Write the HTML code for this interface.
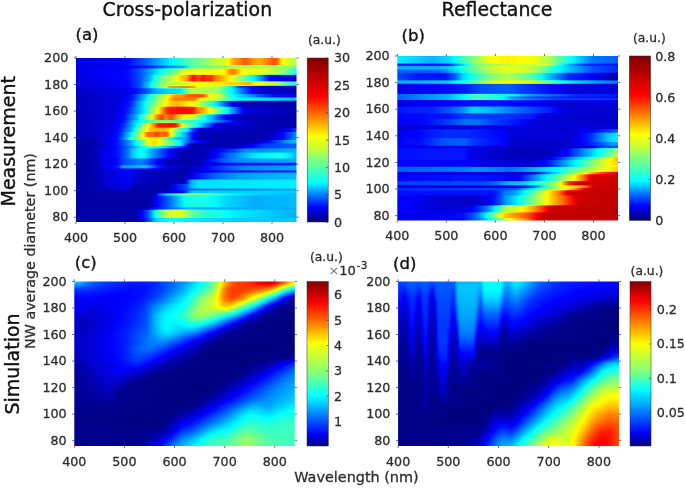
<!DOCTYPE html>
<html><head><meta charset="utf-8"><title>Figure</title>
<style>html,body{margin:0;padding:0;background:#fff}svg{display:block}text{font-family:"DejaVu Sans", "Liberation Sans", sans-serif;stroke-linejoin:round}.t{stroke:#262626;stroke-width:.28}.b{stroke:#111;stroke-width:.36}</style></head>
<body>
<svg width="685" height="488" viewBox="0 0 685 488">
<defs>
<linearGradient id="jet" x1="0" y1="1" x2="0" y2="0">
<stop offset="0.0" stop-color="#000080"/>
<stop offset="0.125" stop-color="#0000ff"/>
<stop offset="0.25" stop-color="#0080ff"/>
<stop offset="0.375" stop-color="#00ffff"/>
<stop offset="0.5" stop-color="#80ff80"/>
<stop offset="0.625" stop-color="#ffff00"/>
<stop offset="0.75" stop-color="#ff8000"/>
<stop offset="0.875" stop-color="#ff0000"/>
<stop offset="1.0" stop-color="#800000"/>
</linearGradient>
<linearGradient id="jetm" x1="0" y1="1" x2="0" y2="0">
<stop offset="0" stop-color="#000080"/>
<stop offset="0.034" stop-color="#0000aa"/>
<stop offset="0.088" stop-color="#0000ff"/>
<stop offset="0.168" stop-color="#0080ff"/>
<stop offset="0.24" stop-color="#00ffff"/>
<stop offset="0.333" stop-color="#59ffa6"/>
<stop offset="0.382" stop-color="#80ff80"/>
<stop offset="0.447" stop-color="#c7ff38"/>
<stop offset="0.524" stop-color="#ffff00"/>
<stop offset="0.64" stop-color="#ff8000"/>
<stop offset="0.763" stop-color="#ff0000"/>
<stop offset="0.88" stop-color="#c00000"/>
<stop offset="1" stop-color="#800000"/>
</linearGradient>
<linearGradient id="jetc" x1="0" y1="1" x2="0" y2="0">
<stop offset="0" stop-color="#000080"/>
<stop offset="0.07" stop-color="#0000ff"/>
<stop offset="0.19" stop-color="#0080ff"/>
<stop offset="0.305" stop-color="#00ffff"/>
<stop offset="0.44" stop-color="#80ff80"/>
<stop offset="0.628" stop-color="#ffff00"/>
<stop offset="0.742" stop-color="#ff8000"/>
<stop offset="0.872" stop-color="#ff0000"/>
<stop offset="1" stop-color="#800000"/>
</linearGradient>
<linearGradient id="jetd" x1="0" y1="1" x2="0" y2="0">
<stop offset="0" stop-color="#000080"/>
<stop offset="0.082" stop-color="#0000ff"/>
<stop offset="0.21" stop-color="#0080ff"/>
<stop offset="0.343" stop-color="#00ffff"/>
<stop offset="0.45" stop-color="#80ff80"/>
<stop offset="0.622" stop-color="#ffff00"/>
<stop offset="0.752" stop-color="#ff8000"/>
<stop offset="0.882" stop-color="#ff0000"/>
<stop offset="1" stop-color="#800000"/>
</linearGradient>
<filter id="fa" x="0" y="0" width="100%" height="100%" color-interpolation-filters="sRGB">
<feGaussianBlur stdDeviation="1 0.7"/>
<feComponentTransfer><feFuncR type="table" tableValues="0 0 0 0 .5 1 1 1 .5"/><feFuncG type="table" tableValues="0 0 .5 1 1 1 .5 0 0"/><feFuncB type="table" tableValues=".5 1 1 1 .5 0 0 0 0"/><feFuncA type="linear" slope="0" intercept="1"/></feComponentTransfer></filter>
<clipPath id="ca"><rect x="76" y="58" width="220.5" height="164"/></clipPath>
<filter id="fb" x="0" y="0" width="100%" height="100%" color-interpolation-filters="sRGB">
<feGaussianBlur stdDeviation="1 0.7"/>
<feComponentTransfer><feFuncR type="table" tableValues="0 0 0 0 .5 1 1 1 .5"/><feFuncG type="table" tableValues="0 0 .5 1 1 1 .5 0 0"/><feFuncB type="table" tableValues=".5 1 1 1 .5 0 0 0 0"/><feFuncA type="linear" slope="0" intercept="1"/></feComponentTransfer></filter>
<clipPath id="cb"><rect x="397.3" y="56" width="220.7" height="164.4"/></clipPath>
<filter id="fc" x="0" y="0" width="100%" height="100%" color-interpolation-filters="sRGB">
<feGaussianBlur stdDeviation="1.5 1.5"/>
<feComponentTransfer><feFuncR type="table" tableValues="0 0 0 0 .5 1 1 1 .5"/><feFuncG type="table" tableValues="0 0 .5 1 1 1 .5 0 0"/><feFuncB type="table" tableValues=".5 1 1 1 .5 0 0 0 0"/><feFuncA type="linear" slope="0" intercept="1"/></feComponentTransfer></filter>
<clipPath id="cc"><rect x="74.3" y="281.5" width="220.5" height="164.5"/></clipPath>
<filter id="fd" x="0" y="0" width="100%" height="100%" color-interpolation-filters="sRGB">
<feGaussianBlur stdDeviation="1.1 1.5"/>
<feComponentTransfer><feFuncR type="table" tableValues="0 0 0 0 .5 1 1 1 .5"/><feFuncG type="table" tableValues="0 0 .5 1 1 1 .5 0 0"/><feFuncB type="table" tableValues=".5 1 1 1 .5 0 0 0 0"/><feFuncA type="linear" slope="0" intercept="1"/></feComponentTransfer></filter>
<clipPath id="cd"><rect x="398.1" y="281.5" width="220.9" height="164.5"/></clipPath>
<linearGradient id="ga0"><stop offset="0" stop-color="#1a1a1a"/><stop offset=".133" stop-color="#1c1c1c"/><stop offset=".233" stop-color="#222222"/><stop offset=".322" stop-color="#393939"/><stop offset=".433" stop-color="#5d5d5d"/><stop offset=".533" stop-color="#797979"/><stop offset=".578" stop-color="#808080"/><stop offset=".622" stop-color="#8e8e8e"/><stop offset=".689" stop-color="#999999"/><stop offset=".7" stop-color="#ababab"/><stop offset=".711" stop-color="#b5b5b5"/><stop offset=".744" stop-color="#bfbfbf"/><stop offset=".767" stop-color="#cccccc"/><stop offset=".8" stop-color="#bbbbbb"/><stop offset=".833" stop-color="#b2b2b2"/><stop offset=".9" stop-color="#cccccc"/><stop offset=".911" stop-color="#c6c6c6"/><stop offset=".922" stop-color="#b6b6b6"/><stop offset=".933" stop-color="#a1a1a1"/><stop offset=".989" stop-color="#8d8d8d"/><stop offset="1" stop-color="#8a8a8a"/></linearGradient>
<linearGradient id="ga1"><stop offset="0" stop-color="#1a1a1a"/><stop offset=".233" stop-color="#1d1d1d"/><stop offset=".344" stop-color="#292929"/><stop offset=".433" stop-color="#424242"/><stop offset=".478" stop-color="#494949"/><stop offset=".5" stop-color="#555555"/><stop offset=".522" stop-color="#6c6c6c"/><stop offset=".533" stop-color="#737373"/><stop offset=".811" stop-color="#8c8c8c"/><stop offset="1" stop-color="#808080"/></linearGradient>
<linearGradient id="ga2"><stop offset="0" stop-color="#1a1a1a"/><stop offset=".111" stop-color="#1f1f1f"/><stop offset=".233" stop-color="#222222"/><stop offset=".3" stop-color="#383838"/><stop offset=".444" stop-color="#7d7d7d"/><stop offset=".489" stop-color="#989898"/><stop offset=".5" stop-color="#9b9b9b"/><stop offset=".611" stop-color="#9c9c9c"/><stop offset=".667" stop-color="#9e9e9e"/><stop offset=".678" stop-color="#a5a5a5"/><stop offset=".7" stop-color="#bfbfbf"/><stop offset=".722" stop-color="#bfbfbf"/><stop offset=".744" stop-color="#a5a5a5"/><stop offset=".756" stop-color="#9e9e9e"/><stop offset=".867" stop-color="#999999"/><stop offset=".944" stop-color="#858585"/><stop offset="1" stop-color="#666666"/></linearGradient>
<linearGradient id="ga3"><stop offset="0" stop-color="#171717"/><stop offset=".233" stop-color="#222222"/><stop offset=".289" stop-color="#333333"/><stop offset=".333" stop-color="#4b4b4b"/><stop offset=".356" stop-color="#636363"/><stop offset=".389" stop-color="#7b7b7b"/><stop offset=".444" stop-color="#959595"/><stop offset=".478" stop-color="#acacac"/><stop offset=".489" stop-color="#b1b1b1"/><stop offset=".5" stop-color="#b2b2b2"/><stop offset=".522" stop-color="#d5d5d5"/><stop offset=".533" stop-color="#e0e0e0"/><stop offset=".556" stop-color="#cccccc"/><stop offset=".567" stop-color="#d7d7d7"/><stop offset=".578" stop-color="#dedede"/><stop offset=".589" stop-color="#d3d3d3"/><stop offset=".6" stop-color="#d0d0d0"/><stop offset=".611" stop-color="#d9d9d9"/><stop offset=".633" stop-color="#c0c0c0"/><stop offset=".678" stop-color="#acacac"/><stop offset=".767" stop-color="#787878"/><stop offset=".844" stop-color="#404040"/><stop offset=".878" stop-color="#212121"/><stop offset=".922" stop-color="#1a1a1a"/><stop offset="1" stop-color="#121212"/></linearGradient>
<linearGradient id="ga4"><stop offset="0" stop-color="#141414"/><stop offset=".233" stop-color="#202020"/><stop offset=".289" stop-color="#333333"/><stop offset=".367" stop-color="#747474"/><stop offset=".411" stop-color="#8c8c8c"/><stop offset=".489" stop-color="#949494"/><stop offset=".522" stop-color="#9b9b9b"/><stop offset=".733" stop-color="#ababab"/><stop offset=".789" stop-color="#b2b2b2"/><stop offset=".811" stop-color="#9e9e9e"/><stop offset=".911" stop-color="#8c8c8c"/><stop offset=".956" stop-color="#737373"/><stop offset="1" stop-color="#666666"/></linearGradient>
<linearGradient id="ga5"><stop offset="0" stop-color="#141414"/><stop offset=".233" stop-color="#202020"/><stop offset=".289" stop-color="#333333"/><stop offset=".378" stop-color="#7f7f7f"/><stop offset=".4" stop-color="#949494"/><stop offset=".422" stop-color="#b8b8b8"/><stop offset=".5" stop-color="#bebebe"/><stop offset=".533" stop-color="#b8b8b8"/><stop offset=".556" stop-color="#999999"/><stop offset=".644" stop-color="#8d8d8d"/><stop offset=".656" stop-color="#888888"/><stop offset=".7" stop-color="#606060"/><stop offset=".744" stop-color="#323232"/><stop offset=".756" stop-color="#2c2c2c"/><stop offset=".856" stop-color="#191919"/><stop offset="1" stop-color="#141414"/></linearGradient>
<linearGradient id="ga6"><stop offset="0" stop-color="#121212"/><stop offset=".233" stop-color="#1a1a1a"/><stop offset=".278" stop-color="#252525"/><stop offset=".322" stop-color="#343434"/><stop offset=".367" stop-color="#4d4d4d"/><stop offset=".478" stop-color="#5a5a5a"/><stop offset=".489" stop-color="#666666"/><stop offset=".511" stop-color="#848484"/><stop offset=".522" stop-color="#8c8c8c"/><stop offset=".633" stop-color="#8a8a8a"/><stop offset=".7" stop-color="#636363"/><stop offset=".789" stop-color="#262626"/><stop offset=".833" stop-color="#121212"/><stop offset="1" stop-color="#0d0d0d"/></linearGradient>
<linearGradient id="ga7"><stop offset="0" stop-color="#0f0f0f"/><stop offset=".2" stop-color="#171717"/><stop offset=".256" stop-color="#262626"/><stop offset=".344" stop-color="#696969"/><stop offset=".411" stop-color="#999999"/><stop offset=".444" stop-color="#b8b8b8"/><stop offset=".478" stop-color="#bbbbbb"/><stop offset=".511" stop-color="#cacaca"/><stop offset=".556" stop-color="#cccccc"/><stop offset=".578" stop-color="#cccccc"/><stop offset=".589" stop-color="#bebebe"/><stop offset=".6" stop-color="#a7a7a7"/><stop offset=".611" stop-color="#9d9d9d"/><stop offset=".644" stop-color="#959595"/><stop offset=".656" stop-color="#8f8f8f"/><stop offset=".689" stop-color="#6d6d6d"/><stop offset=".7" stop-color="#646464"/><stop offset=".844" stop-color="#333333"/><stop offset=".889" stop-color="#262626"/><stop offset="1" stop-color="#1f1f1f"/></linearGradient>
<linearGradient id="ga8"><stop offset="0" stop-color="#0f0f0f"/><stop offset=".2" stop-color="#171717"/><stop offset=".256" stop-color="#262626"/><stop offset=".344" stop-color="#6e6e6e"/><stop offset=".367" stop-color="#818181"/><stop offset=".411" stop-color="#9e9e9e"/><stop offset=".433" stop-color="#b6b6b6"/><stop offset=".444" stop-color="#bfbfbf"/><stop offset=".511" stop-color="#c1c1c1"/><stop offset=".544" stop-color="#bdbdbd"/><stop offset=".567" stop-color="#999999"/><stop offset=".633" stop-color="#949494"/><stop offset=".7" stop-color="#747474"/><stop offset=".733" stop-color="#616161"/><stop offset="1" stop-color="#525252"/></linearGradient>
<linearGradient id="ga9"><stop offset="0" stop-color="#0f0f0f"/><stop offset=".189" stop-color="#171717"/><stop offset=".244" stop-color="#262626"/><stop offset=".333" stop-color="#717171"/><stop offset=".411" stop-color="#a2a2a2"/><stop offset=".433" stop-color="#ababab"/><stop offset=".456" stop-color="#b2b2b2"/><stop offset=".511" stop-color="#a2a2a2"/><stop offset=".544" stop-color="#999999"/><stop offset=".656" stop-color="#494949"/><stop offset=".7" stop-color="#242424"/><stop offset=".733" stop-color="#0f0f0f"/><stop offset="1" stop-color="#0a0a0a"/></linearGradient>
<linearGradient id="ga10"><stop offset="0" stop-color="#0f0f0f"/><stop offset=".178" stop-color="#171717"/><stop offset=".233" stop-color="#262626"/><stop offset=".311" stop-color="#5e5e5e"/><stop offset=".378" stop-color="#a7a7a7"/><stop offset=".4" stop-color="#c3c3c3"/><stop offset=".411" stop-color="#d5d5d5"/><stop offset=".433" stop-color="#dadada"/><stop offset=".5" stop-color="#dedede"/><stop offset=".533" stop-color="#d9d9d9"/><stop offset=".556" stop-color="#bbbbbb"/><stop offset=".578" stop-color="#b4b4b4"/><stop offset=".622" stop-color="#929292"/><stop offset=".7" stop-color="#515151"/><stop offset=".756" stop-color="#202020"/><stop offset=".767" stop-color="#171717"/><stop offset="1" stop-color="#0d0d0d"/></linearGradient>
<linearGradient id="ga11"><stop offset="0" stop-color="#0d0d0d"/><stop offset=".167" stop-color="#171717"/><stop offset=".222" stop-color="#262626"/><stop offset=".278" stop-color="#515151"/><stop offset=".322" stop-color="#838383"/><stop offset=".356" stop-color="#b0b0b0"/><stop offset=".378" stop-color="#c7c7c7"/><stop offset=".389" stop-color="#d1d1d1"/><stop offset=".411" stop-color="#b8b8b8"/><stop offset=".422" stop-color="#cacaca"/><stop offset=".433" stop-color="#cbcbcb"/><stop offset=".467" stop-color="#acacac"/><stop offset=".489" stop-color="#9e9e9e"/><stop offset=".522" stop-color="#969696"/><stop offset=".533" stop-color="#909090"/><stop offset=".6" stop-color="#575757"/><stop offset=".667" stop-color="#262626"/><stop offset=".711" stop-color="#0f0f0f"/><stop offset="1" stop-color="#0a0a0a"/></linearGradient>
<linearGradient id="ga12"><stop offset="0" stop-color="#0d0d0d"/><stop offset=".167" stop-color="#171717"/><stop offset=".222" stop-color="#262626"/><stop offset=".256" stop-color="#4a4a4a"/><stop offset=".3" stop-color="#646464"/><stop offset=".4" stop-color="#737373"/><stop offset=".489" stop-color="#686868"/><stop offset=".522" stop-color="#686868"/><stop offset=".578" stop-color="#606060"/><stop offset=".722" stop-color="#212121"/><stop offset=".8" stop-color="#0f0f0f"/><stop offset="1" stop-color="#0d0d0d"/></linearGradient>
<linearGradient id="ga13"><stop offset="0" stop-color="#0d0d0d"/><stop offset=".156" stop-color="#171717"/><stop offset=".211" stop-color="#262626"/><stop offset=".267" stop-color="#565656"/><stop offset=".311" stop-color="#888888"/><stop offset=".344" stop-color="#b3b3b3"/><stop offset=".356" stop-color="#bfbfbf"/><stop offset=".367" stop-color="#d3d3d3"/><stop offset=".378" stop-color="#dbdbdb"/><stop offset=".444" stop-color="#dbdbdb"/><stop offset=".456" stop-color="#d6d6d6"/><stop offset=".467" stop-color="#bdbdbd"/><stop offset=".489" stop-color="#959595"/><stop offset=".5" stop-color="#888888"/><stop offset=".533" stop-color="#717171"/><stop offset=".622" stop-color="#252525"/><stop offset=".644" stop-color="#141414"/><stop offset="1" stop-color="#0a0a0a"/></linearGradient>
<linearGradient id="ga14"><stop offset="0" stop-color="#0d0d0d"/><stop offset=".156" stop-color="#171717"/><stop offset=".2" stop-color="#252525"/><stop offset=".244" stop-color="#474747"/><stop offset=".256" stop-color="#525252"/><stop offset=".289" stop-color="#808080"/><stop offset=".333" stop-color="#aaaaaa"/><stop offset=".344" stop-color="#b2b2b2"/><stop offset=".411" stop-color="#b2b2b2"/><stop offset=".456" stop-color="#858585"/><stop offset=".467" stop-color="#787878"/><stop offset=".489" stop-color="#696969"/><stop offset=".5" stop-color="#646464"/><stop offset=".511" stop-color="#545454"/><stop offset=".522" stop-color="#3e3e3e"/><stop offset=".533" stop-color="#2f2f2f"/><stop offset=".567" stop-color="#141414"/><stop offset=".889" stop-color="#0d0d0d"/><stop offset=".956" stop-color="#1a1a1a"/><stop offset="1" stop-color="#2e2e2e"/></linearGradient>
<linearGradient id="ga15"><stop offset="0" stop-color="#0d0d0d"/><stop offset=".144" stop-color="#171717"/><stop offset=".189" stop-color="#242424"/><stop offset=".2" stop-color="#2a2a2a"/><stop offset=".244" stop-color="#565656"/><stop offset=".278" stop-color="#7b7b7b"/><stop offset=".3" stop-color="#9c9c9c"/><stop offset=".311" stop-color="#adadad"/><stop offset=".322" stop-color="#c3c3c3"/><stop offset=".333" stop-color="#c9c9c9"/><stop offset=".344" stop-color="#c3c3c3"/><stop offset=".367" stop-color="#d1d1d1"/><stop offset=".389" stop-color="#c2c2c2"/><stop offset=".411" stop-color="#cccccc"/><stop offset=".433" stop-color="#999999"/><stop offset=".467" stop-color="#646464"/><stop offset=".5" stop-color="#484848"/><stop offset=".522" stop-color="#2b2b2b"/><stop offset=".533" stop-color="#1f1f1f"/><stop offset=".567" stop-color="#0d0d0d"/><stop offset=".867" stop-color="#0d0d0d"/><stop offset=".933" stop-color="#1f1f1f"/><stop offset="1" stop-color="#454545"/></linearGradient>
<linearGradient id="ga16"><stop offset="0" stop-color="#0a0a0a"/><stop offset=".089" stop-color="#0d0d0d"/><stop offset=".189" stop-color="#262626"/><stop offset=".233" stop-color="#525252"/><stop offset=".267" stop-color="#808080"/><stop offset=".3" stop-color="#9a9a9a"/><stop offset=".311" stop-color="#9f9f9f"/><stop offset=".367" stop-color="#a3a3a3"/><stop offset=".411" stop-color="#767676"/><stop offset=".444" stop-color="#595959"/><stop offset=".5" stop-color="#464646"/><stop offset=".533" stop-color="#1f1f1f"/><stop offset=".567" stop-color="#0d0d0d"/><stop offset=".867" stop-color="#0d0d0d"/><stop offset=".933" stop-color="#1f1f1f"/><stop offset="1" stop-color="#454545"/></linearGradient>
<linearGradient id="ga17"><stop offset="0" stop-color="#0a0a0a"/><stop offset=".078" stop-color="#0b0b0b"/><stop offset=".189" stop-color="#262626"/><stop offset=".233" stop-color="#3f3f3f"/><stop offset=".278" stop-color="#626262"/><stop offset=".322" stop-color="#909090"/><stop offset=".333" stop-color="#a0a0a0"/><stop offset=".356" stop-color="#aaaaaa"/><stop offset=".378" stop-color="#9d9d9d"/><stop offset=".467" stop-color="#606060"/><stop offset=".478" stop-color="#595959"/><stop offset=".5" stop-color="#414141"/><stop offset=".522" stop-color="#2e2e2e"/><stop offset=".589" stop-color="#161616"/><stop offset=".622" stop-color="#0d0d0d"/><stop offset=".8" stop-color="#0d0d0d"/><stop offset=".867" stop-color="#1f1f1f"/><stop offset=".922" stop-color="#353535"/><stop offset=".956" stop-color="#474747"/><stop offset="1" stop-color="#525252"/></linearGradient>
<linearGradient id="ga18"><stop offset="0" stop-color="#0a0a0a"/><stop offset=".078" stop-color="#0b0b0b"/><stop offset=".189" stop-color="#262626"/><stop offset=".233" stop-color="#3f3f3f"/><stop offset=".278" stop-color="#626262"/><stop offset=".322" stop-color="#909090"/><stop offset=".333" stop-color="#a0a0a0"/><stop offset=".356" stop-color="#aaaaaa"/><stop offset=".378" stop-color="#9d9d9d"/><stop offset=".467" stop-color="#606060"/><stop offset=".478" stop-color="#595959"/><stop offset=".511" stop-color="#1d1d1d"/><stop offset=".522" stop-color="#0f0f0f"/><stop offset=".533" stop-color="#0a0a0a"/><stop offset=".733" stop-color="#0e0e0e"/><stop offset=".822" stop-color="#262626"/><stop offset=".844" stop-color="#2e2e2e"/><stop offset="1" stop-color="#383838"/></linearGradient>
<linearGradient id="ga19"><stop offset="0" stop-color="#0a0a0a"/><stop offset=".078" stop-color="#0b0b0b"/><stop offset=".189" stop-color="#242424"/><stop offset=".233" stop-color="#373737"/><stop offset=".322" stop-color="#727272"/><stop offset=".333" stop-color="#747474"/><stop offset=".367" stop-color="#6b6b6b"/><stop offset=".467" stop-color="#343434"/><stop offset=".489" stop-color="#272727"/><stop offset=".522" stop-color="#0f0f0f"/><stop offset=".533" stop-color="#0a0a0a"/><stop offset=".733" stop-color="#0e0e0e"/><stop offset=".822" stop-color="#262626"/><stop offset=".844" stop-color="#2e2e2e"/><stop offset="1" stop-color="#383838"/></linearGradient>
<linearGradient id="ga20"><stop offset="0" stop-color="#0a0a0a"/><stop offset=".078" stop-color="#0b0b0b"/><stop offset=".111" stop-color="#181818"/><stop offset=".178" stop-color="#212121"/><stop offset=".2" stop-color="#2a2a2a"/><stop offset=".233" stop-color="#3c3c3c"/><stop offset=".256" stop-color="#525252"/><stop offset=".289" stop-color="#616161"/><stop offset=".311" stop-color="#5e5e5e"/><stop offset=".344" stop-color="#484848"/><stop offset=".411" stop-color="#272727"/><stop offset=".456" stop-color="#131313"/><stop offset=".5" stop-color="#0d0d0d"/><stop offset=".578" stop-color="#101010"/><stop offset=".722" stop-color="#323232"/><stop offset=".767" stop-color="#424242"/><stop offset="1" stop-color="#4c4c4c"/></linearGradient>
<linearGradient id="ga21"><stop offset="0" stop-color="#0a0a0a"/><stop offset=".078" stop-color="#0b0b0b"/><stop offset=".111" stop-color="#181818"/><stop offset=".178" stop-color="#212121"/><stop offset=".2" stop-color="#2a2a2a"/><stop offset=".233" stop-color="#3c3c3c"/><stop offset=".256" stop-color="#525252"/><stop offset=".289" stop-color="#616161"/><stop offset=".311" stop-color="#5e5e5e"/><stop offset=".344" stop-color="#484848"/><stop offset=".411" stop-color="#272727"/><stop offset=".456" stop-color="#131313"/><stop offset=".5" stop-color="#0b0b0b"/><stop offset=".589" stop-color="#0d0d0d"/><stop offset=".689" stop-color="#383838"/><stop offset=".8" stop-color="#595959"/><stop offset=".922" stop-color="#666666"/><stop offset=".978" stop-color="#595959"/><stop offset="1" stop-color="#4c4c4c"/></linearGradient>
<linearGradient id="ga22"><stop offset="0" stop-color="#0a0a0a"/><stop offset=".078" stop-color="#0b0b0b"/><stop offset=".122" stop-color="#181818"/><stop offset=".178" stop-color="#1e1e1e"/><stop offset=".222" stop-color="#333333"/><stop offset=".289" stop-color="#404040"/><stop offset=".322" stop-color="#373737"/><stop offset=".378" stop-color="#1b1b1b"/><stop offset=".422" stop-color="#0d0d0d"/><stop offset=".511" stop-color="#0b0b0b"/><stop offset=".556" stop-color="#0d0d0d"/><stop offset=".656" stop-color="#343434"/><stop offset=".722" stop-color="#434343"/><stop offset="1" stop-color="#4c4c4c"/></linearGradient>
<linearGradient id="ga23"><stop offset="0" stop-color="#0a0a0a"/><stop offset=".078" stop-color="#0b0b0b"/><stop offset=".122" stop-color="#181818"/><stop offset=".178" stop-color="#1e1e1e"/><stop offset=".222" stop-color="#333333"/><stop offset=".289" stop-color="#404040"/><stop offset=".322" stop-color="#373737"/><stop offset=".378" stop-color="#1b1b1b"/><stop offset=".422" stop-color="#0d0d0d"/><stop offset=".511" stop-color="#0b0b0b"/><stop offset=".578" stop-color="#111111"/><stop offset=".667" stop-color="#1e1e1e"/><stop offset=".778" stop-color="#242424"/><stop offset="1" stop-color="#262626"/></linearGradient>
<linearGradient id="ga24"><stop offset="0" stop-color="#0a0a0a"/><stop offset=".078" stop-color="#0b0b0b"/><stop offset=".122" stop-color="#1b1b1b"/><stop offset=".189" stop-color="#262626"/><stop offset=".211" stop-color="#474747"/><stop offset=".311" stop-color="#525252"/><stop offset=".344" stop-color="#404040"/><stop offset=".378" stop-color="#262626"/><stop offset=".456" stop-color="#151515"/><stop offset=".511" stop-color="#0c0c0c"/><stop offset=".578" stop-color="#111111"/><stop offset=".667" stop-color="#1e1e1e"/><stop offset=".778" stop-color="#242424"/><stop offset="1" stop-color="#262626"/></linearGradient>
<linearGradient id="ga25"><stop offset="0" stop-color="#0a0a0a"/><stop offset=".078" stop-color="#0b0b0b"/><stop offset=".122" stop-color="#1b1b1b"/><stop offset=".189" stop-color="#262626"/><stop offset=".211" stop-color="#474747"/><stop offset=".311" stop-color="#525252"/><stop offset=".344" stop-color="#404040"/><stop offset=".378" stop-color="#262626"/><stop offset=".456" stop-color="#151515"/><stop offset=".5" stop-color="#0e0e0e"/><stop offset=".556" stop-color="#171717"/><stop offset=".656" stop-color="#303030"/><stop offset=".756" stop-color="#404040"/><stop offset="1" stop-color="#4a4a4a"/></linearGradient>
<linearGradient id="ga26"><stop offset="0" stop-color="#0a0a0a"/><stop offset=".078" stop-color="#0b0b0b"/><stop offset=".133" stop-color="#161616"/><stop offset=".244" stop-color="#1e1e1e"/><stop offset=".267" stop-color="#191919"/><stop offset=".289" stop-color="#121212"/><stop offset=".489" stop-color="#0b0b0b"/><stop offset=".556" stop-color="#171717"/><stop offset=".656" stop-color="#303030"/><stop offset=".756" stop-color="#404040"/><stop offset="1" stop-color="#4a4a4a"/></linearGradient>
<linearGradient id="ga27"><stop offset="0" stop-color="#0a0a0a"/><stop offset=".078" stop-color="#0b0b0b"/><stop offset=".133" stop-color="#161616"/><stop offset=".244" stop-color="#1e1e1e"/><stop offset=".267" stop-color="#191919"/><stop offset=".289" stop-color="#121212"/><stop offset=".489" stop-color="#0b0b0b"/><stop offset=".567" stop-color="#111111"/><stop offset=".644" stop-color="#1f1f1f"/><stop offset="1" stop-color="#262626"/></linearGradient>
<linearGradient id="ga28"><stop offset="0" stop-color="#0a0a0a"/><stop offset=".078" stop-color="#0b0b0b"/><stop offset=".133" stop-color="#161616"/><stop offset=".244" stop-color="#1e1e1e"/><stop offset=".267" stop-color="#191919"/><stop offset=".289" stop-color="#121212"/><stop offset=".478" stop-color="#0b0b0b"/><stop offset=".5" stop-color="#0f0f0f"/><stop offset=".533" stop-color="#1f1f1f"/><stop offset=".633" stop-color="#3a3a3a"/><stop offset=".744" stop-color="#484848"/><stop offset="1" stop-color="#4f4f4f"/></linearGradient>
<linearGradient id="ga29"><stop offset="0" stop-color="#0a0a0a"/><stop offset=".078" stop-color="#0b0b0b"/><stop offset=".133" stop-color="#161616"/><stop offset=".244" stop-color="#1e1e1e"/><stop offset=".267" stop-color="#191919"/><stop offset=".289" stop-color="#121212"/><stop offset=".478" stop-color="#0b0b0b"/><stop offset=".489" stop-color="#121212"/><stop offset=".5" stop-color="#1f1f1f"/><stop offset=".511" stop-color="#383838"/><stop offset=".522" stop-color="#4d4d4d"/><stop offset=".556" stop-color="#595959"/><stop offset="1" stop-color="#5c5c5c"/></linearGradient>
<linearGradient id="ga30"><stop offset="0" stop-color="#0a0a0a"/><stop offset=".078" stop-color="#0b0b0b"/><stop offset=".144" stop-color="#141414"/><stop offset=".233" stop-color="#181818"/><stop offset=".267" stop-color="#0d0d0d"/><stop offset=".422" stop-color="#0d0d0d"/><stop offset=".456" stop-color="#252525"/><stop offset=".5" stop-color="#323232"/><stop offset=".522" stop-color="#4d4d4d"/><stop offset=".556" stop-color="#595959"/><stop offset="1" stop-color="#5c5c5c"/></linearGradient>
<linearGradient id="ga31"><stop offset="0" stop-color="#0a0a0a"/><stop offset=".078" stop-color="#0b0b0b"/><stop offset=".144" stop-color="#141414"/><stop offset=".233" stop-color="#181818"/><stop offset=".267" stop-color="#0d0d0d"/><stop offset=".422" stop-color="#0d0d0d"/><stop offset=".456" stop-color="#252525"/><stop offset=".5" stop-color="#333333"/><stop offset="1" stop-color="#474747"/></linearGradient>
<linearGradient id="ga32"><stop offset="0" stop-color="#0a0a0a"/><stop offset=".356" stop-color="#090909"/><stop offset=".433" stop-color="#1a1a1a"/><stop offset=".478" stop-color="#1d1d1d"/><stop offset=".489" stop-color="#252525"/><stop offset=".5" stop-color="#313131"/><stop offset=".522" stop-color="#4e4e4e"/><stop offset=".533" stop-color="#545454"/><stop offset="1" stop-color="#545454"/></linearGradient>
<linearGradient id="ga33"><stop offset="0" stop-color="#0a0a0a"/><stop offset=".356" stop-color="#0d0d0d"/><stop offset=".378" stop-color="#3b3b3b"/><stop offset=".389" stop-color="#474747"/><stop offset=".422" stop-color="#616161"/><stop offset=".478" stop-color="#777777"/><stop offset=".5" stop-color="#828282"/><stop offset=".556" stop-color="#818181"/><stop offset=".589" stop-color="#7c7c7c"/><stop offset=".689" stop-color="#636363"/><stop offset=".733" stop-color="#5b5b5b"/><stop offset="1" stop-color="#4c4c4c"/></linearGradient>
<linearGradient id="ga34"><stop offset="0" stop-color="#0a0a0a"/><stop offset=".333" stop-color="#0a0a0a"/><stop offset=".367" stop-color="#202020"/><stop offset=".422" stop-color="#393939"/><stop offset=".5" stop-color="#646464"/><stop offset=".578" stop-color="#666666"/><stop offset=".678" stop-color="#565656"/><stop offset=".8" stop-color="#4c4c4c"/><stop offset="1" stop-color="#4f4f4f"/></linearGradient>
<linearGradient id="ga35"><stop offset="0" stop-color="#0a0a0a"/><stop offset=".311" stop-color="#0a0a0a"/><stop offset=".333" stop-color="#1d1d1d"/><stop offset=".422" stop-color="#383838"/><stop offset=".489" stop-color="#474747"/><stop offset=".511" stop-color="#4c4c4c"/><stop offset="1" stop-color="#4c4c4c"/></linearGradient>
<linearGradient id="ga36"><stop offset="0" stop-color="#0a0a0a"/><stop offset=".267" stop-color="#0a0a0a"/><stop offset=".322" stop-color="#303030"/><stop offset=".333" stop-color="#3d3d3d"/><stop offset=".356" stop-color="#5c5c5c"/><stop offset=".378" stop-color="#757575"/><stop offset=".411" stop-color="#8f8f8f"/><stop offset=".456" stop-color="#999999"/><stop offset=".478" stop-color="#959595"/><stop offset=".5" stop-color="#8a8a8a"/><stop offset=".522" stop-color="#7a7a7a"/><stop offset=".544" stop-color="#737373"/><stop offset=".589" stop-color="#6a6a6a"/><stop offset=".667" stop-color="#636363"/><stop offset=".722" stop-color="#5b5b5b"/><stop offset="1" stop-color="#4c4c4c"/></linearGradient>
<linearGradient id="ga37"><stop offset="0" stop-color="#0a0a0a"/><stop offset=".278" stop-color="#0a0a0a"/><stop offset=".333" stop-color="#363636"/><stop offset=".367" stop-color="#575757"/><stop offset=".422" stop-color="#616161"/><stop offset=".622" stop-color="#575757"/><stop offset=".711" stop-color="#545454"/><stop offset="1" stop-color="#525252"/></linearGradient>
<linearGradient id="gb0"><stop offset="0" stop-color="#5c5c5c"/><stop offset=".156" stop-color="#4d4d4d"/><stop offset=".233" stop-color="#565656"/><stop offset=".333" stop-color="#7c7c7c"/><stop offset=".389" stop-color="#939393"/><stop offset=".422" stop-color="#9e9e9e"/><stop offset=".5" stop-color="#a2a2a2"/><stop offset=".611" stop-color="#9e9e9e"/><stop offset=".689" stop-color="#8b8b8b"/><stop offset=".756" stop-color="#6d6d6d"/><stop offset=".867" stop-color="#444444"/><stop offset=".889" stop-color="#3d3d3d"/><stop offset="1" stop-color="#383838"/></linearGradient>
<linearGradient id="gb1"><stop offset="0" stop-color="#262626"/><stop offset=".222" stop-color="#242424"/><stop offset=".289" stop-color="#505050"/><stop offset=".356" stop-color="#808080"/><stop offset=".489" stop-color="#8f8f8f"/><stop offset=".522" stop-color="#949494"/><stop offset=".678" stop-color="#949494"/><stop offset=".689" stop-color="#929292"/><stop offset=".744" stop-color="#636363"/><stop offset=".8" stop-color="#404040"/><stop offset=".856" stop-color="#292929"/><stop offset="1" stop-color="#262626"/></linearGradient>
<linearGradient id="gb2"><stop offset="0" stop-color="#4c4c4c"/><stop offset=".189" stop-color="#4c4c4c"/><stop offset=".244" stop-color="#545454"/><stop offset=".333" stop-color="#767676"/><stop offset=".422" stop-color="#919191"/><stop offset=".467" stop-color="#979797"/><stop offset=".533" stop-color="#989898"/><stop offset=".578" stop-color="#959595"/><stop offset=".644" stop-color="#868686"/><stop offset=".7" stop-color="#696969"/><stop offset=".778" stop-color="#515151"/><stop offset=".889" stop-color="#333333"/><stop offset="1" stop-color="#2b2b2b"/></linearGradient>
<linearGradient id="gb3"><stop offset="0" stop-color="#383838"/><stop offset=".189" stop-color="#383838"/><stop offset=".267" stop-color="#565656"/><stop offset=".322" stop-color="#6d6d6d"/><stop offset=".433" stop-color="#919191"/><stop offset=".511" stop-color="#999999"/><stop offset=".578" stop-color="#959595"/><stop offset=".644" stop-color="#868686"/><stop offset=".7" stop-color="#696969"/><stop offset=".778" stop-color="#515151"/><stop offset=".889" stop-color="#333333"/><stop offset="1" stop-color="#2b2b2b"/></linearGradient>
<linearGradient id="gb4"><stop offset="0" stop-color="#333333"/><stop offset=".078" stop-color="#262626"/><stop offset=".222" stop-color="#242424"/><stop offset=".267" stop-color="#3a3a3a"/><stop offset=".3" stop-color="#575757"/><stop offset=".378" stop-color="#727272"/><stop offset=".422" stop-color="#808080"/><stop offset=".5" stop-color="#8c8c8c"/><stop offset=".611" stop-color="#747474"/><stop offset=".656" stop-color="#5f5f5f"/><stop offset=".778" stop-color="#292929"/><stop offset=".889" stop-color="#1f1f1f"/><stop offset=".944" stop-color="#131313"/><stop offset="1" stop-color="#0a0a0a"/></linearGradient>
<linearGradient id="gb5"><stop offset="0" stop-color="#4c4c4c"/><stop offset=".222" stop-color="#545454"/><stop offset=".311" stop-color="#6a6a6a"/><stop offset=".433" stop-color="#999999"/><stop offset=".511" stop-color="#9e9e9e"/><stop offset=".611" stop-color="#999999"/><stop offset=".711" stop-color="#767676"/><stop offset=".767" stop-color="#606060"/><stop offset=".889" stop-color="#4b4b4b"/><stop offset="1" stop-color="#404040"/></linearGradient>
<linearGradient id="gb6"><stop offset="0" stop-color="#1a1a1a"/><stop offset=".211" stop-color="#202020"/><stop offset=".311" stop-color="#282828"/><stop offset=".378" stop-color="#333333"/><stop offset=".5" stop-color="#373737"/><stop offset=".589" stop-color="#2d2d2d"/><stop offset=".733" stop-color="#1f1f1f"/><stop offset=".778" stop-color="#171717"/><stop offset="1" stop-color="#171717"/></linearGradient>
<linearGradient id="gb7"><stop offset="0" stop-color="#383838"/><stop offset=".222" stop-color="#4c4c4c"/><stop offset=".311" stop-color="#616161"/><stop offset=".333" stop-color="#6d6d6d"/><stop offset=".356" stop-color="#707070"/><stop offset=".411" stop-color="#6c6c6c"/><stop offset=".489" stop-color="#606060"/><stop offset=".533" stop-color="#5c5c5c"/><stop offset=".611" stop-color="#474747"/><stop offset=".767" stop-color="#313131"/><stop offset=".811" stop-color="#2b2b2b"/><stop offset="1" stop-color="#262626"/></linearGradient>
<linearGradient id="gb8"><stop offset="0" stop-color="#383838"/><stop offset=".222" stop-color="#4c4c4c"/><stop offset=".311" stop-color="#616161"/><stop offset=".333" stop-color="#6d6d6d"/><stop offset=".356" stop-color="#707070"/><stop offset=".411" stop-color="#6c6c6c"/><stop offset=".478" stop-color="#616161"/><stop offset=".5" stop-color="#4d4d4d"/><stop offset=".511" stop-color="#414141"/><stop offset=".522" stop-color="#3b3b3b"/><stop offset=".611" stop-color="#292929"/><stop offset="1" stop-color="#212121"/></linearGradient>
<linearGradient id="gb9"><stop offset="0" stop-color="#383838"/><stop offset=".222" stop-color="#4c4c4c"/><stop offset=".311" stop-color="#616161"/><stop offset=".333" stop-color="#6d6d6d"/><stop offset=".356" stop-color="#707070"/><stop offset=".411" stop-color="#6c6c6c"/><stop offset=".478" stop-color="#616161"/><stop offset=".522" stop-color="#4e4e4e"/><stop offset=".733" stop-color="#333333"/><stop offset="1" stop-color="#2e2e2e"/></linearGradient>
<linearGradient id="gb10"><stop offset="0" stop-color="#1a1a1a"/><stop offset=".189" stop-color="#1e1e1e"/><stop offset=".333" stop-color="#242424"/><stop offset=".456" stop-color="#252525"/><stop offset=".478" stop-color="#232323"/><stop offset=".5" stop-color="#3c3c3c"/><stop offset=".511" stop-color="#4a4a4a"/><stop offset=".522" stop-color="#4e4e4e"/><stop offset=".733" stop-color="#333333"/><stop offset="1" stop-color="#2e2e2e"/></linearGradient>
<linearGradient id="gb11"><stop offset="0" stop-color="#1a1a1a"/><stop offset=".189" stop-color="#1e1e1e"/><stop offset=".333" stop-color="#242424"/><stop offset=".456" stop-color="#252525"/><stop offset=".556" stop-color="#1f1f1f"/><stop offset=".667" stop-color="#1a1a1a"/><stop offset=".733" stop-color="#141414"/><stop offset="1" stop-color="#171717"/></linearGradient>
<linearGradient id="gb12"><stop offset="0" stop-color="#262626"/><stop offset=".156" stop-color="#292929"/><stop offset=".244" stop-color="#373737"/><stop offset=".3" stop-color="#444444"/><stop offset=".333" stop-color="#545454"/><stop offset=".356" stop-color="#555555"/><stop offset=".411" stop-color="#505050"/><stop offset=".544" stop-color="#3b3b3b"/><stop offset=".689" stop-color="#282828"/><stop offset=".756" stop-color="#171717"/><stop offset="1" stop-color="#141414"/></linearGradient>
<linearGradient id="gb13"><stop offset="0" stop-color="#212121"/><stop offset=".233" stop-color="#252525"/><stop offset=".311" stop-color="#303030"/><stop offset=".489" stop-color="#2d2d2d"/><stop offset=".611" stop-color="#262626"/><stop offset=".667" stop-color="#171717"/><stop offset="1" stop-color="#121212"/></linearGradient>
<linearGradient id="gb14"><stop offset="0" stop-color="#1f1f1f"/><stop offset=".122" stop-color="#222222"/><stop offset=".244" stop-color="#313131"/><stop offset=".311" stop-color="#3d3d3d"/><stop offset=".367" stop-color="#3d3d3d"/><stop offset=".456" stop-color="#2d2d2d"/><stop offset=".511" stop-color="#282828"/><stop offset=".6" stop-color="#1c1c1c"/><stop offset=".622" stop-color="#171717"/><stop offset="1" stop-color="#121212"/></linearGradient>
<linearGradient id="gb15"><stop offset="0" stop-color="#121212"/><stop offset=".133" stop-color="#181818"/><stop offset=".489" stop-color="#1b1b1b"/><stop offset=".533" stop-color="#181818"/><stop offset=".811" stop-color="#181818"/><stop offset="1" stop-color="#171717"/></linearGradient>
<linearGradient id="gb16"><stop offset="0" stop-color="#1a1a1a"/><stop offset=".222" stop-color="#2b2b2b"/><stop offset=".322" stop-color="#2a2a2a"/><stop offset=".478" stop-color="#202020"/><stop offset=".522" stop-color="#171717"/><stop offset=".8" stop-color="#141414"/><stop offset=".956" stop-color="#2e2e2e"/><stop offset="1" stop-color="#383838"/></linearGradient>
<linearGradient id="gb17"><stop offset="0" stop-color="#1a1a1a"/><stop offset=".222" stop-color="#2b2b2b"/><stop offset=".322" stop-color="#2a2a2a"/><stop offset=".478" stop-color="#202020"/><stop offset=".522" stop-color="#171717"/><stop offset=".8" stop-color="#171717"/><stop offset=".878" stop-color="#2b2b2b"/><stop offset=".956" stop-color="#525252"/><stop offset="1" stop-color="#5e5e5e"/></linearGradient>
<linearGradient id="gb18"><stop offset="0" stop-color="#212121"/><stop offset=".111" stop-color="#242424"/><stop offset=".2" stop-color="#343434"/><stop offset=".3" stop-color="#383838"/><stop offset=".356" stop-color="#2c2c2c"/><stop offset=".478" stop-color="#212121"/><stop offset=".522" stop-color="#141414"/><stop offset=".767" stop-color="#131313"/><stop offset=".867" stop-color="#282828"/><stop offset=".967" stop-color="#575757"/><stop offset="1" stop-color="#5e5e5e"/></linearGradient>
<linearGradient id="gb19"><stop offset="0" stop-color="#212121"/><stop offset=".111" stop-color="#242424"/><stop offset=".2" stop-color="#343434"/><stop offset=".3" stop-color="#383838"/><stop offset=".356" stop-color="#2c2c2c"/><stop offset=".478" stop-color="#212121"/><stop offset=".522" stop-color="#141414"/><stop offset=".767" stop-color="#131313"/><stop offset=".878" stop-color="#282828"/><stop offset=".933" stop-color="#373737"/><stop offset=".978" stop-color="#444444"/><stop offset="1" stop-color="#474747"/></linearGradient>
<linearGradient id="gb20"><stop offset="0" stop-color="#1a1a1a"/><stop offset=".489" stop-color="#161616"/><stop offset=".522" stop-color="#121212"/><stop offset=".878" stop-color="#121212"/><stop offset=".922" stop-color="#2e2e2e"/><stop offset="1" stop-color="#383838"/></linearGradient>
<linearGradient id="gb21"><stop offset="0" stop-color="#242424"/><stop offset=".3" stop-color="#262626"/><stop offset=".344" stop-color="#191919"/><stop offset=".489" stop-color="#121212"/><stop offset=".556" stop-color="#0f0f0f"/><stop offset=".689" stop-color="#101010"/><stop offset=".767" stop-color="#202020"/><stop offset=".878" stop-color="#515151"/><stop offset=".967" stop-color="#797979"/><stop offset="1" stop-color="#8c8c8c"/></linearGradient>
<linearGradient id="gb22"><stop offset="0" stop-color="#242424"/><stop offset=".3" stop-color="#262626"/><stop offset=".344" stop-color="#191919"/><stop offset=".522" stop-color="#121212"/><stop offset=".644" stop-color="#121212"/><stop offset=".722" stop-color="#262626"/><stop offset=".789" stop-color="#484848"/><stop offset=".856" stop-color="#616161"/><stop offset=".944" stop-color="#949494"/><stop offset="1" stop-color="#b2b2b2"/></linearGradient>
<linearGradient id="gb23"><stop offset="0" stop-color="#212121"/><stop offset=".311" stop-color="#202020"/><stop offset=".378" stop-color="#191919"/><stop offset=".5" stop-color="#161616"/><stop offset=".589" stop-color="#141414"/><stop offset=".611" stop-color="#141414"/><stop offset=".689" stop-color="#272727"/><stop offset=".778" stop-color="#515151"/><stop offset=".844" stop-color="#6e6e6e"/><stop offset=".889" stop-color="#848484"/><stop offset=".978" stop-color="#a7a7a7"/><stop offset="1" stop-color="#adadad"/></linearGradient>
<linearGradient id="gb24"><stop offset="0" stop-color="#212121"/><stop offset=".311" stop-color="#202020"/><stop offset=".378" stop-color="#191919"/><stop offset=".478" stop-color="#171717"/><stop offset=".522" stop-color="#0f0f0f"/><stop offset=".644" stop-color="#0f0f0f"/><stop offset=".711" stop-color="#262626"/><stop offset=".867" stop-color="#757575"/><stop offset=".933" stop-color="#909090"/><stop offset="1" stop-color="#a3a3a3"/></linearGradient>
<linearGradient id="gb25"><stop offset="0" stop-color="#383838"/><stop offset=".289" stop-color="#3f3f3f"/><stop offset=".356" stop-color="#454545"/><stop offset=".478" stop-color="#3f3f3f"/><stop offset=".5" stop-color="#3b3b3b"/><stop offset=".544" stop-color="#404040"/><stop offset=".722" stop-color="#606060"/><stop offset=".9" stop-color="#939393"/><stop offset=".944" stop-color="#a0a0a0"/><stop offset="1" stop-color="#ababab"/></linearGradient>
<linearGradient id="gb26"><stop offset="0" stop-color="#171717"/><stop offset=".611" stop-color="#141414"/><stop offset=".722" stop-color="#555555"/><stop offset=".867" stop-color="#a6a6a6"/><stop offset=".922" stop-color="#cccccc"/><stop offset="1" stop-color="#ebebeb"/></linearGradient>
<linearGradient id="gb27"><stop offset="0" stop-color="#212121"/><stop offset=".333" stop-color="#262626"/><stop offset=".478" stop-color="#222222"/><stop offset=".511" stop-color="#1e1e1e"/><stop offset=".556" stop-color="#212121"/><stop offset=".667" stop-color="#5a5a5a"/><stop offset=".8" stop-color="#9e9e9e"/><stop offset=".844" stop-color="#c4c4c4"/><stop offset=".878" stop-color="#e8e8e8"/><stop offset="1" stop-color="#ebebeb"/></linearGradient>
<linearGradient id="gb28"><stop offset="0" stop-color="#303030"/><stop offset=".4" stop-color="#333333"/><stop offset=".456" stop-color="#3d3d3d"/><stop offset=".5" stop-color="#4d4d4d"/><stop offset=".578" stop-color="#535353"/><stop offset=".722" stop-color="#8b8b8b"/><stop offset=".744" stop-color="#a5a5a5"/><stop offset=".767" stop-color="#c6c6c6"/><stop offset=".778" stop-color="#d4d4d4"/><stop offset=".811" stop-color="#e7e7e7"/><stop offset=".822" stop-color="#ebebeb"/><stop offset="1" stop-color="#ededed"/></linearGradient>
<linearGradient id="gb29"><stop offset="0" stop-color="#1a1a1a"/><stop offset=".522" stop-color="#1b1b1b"/><stop offset=".567" stop-color="#1e1e1e"/><stop offset=".578" stop-color="#212121"/><stop offset=".633" stop-color="#424242"/><stop offset=".7" stop-color="#7a7a7a"/><stop offset=".756" stop-color="#9e9e9e"/><stop offset=".811" stop-color="#a8a8a8"/><stop offset=".856" stop-color="#c4c4c4"/><stop offset=".889" stop-color="#e8e8e8"/><stop offset="1" stop-color="#ececec"/></linearGradient>
<linearGradient id="gb30"><stop offset="0" stop-color="#2b2b2b"/><stop offset=".489" stop-color="#313131"/><stop offset=".544" stop-color="#393939"/><stop offset=".656" stop-color="#717171"/><stop offset=".767" stop-color="#a3a3a3"/><stop offset=".811" stop-color="#bebebe"/><stop offset=".833" stop-color="#d3d3d3"/><stop offset=".856" stop-color="#ebebeb"/><stop offset="1" stop-color="#ededed"/></linearGradient>
<linearGradient id="gb31"><stop offset="0" stop-color="#242424"/><stop offset=".444" stop-color="#242424"/><stop offset=".489" stop-color="#3e3e3e"/><stop offset=".533" stop-color="#474747"/><stop offset=".622" stop-color="#7b7b7b"/><stop offset=".733" stop-color="#c3c3c3"/><stop offset=".756" stop-color="#d8d8d8"/><stop offset=".767" stop-color="#e4e4e4"/><stop offset=".778" stop-color="#ebebeb"/><stop offset="1" stop-color="#eeeeee"/></linearGradient>
<linearGradient id="gb32"><stop offset="0" stop-color="#212121"/><stop offset=".1" stop-color="#1c1c1c"/><stop offset=".189" stop-color="#141414"/><stop offset=".344" stop-color="#121212"/><stop offset=".411" stop-color="#1a1a1a"/><stop offset=".456" stop-color="#2d2d2d"/><stop offset=".478" stop-color="#3b3b3b"/><stop offset=".489" stop-color="#454545"/><stop offset=".522" stop-color="#535353"/><stop offset=".544" stop-color="#5c5c5c"/><stop offset=".7" stop-color="#acacac"/><stop offset=".756" stop-color="#c7c7c7"/><stop offset=".8" stop-color="#e2e2e2"/><stop offset=".822" stop-color="#ececec"/><stop offset="1" stop-color="#efefef"/></linearGradient>
<linearGradient id="gb33"><stop offset="0" stop-color="#212121"/><stop offset=".133" stop-color="#1a1a1a"/><stop offset=".222" stop-color="#171717"/><stop offset=".3" stop-color="#171717"/><stop offset=".367" stop-color="#292929"/><stop offset=".411" stop-color="#424242"/><stop offset=".478" stop-color="#7c7c7c"/><stop offset=".489" stop-color="#888888"/><stop offset=".5" stop-color="#8e8e8e"/><stop offset=".533" stop-color="#939393"/><stop offset=".6" stop-color="#aeaeae"/><stop offset=".656" stop-color="#cfcfcf"/><stop offset=".689" stop-color="#e8e8e8"/><stop offset=".7" stop-color="#ececec"/><stop offset=".922" stop-color="#efefef"/><stop offset="1" stop-color="#f0f0f0"/></linearGradient>
<linearGradient id="gb34"><stop offset="0" stop-color="#1a1a1a"/><stop offset=".244" stop-color="#202020"/><stop offset=".3" stop-color="#242424"/><stop offset=".356" stop-color="#383838"/><stop offset=".422" stop-color="#707070"/><stop offset=".467" stop-color="#9c9c9c"/><stop offset=".489" stop-color="#aeaeae"/><stop offset=".511" stop-color="#b5b5b5"/><stop offset=".556" stop-color="#c1c1c1"/><stop offset=".611" stop-color="#d4d4d4"/><stop offset=".656" stop-color="#ededed"/><stop offset="1" stop-color="#f0f0f0"/></linearGradient>
<linearGradient id="gb35"><stop offset="0" stop-color="#1f1f1f"/><stop offset=".3" stop-color="#212121"/><stop offset=".378" stop-color="#424242"/><stop offset=".478" stop-color="#808080"/><stop offset=".5" stop-color="#949494"/><stop offset=".522" stop-color="#a3a3a3"/><stop offset=".578" stop-color="#bbbbbb"/><stop offset=".644" stop-color="#ebebeb"/><stop offset="1" stop-color="#eeeeee"/></linearGradient>
<linearGradient id="gc0"><stop offset="0" stop-color="#545454"/><stop offset=".033" stop-color="#4e4e4e"/><stop offset=".056" stop-color="#404040"/><stop offset=".122" stop-color="#313131"/><stop offset=".267" stop-color="#262626"/><stop offset=".356" stop-color="#282828"/><stop offset=".489" stop-color="#424242"/><stop offset=".611" stop-color="#6c6c6c"/><stop offset=".644" stop-color="#878787"/><stop offset=".678" stop-color="#ababab"/><stop offset=".7" stop-color="#bebebe"/><stop offset=".722" stop-color="#cacaca"/><stop offset=".778" stop-color="#d3d3d3"/><stop offset=".8" stop-color="#d5d5d5"/><stop offset=".844" stop-color="#e7e7e7"/><stop offset=".889" stop-color="#f0f0f0"/><stop offset=".9" stop-color="#eeeeee"/><stop offset=".944" stop-color="#d2d2d2"/><stop offset="1" stop-color="#a8a8a8"/></linearGradient>
<linearGradient id="gc1"><stop offset="0" stop-color="#494949"/><stop offset=".033" stop-color="#444444"/><stop offset=".067" stop-color="#383838"/><stop offset=".133" stop-color="#2e2e2e"/><stop offset=".267" stop-color="#242424"/><stop offset=".356" stop-color="#282828"/><stop offset=".478" stop-color="#414141"/><stop offset=".522" stop-color="#505050"/><stop offset=".611" stop-color="#6f6f6f"/><stop offset=".644" stop-color="#898989"/><stop offset=".678" stop-color="#b0b0b0"/><stop offset=".7" stop-color="#c2c2c2"/><stop offset=".733" stop-color="#cfcfcf"/><stop offset=".8" stop-color="#d3d3d3"/><stop offset=".844" stop-color="#dedede"/><stop offset=".889" stop-color="#e0e0e0"/><stop offset=".911" stop-color="#d6d6d6"/><stop offset="1" stop-color="#909090"/></linearGradient>
<linearGradient id="gc2"><stop offset="0" stop-color="#3e3e3e"/><stop offset=".044" stop-color="#383838"/><stop offset=".111" stop-color="#2d2d2d"/><stop offset=".244" stop-color="#242424"/><stop offset=".311" stop-color="#242424"/><stop offset=".378" stop-color="#2b2b2b"/><stop offset=".478" stop-color="#434343"/><stop offset=".522" stop-color="#525252"/><stop offset=".611" stop-color="#727272"/><stop offset=".644" stop-color="#8b8b8b"/><stop offset=".678" stop-color="#b5b5b5"/><stop offset=".7" stop-color="#c7c7c7"/><stop offset=".733" stop-color="#d0d0d0"/><stop offset=".822" stop-color="#d3d3d3"/><stop offset=".844" stop-color="#d5d5d5"/><stop offset=".889" stop-color="#d0d0d0"/><stop offset=".911" stop-color="#c4c4c4"/><stop offset=".956" stop-color="#9a9a9a"/><stop offset="1" stop-color="#777777"/></linearGradient>
<linearGradient id="gc3"><stop offset="0" stop-color="#333333"/><stop offset=".133" stop-color="#292929"/><stop offset=".256" stop-color="#222222"/><stop offset=".322" stop-color="#242424"/><stop offset=".389" stop-color="#2e2e2e"/><stop offset=".478" stop-color="#454545"/><stop offset=".522" stop-color="#545454"/><stop offset=".611" stop-color="#757575"/><stop offset=".644" stop-color="#8d8d8d"/><stop offset=".667" stop-color="#acacac"/><stop offset=".678" stop-color="#b9b9b9"/><stop offset=".7" stop-color="#cbcbcb"/><stop offset=".756" stop-color="#d3d3d3"/><stop offset=".856" stop-color="#cacaca"/><stop offset=".889" stop-color="#bfbfbf"/><stop offset=".911" stop-color="#b1b1b1"/><stop offset=".956" stop-color="#818181"/><stop offset=".978" stop-color="#6e6e6e"/><stop offset="1" stop-color="#5f5f5f"/></linearGradient>
<linearGradient id="gc4"><stop offset="0" stop-color="#2b2b2b"/><stop offset=".111" stop-color="#282828"/><stop offset=".244" stop-color="#212121"/><stop offset=".311" stop-color="#222222"/><stop offset=".389" stop-color="#2e2e2e"/><stop offset=".5" stop-color="#4e4e4e"/><stop offset=".611" stop-color="#797979"/><stop offset=".644" stop-color="#8f8f8f"/><stop offset=".667" stop-color="#b0b0b0"/><stop offset=".678" stop-color="#bdbdbd"/><stop offset=".7" stop-color="#cecece"/><stop offset=".756" stop-color="#d2d2d2"/><stop offset=".822" stop-color="#c7c7c7"/><stop offset=".878" stop-color="#b5b5b5"/><stop offset=".911" stop-color="#9e9e9e"/><stop offset=".944" stop-color="#757575"/><stop offset=".967" stop-color="#5f5f5f"/><stop offset="1" stop-color="#494949"/></linearGradient>
<linearGradient id="gc5"><stop offset="0" stop-color="#282828"/><stop offset=".122" stop-color="#252525"/><stop offset=".244" stop-color="#212121"/><stop offset=".311" stop-color="#232323"/><stop offset=".389" stop-color="#303030"/><stop offset=".478" stop-color="#4a4a4a"/><stop offset=".511" stop-color="#555555"/><stop offset=".589" stop-color="#767676"/><stop offset=".622" stop-color="#848484"/><stop offset=".644" stop-color="#929292"/><stop offset=".667" stop-color="#b1b1b1"/><stop offset=".678" stop-color="#bebebe"/><stop offset=".7" stop-color="#cdcdcd"/><stop offset=".722" stop-color="#d1d1d1"/><stop offset=".767" stop-color="#cbcbcb"/><stop offset=".833" stop-color="#b6b6b6"/><stop offset=".878" stop-color="#a1a1a1"/><stop offset=".911" stop-color="#878787"/><stop offset=".944" stop-color="#606060"/><stop offset=".978" stop-color="#444444"/><stop offset="1" stop-color="#383838"/></linearGradient>
<linearGradient id="gc6"><stop offset="0" stop-color="#262626"/><stop offset=".222" stop-color="#202020"/><stop offset=".311" stop-color="#242424"/><stop offset=".389" stop-color="#323232"/><stop offset=".511" stop-color="#595959"/><stop offset=".6" stop-color="#7f7f7f"/><stop offset=".622" stop-color="#888888"/><stop offset=".644" stop-color="#969696"/><stop offset=".667" stop-color="#b3b3b3"/><stop offset=".678" stop-color="#bfbfbf"/><stop offset=".7" stop-color="#cccccc"/><stop offset=".722" stop-color="#d0d0d0"/><stop offset=".756" stop-color="#cacaca"/><stop offset=".822" stop-color="#aeaeae"/><stop offset=".878" stop-color="#8d8d8d"/><stop offset=".911" stop-color="#717171"/><stop offset=".944" stop-color="#4b4b4b"/><stop offset=".967" stop-color="#383838"/><stop offset="1" stop-color="#262626"/></linearGradient>
<linearGradient id="gc7"><stop offset="0" stop-color="#232323"/><stop offset=".178" stop-color="#1f1f1f"/><stop offset=".267" stop-color="#212121"/><stop offset=".322" stop-color="#262626"/><stop offset=".389" stop-color="#343434"/><stop offset=".511" stop-color="#5d5d5d"/><stop offset=".589" stop-color="#808080"/><stop offset=".611" stop-color="#878787"/><stop offset=".644" stop-color="#999999"/><stop offset=".667" stop-color="#b5b5b5"/><stop offset=".689" stop-color="#c7c7c7"/><stop offset=".711" stop-color="#cfcfcf"/><stop offset=".722" stop-color="#d0d0d0"/><stop offset=".767" stop-color="#c1c1c1"/><stop offset=".833" stop-color="#9a9a9a"/><stop offset=".889" stop-color="#6f6f6f"/><stop offset=".922" stop-color="#4e4e4e"/><stop offset=".944" stop-color="#363636"/><stop offset=".967" stop-color="#242424"/><stop offset="1" stop-color="#151515"/></linearGradient>
<linearGradient id="gc8"><stop offset="0" stop-color="#212121"/><stop offset=".156" stop-color="#1c1c1c"/><stop offset=".289" stop-color="#232323"/><stop offset=".333" stop-color="#2a2a2a"/><stop offset=".389" stop-color="#363636"/><stop offset=".522" stop-color="#656565"/><stop offset=".578" stop-color="#818181"/><stop offset=".622" stop-color="#919191"/><stop offset=".644" stop-color="#9d9d9d"/><stop offset=".667" stop-color="#b6b6b6"/><stop offset=".689" stop-color="#c7c7c7"/><stop offset=".711" stop-color="#cecece"/><stop offset=".722" stop-color="#cfcfcf"/><stop offset=".756" stop-color="#c1c1c1"/><stop offset=".822" stop-color="#949494"/><stop offset=".889" stop-color="#5b5b5b"/><stop offset=".944" stop-color="#232323"/><stop offset=".967" stop-color="#121212"/><stop offset="1" stop-color="#060606"/></linearGradient>
<linearGradient id="gc9"><stop offset="0" stop-color="#202020"/><stop offset=".156" stop-color="#1c1c1c"/><stop offset=".289" stop-color="#242424"/><stop offset=".333" stop-color="#2c2c2c"/><stop offset=".389" stop-color="#3b3b3b"/><stop offset=".511" stop-color="#626262"/><stop offset=".578" stop-color="#848484"/><stop offset=".622" stop-color="#929292"/><stop offset=".644" stop-color="#9c9c9c"/><stop offset=".678" stop-color="#bbbbbb"/><stop offset=".7" stop-color="#c2c2c2"/><stop offset=".722" stop-color="#c3c3c3"/><stop offset=".756" stop-color="#b2b2b2"/><stop offset=".833" stop-color="#7b7b7b"/><stop offset=".933" stop-color="#232323"/><stop offset=".967" stop-color="#0e0e0e"/><stop offset="1" stop-color="#040404"/></linearGradient>
<linearGradient id="gc10"><stop offset="0" stop-color="#202020"/><stop offset=".122" stop-color="#1c1c1c"/><stop offset=".256" stop-color="#222222"/><stop offset=".311" stop-color="#282828"/><stop offset=".4" stop-color="#434343"/><stop offset=".489" stop-color="#5e5e5e"/><stop offset=".511" stop-color="#646464"/><stop offset=".578" stop-color="#878787"/><stop offset=".611" stop-color="#8e8e8e"/><stop offset=".644" stop-color="#9c9c9c"/><stop offset=".678" stop-color="#b6b6b6"/><stop offset=".689" stop-color="#bababa"/><stop offset=".711" stop-color="#bababa"/><stop offset=".722" stop-color="#b7b7b7"/><stop offset=".822" stop-color="#747474"/><stop offset=".889" stop-color="#383838"/><stop offset=".933" stop-color="#191919"/><stop offset=".978" stop-color="#070707"/><stop offset="1" stop-color="#030303"/></linearGradient>
<linearGradient id="gc11"><stop offset="0" stop-color="#1f1f1f"/><stop offset=".1" stop-color="#1b1b1b"/><stop offset=".233" stop-color="#212121"/><stop offset=".3" stop-color="#272727"/><stop offset=".411" stop-color="#4c4c4c"/><stop offset=".489" stop-color="#616161"/><stop offset=".511" stop-color="#666666"/><stop offset=".578" stop-color="#898989"/><stop offset=".622" stop-color="#949494"/><stop offset=".644" stop-color="#9c9c9c"/><stop offset=".678" stop-color="#b1b1b1"/><stop offset=".7" stop-color="#b2b2b2"/><stop offset=".711" stop-color="#b1b1b1"/><stop offset=".733" stop-color="#a2a2a2"/><stop offset=".822" stop-color="#636363"/><stop offset=".844" stop-color="#4f4f4f"/><stop offset=".867" stop-color="#383838"/><stop offset=".9" stop-color="#1f1f1f"/><stop offset=".933" stop-color="#0f0f0f"/><stop offset=".989" stop-color="#030303"/><stop offset="1" stop-color="#020202"/></linearGradient>
<linearGradient id="gc12"><stop offset="0" stop-color="#1f1f1f"/><stop offset=".089" stop-color="#1a1a1a"/><stop offset=".222" stop-color="#212121"/><stop offset=".3" stop-color="#282828"/><stop offset=".422" stop-color="#545454"/><stop offset=".489" stop-color="#636363"/><stop offset=".5" stop-color="#636363"/><stop offset=".567" stop-color="#878787"/><stop offset=".589" stop-color="#8e8e8e"/><stop offset=".622" stop-color="#949494"/><stop offset=".667" stop-color="#a6a6a6"/><stop offset=".678" stop-color="#acacac"/><stop offset=".7" stop-color="#aaaaaa"/><stop offset=".711" stop-color="#a7a7a7"/><stop offset=".778" stop-color="#727272"/><stop offset=".822" stop-color="#535353"/><stop offset=".867" stop-color="#262626"/><stop offset=".889" stop-color="#151515"/><stop offset=".922" stop-color="#070707"/><stop offset="1" stop-color="#000000"/></linearGradient>
<linearGradient id="gc13"><stop offset="0" stop-color="#1d1d1d"/><stop offset=".089" stop-color="#191919"/><stop offset=".2" stop-color="#1f1f1f"/><stop offset=".3" stop-color="#292929"/><stop offset=".344" stop-color="#393939"/><stop offset=".411" stop-color="#545454"/><stop offset=".5" stop-color="#666666"/><stop offset=".511" stop-color="#6a6a6a"/><stop offset=".544" stop-color="#7e7e7e"/><stop offset=".578" stop-color="#8c8c8c"/><stop offset=".622" stop-color="#909090"/><stop offset=".678" stop-color="#9e9e9e"/><stop offset=".7" stop-color="#999999"/><stop offset=".711" stop-color="#969696"/><stop offset=".778" stop-color="#626262"/><stop offset=".811" stop-color="#4d4d4d"/><stop offset=".867" stop-color="#1d1d1d"/><stop offset=".9" stop-color="#0b0b0b"/><stop offset=".933" stop-color="#040404"/><stop offset="1" stop-color="#000000"/></linearGradient>
<linearGradient id="gc14"><stop offset="0" stop-color="#1c1c1c"/><stop offset=".089" stop-color="#171717"/><stop offset=".256" stop-color="#242424"/><stop offset=".311" stop-color="#2d2d2d"/><stop offset=".356" stop-color="#404040"/><stop offset=".411" stop-color="#575757"/><stop offset=".467" stop-color="#616161"/><stop offset=".489" stop-color="#676767"/><stop offset=".5" stop-color="#686868"/><stop offset=".544" stop-color="#818181"/><stop offset=".578" stop-color="#8c8c8c"/><stop offset=".678" stop-color="#8e8e8e"/><stop offset=".711" stop-color="#848484"/><stop offset=".789" stop-color="#4c4c4c"/><stop offset=".867" stop-color="#151515"/><stop offset=".9" stop-color="#080808"/><stop offset=".944" stop-color="#030303"/><stop offset="1" stop-color="#000000"/></linearGradient>
<linearGradient id="gc15"><stop offset="0" stop-color="#1b1b1b"/><stop offset=".078" stop-color="#161616"/><stop offset=".144" stop-color="#191919"/><stop offset=".289" stop-color="#2a2a2a"/><stop offset=".322" stop-color="#313131"/><stop offset=".367" stop-color="#494949"/><stop offset=".411" stop-color="#5a5a5a"/><stop offset=".456" stop-color="#5f5f5f"/><stop offset=".511" stop-color="#6f6f6f"/><stop offset=".533" stop-color="#7e7e7e"/><stop offset=".578" stop-color="#8c8c8c"/><stop offset=".678" stop-color="#7f7f7f"/><stop offset=".711" stop-color="#737373"/><stop offset=".756" stop-color="#545454"/><stop offset=".833" stop-color="#1f1f1f"/><stop offset=".867" stop-color="#0d0d0d"/><stop offset=".911" stop-color="#040404"/><stop offset="1" stop-color="#000000"/></linearGradient>
<linearGradient id="gc16"><stop offset="0" stop-color="#1a1a1a"/><stop offset=".056" stop-color="#151515"/><stop offset=".133" stop-color="#171717"/><stop offset=".278" stop-color="#282828"/><stop offset=".322" stop-color="#323232"/><stop offset=".367" stop-color="#4c4c4c"/><stop offset=".411" stop-color="#5d5d5d"/><stop offset=".456" stop-color="#616161"/><stop offset=".489" stop-color="#6c6c6c"/><stop offset=".5" stop-color="#6d6d6d"/><stop offset=".522" stop-color="#7a7a7a"/><stop offset=".544" stop-color="#858585"/><stop offset=".578" stop-color="#8c8c8c"/><stop offset=".633" stop-color="#808080"/><stop offset=".689" stop-color="#6b6b6b"/><stop offset=".733" stop-color="#545454"/><stop offset=".8" stop-color="#262626"/><stop offset=".833" stop-color="#111111"/><stop offset=".867" stop-color="#050505"/><stop offset="1" stop-color="#000000"/></linearGradient>
<linearGradient id="gc17"><stop offset="0" stop-color="#191919"/><stop offset=".044" stop-color="#131313"/><stop offset=".133" stop-color="#171717"/><stop offset=".289" stop-color="#2b2b2b"/><stop offset=".322" stop-color="#323232"/><stop offset=".344" stop-color="#3e3e3e"/><stop offset=".367" stop-color="#4d4d4d"/><stop offset=".411" stop-color="#5f5f5f"/><stop offset=".456" stop-color="#606060"/><stop offset=".511" stop-color="#707070"/><stop offset=".533" stop-color="#7e7e7e"/><stop offset=".567" stop-color="#858585"/><stop offset=".589" stop-color="#838383"/><stop offset=".633" stop-color="#767676"/><stop offset=".722" stop-color="#4d4d4d"/><stop offset=".789" stop-color="#222222"/><stop offset=".833" stop-color="#0b0b0b"/><stop offset=".867" stop-color="#020202"/><stop offset="1" stop-color="#000000"/></linearGradient>
<linearGradient id="gc18"><stop offset="0" stop-color="#171717"/><stop offset=".044" stop-color="#121212"/><stop offset=".133" stop-color="#181818"/><stop offset=".278" stop-color="#292929"/><stop offset=".322" stop-color="#323232"/><stop offset=".344" stop-color="#3e3e3e"/><stop offset=".367" stop-color="#4d4d4d"/><stop offset=".411" stop-color="#5f5f5f"/><stop offset=".456" stop-color="#5f5f5f"/><stop offset=".511" stop-color="#6d6d6d"/><stop offset=".533" stop-color="#787878"/><stop offset=".556" stop-color="#7b7b7b"/><stop offset=".578" stop-color="#7c7c7c"/><stop offset=".633" stop-color="#6b6b6b"/><stop offset=".733" stop-color="#383838"/><stop offset=".778" stop-color="#1e1e1e"/><stop offset=".833" stop-color="#090909"/><stop offset=".867" stop-color="#020202"/><stop offset="1" stop-color="#000000"/></linearGradient>
<linearGradient id="gc19"><stop offset="0" stop-color="#161616"/><stop offset=".044" stop-color="#101010"/><stop offset=".222" stop-color="#222222"/><stop offset=".322" stop-color="#323232"/><stop offset=".344" stop-color="#3e3e3e"/><stop offset=".367" stop-color="#4d4d4d"/><stop offset=".411" stop-color="#606060"/><stop offset=".456" stop-color="#5e5e5e"/><stop offset=".511" stop-color="#696969"/><stop offset=".533" stop-color="#737373"/><stop offset=".578" stop-color="#737373"/><stop offset=".622" stop-color="#646464"/><stop offset=".667" stop-color="#4e4e4e"/><stop offset=".767" stop-color="#191919"/><stop offset=".8" stop-color="#0d0d0d"/><stop offset=".856" stop-color="#030303"/><stop offset="1" stop-color="#000000"/></linearGradient>
<linearGradient id="gc20"><stop offset="0" stop-color="#151515"/><stop offset=".044" stop-color="#0e0e0e"/><stop offset=".256" stop-color="#272727"/><stop offset=".322" stop-color="#323232"/><stop offset=".344" stop-color="#3e3e3e"/><stop offset=".367" stop-color="#4d4d4d"/><stop offset=".411" stop-color="#616161"/><stop offset=".456" stop-color="#5d5d5d"/><stop offset=".511" stop-color="#656565"/><stop offset=".533" stop-color="#6d6d6d"/><stop offset=".578" stop-color="#6a6a6a"/><stop offset=".622" stop-color="#5a5a5a"/><stop offset=".756" stop-color="#111111"/><stop offset=".789" stop-color="#070707"/><stop offset=".889" stop-color="#010101"/><stop offset="1" stop-color="#000000"/></linearGradient>
<linearGradient id="gc21"><stop offset="0" stop-color="#141414"/><stop offset=".044" stop-color="#0e0e0e"/><stop offset=".278" stop-color="#2b2b2b"/><stop offset=".322" stop-color="#333333"/><stop offset=".333" stop-color="#373737"/><stop offset=".367" stop-color="#4d4d4d"/><stop offset=".411" stop-color="#606060"/><stop offset=".456" stop-color="#5b5b5b"/><stop offset=".511" stop-color="#616161"/><stop offset=".533" stop-color="#666666"/><stop offset=".567" stop-color="#626262"/><stop offset=".611" stop-color="#545454"/><stop offset=".7" stop-color="#242424"/><stop offset=".756" stop-color="#0a0a0a"/><stop offset=".789" stop-color="#020202"/><stop offset="1" stop-color="#000000"/></linearGradient>
<linearGradient id="gc22"><stop offset="0" stop-color="#141414"/><stop offset=".044" stop-color="#0f0f0f"/><stop offset=".222" stop-color="#242424"/><stop offset=".322" stop-color="#343434"/><stop offset=".344" stop-color="#3f3f3f"/><stop offset=".389" stop-color="#565656"/><stop offset=".411" stop-color="#5f5f5f"/><stop offset=".467" stop-color="#595959"/><stop offset=".522" stop-color="#5c5c5c"/><stop offset=".544" stop-color="#5d5d5d"/><stop offset=".611" stop-color="#484848"/><stop offset=".7" stop-color="#1c1c1c"/><stop offset=".756" stop-color="#080808"/><stop offset=".8" stop-color="#020202"/><stop offset="1" stop-color="#000000"/></linearGradient>
<linearGradient id="gc23"><stop offset="0" stop-color="#141414"/><stop offset=".044" stop-color="#0f0f0f"/><stop offset=".256" stop-color="#2a2a2a"/><stop offset=".322" stop-color="#353535"/><stop offset=".344" stop-color="#3f3f3f"/><stop offset=".378" stop-color="#515151"/><stop offset=".411" stop-color="#5e5e5e"/><stop offset=".5" stop-color="#555555"/><stop offset=".533" stop-color="#565656"/><stop offset=".589" stop-color="#454545"/><stop offset=".689" stop-color="#171717"/><stop offset=".756" stop-color="#060606"/><stop offset=".8" stop-color="#020202"/><stop offset="1" stop-color="#000000"/></linearGradient>
<linearGradient id="gc24"><stop offset="0" stop-color="#141414"/><stop offset=".044" stop-color="#101010"/><stop offset=".222" stop-color="#262626"/><stop offset=".322" stop-color="#363636"/><stop offset=".4" stop-color="#595959"/><stop offset=".422" stop-color="#5e5e5e"/><stop offset=".467" stop-color="#545454"/><stop offset=".533" stop-color="#4e4e4e"/><stop offset=".578" stop-color="#3e3e3e"/><stop offset=".678" stop-color="#121212"/><stop offset=".722" stop-color="#070707"/><stop offset=".811" stop-color="#020202"/><stop offset="1" stop-color="#000000"/></linearGradient>
<linearGradient id="gc25"><stop offset="0" stop-color="#141414"/><stop offset=".044" stop-color="#101010"/><stop offset=".233" stop-color="#282828"/><stop offset=".322" stop-color="#373737"/><stop offset=".4" stop-color="#575757"/><stop offset=".422" stop-color="#5b5b5b"/><stop offset=".5" stop-color="#4a4a4a"/><stop offset=".544" stop-color="#424242"/><stop offset=".667" stop-color="#0e0e0e"/><stop offset=".689" stop-color="#070707"/><stop offset=".744" stop-color="#020202"/><stop offset="1" stop-color="#000000"/></linearGradient>
<linearGradient id="gc26"><stop offset="0" stop-color="#141414"/><stop offset=".044" stop-color="#111111"/><stop offset=".222" stop-color="#262626"/><stop offset=".322" stop-color="#383838"/><stop offset=".389" stop-color="#505050"/><stop offset=".411" stop-color="#555555"/><stop offset=".433" stop-color="#535353"/><stop offset=".544" stop-color="#393939"/><stop offset=".656" stop-color="#0e0e0e"/><stop offset=".7" stop-color="#050505"/><stop offset=".767" stop-color="#020202"/><stop offset="1" stop-color="#000000"/></linearGradient>
<linearGradient id="gc27"><stop offset="0" stop-color="#141414"/><stop offset=".056" stop-color="#131313"/><stop offset=".233" stop-color="#282828"/><stop offset=".333" stop-color="#3c3c3c"/><stop offset=".4" stop-color="#4f4f4f"/><stop offset=".433" stop-color="#4d4d4d"/><stop offset=".556" stop-color="#2c2c2c"/><stop offset=".644" stop-color="#0d0d0d"/><stop offset=".689" stop-color="#050505"/><stop offset=".778" stop-color="#020202"/><stop offset="1" stop-color="#000000"/></linearGradient>
<linearGradient id="gc28"><stop offset="0" stop-color="#141414"/><stop offset=".078" stop-color="#151515"/><stop offset=".233" stop-color="#272727"/><stop offset=".389" stop-color="#494949"/><stop offset=".422" stop-color="#494949"/><stop offset=".544" stop-color="#272727"/><stop offset=".633" stop-color="#0b0b0b"/><stop offset=".678" stop-color="#040404"/><stop offset="1" stop-color="#000000"/></linearGradient>
<linearGradient id="gc29"><stop offset="0" stop-color="#141414"/><stop offset=".089" stop-color="#161616"/><stop offset=".233" stop-color="#272727"/><stop offset=".356" stop-color="#414141"/><stop offset=".4" stop-color="#464646"/><stop offset=".456" stop-color="#3b3b3b"/><stop offset=".611" stop-color="#0a0a0a"/><stop offset=".656" stop-color="#020202"/><stop offset="1" stop-color="#000000"/></linearGradient>
<linearGradient id="gc30"><stop offset="0" stop-color="#141414"/><stop offset=".089" stop-color="#161616"/><stop offset=".233" stop-color="#272727"/><stop offset=".344" stop-color="#3f3f3f"/><stop offset=".4" stop-color="#414141"/><stop offset=".467" stop-color="#323232"/><stop offset=".589" stop-color="#0d0d0d"/><stop offset=".656" stop-color="#020202"/><stop offset="1" stop-color="#000000"/></linearGradient>
<linearGradient id="gc31"><stop offset="0" stop-color="#131313"/><stop offset=".089" stop-color="#161616"/><stop offset=".233" stop-color="#272727"/><stop offset=".3" stop-color="#373737"/><stop offset=".344" stop-color="#3e3e3e"/><stop offset=".4" stop-color="#3c3c3c"/><stop offset=".522" stop-color="#1d1d1d"/><stop offset=".589" stop-color="#0a0a0a"/><stop offset=".633" stop-color="#030303"/><stop offset=".722" stop-color="#010101"/><stop offset="1" stop-color="#000000"/></linearGradient>
<linearGradient id="gc32"><stop offset="0" stop-color="#131313"/><stop offset=".089" stop-color="#161616"/><stop offset=".233" stop-color="#282828"/><stop offset=".289" stop-color="#373737"/><stop offset=".344" stop-color="#3e3e3e"/><stop offset=".4" stop-color="#373737"/><stop offset=".533" stop-color="#151515"/><stop offset=".578" stop-color="#090909"/><stop offset=".622" stop-color="#020202"/><stop offset="1" stop-color="#000000"/></linearGradient>
<linearGradient id="gc33"><stop offset="0" stop-color="#121212"/><stop offset=".089" stop-color="#161616"/><stop offset=".233" stop-color="#282828"/><stop offset=".289" stop-color="#383838"/><stop offset=".344" stop-color="#3d3d3d"/><stop offset=".411" stop-color="#2f2f2f"/><stop offset=".578" stop-color="#050505"/><stop offset=".622" stop-color="#000000"/><stop offset="1" stop-color="#000000"/></linearGradient>
<linearGradient id="gc34"><stop offset="0" stop-color="#111111"/><stop offset=".1" stop-color="#171717"/><stop offset=".233" stop-color="#282828"/><stop offset=".289" stop-color="#373737"/><stop offset=".344" stop-color="#393939"/><stop offset=".433" stop-color="#242424"/><stop offset=".522" stop-color="#101010"/><stop offset=".589" stop-color="#030303"/><stop offset=".633" stop-color="#000000"/><stop offset=".989" stop-color="#010101"/><stop offset="1" stop-color="#030303"/></linearGradient>
<linearGradient id="gc35"><stop offset="0" stop-color="#111111"/><stop offset=".1" stop-color="#171717"/><stop offset=".233" stop-color="#272727"/><stop offset=".289" stop-color="#363636"/><stop offset=".344" stop-color="#353535"/><stop offset=".411" stop-color="#252525"/><stop offset=".478" stop-color="#161616"/><stop offset=".578" stop-color="#030303"/><stop offset=".644" stop-color="#000000"/><stop offset=".967" stop-color="#010101"/><stop offset="1" stop-color="#050505"/></linearGradient>
<linearGradient id="gc36"><stop offset="0" stop-color="#101010"/><stop offset=".122" stop-color="#191919"/><stop offset=".233" stop-color="#272727"/><stop offset=".289" stop-color="#343434"/><stop offset=".356" stop-color="#2e2e2e"/><stop offset=".456" stop-color="#161616"/><stop offset=".522" stop-color="#0a0a0a"/><stop offset=".578" stop-color="#010101"/><stop offset=".967" stop-color="#010101"/><stop offset=".989" stop-color="#040404"/><stop offset="1" stop-color="#080808"/></linearGradient>
<linearGradient id="gc37"><stop offset="0" stop-color="#0f0f0f"/><stop offset=".167" stop-color="#1e1e1e"/><stop offset=".233" stop-color="#272727"/><stop offset=".289" stop-color="#333333"/><stop offset=".356" stop-color="#2a2a2a"/><stop offset=".456" stop-color="#111111"/><stop offset=".556" stop-color="#020202"/><stop offset=".644" stop-color="#000000"/><stop offset=".956" stop-color="#000000"/><stop offset=".989" stop-color="#060606"/><stop offset="1" stop-color="#0b0b0b"/></linearGradient>
<linearGradient id="gc38"><stop offset="0" stop-color="#0e0e0e"/><stop offset=".189" stop-color="#202020"/><stop offset=".289" stop-color="#313131"/><stop offset=".367" stop-color="#232323"/><stop offset=".444" stop-color="#0f0f0f"/><stop offset=".556" stop-color="#010101"/><stop offset=".867" stop-color="#010101"/><stop offset=".967" stop-color="#090909"/><stop offset=".989" stop-color="#0e0e0e"/><stop offset="1" stop-color="#131313"/></linearGradient>
<linearGradient id="gc39"><stop offset="0" stop-color="#0d0d0d"/><stop offset=".056" stop-color="#111111"/><stop offset=".1" stop-color="#161616"/><stop offset=".222" stop-color="#242424"/><stop offset=".289" stop-color="#2f2f2f"/><stop offset=".378" stop-color="#1c1c1c"/><stop offset=".444" stop-color="#0d0d0d"/><stop offset=".544" stop-color="#020202"/><stop offset=".833" stop-color="#010101"/><stop offset=".9" stop-color="#070707"/><stop offset=".967" stop-color="#131313"/><stop offset="1" stop-color="#1e1e1e"/></linearGradient>
<linearGradient id="gc40"><stop offset="0" stop-color="#0b0b0b"/><stop offset=".056" stop-color="#101010"/><stop offset=".078" stop-color="#151515"/><stop offset=".178" stop-color="#1d1d1d"/><stop offset=".289" stop-color="#2c2c2c"/><stop offset=".356" stop-color="#1e1e1e"/><stop offset=".422" stop-color="#0d0d0d"/><stop offset=".511" stop-color="#030303"/><stop offset=".811" stop-color="#000000"/><stop offset=".878" stop-color="#060606"/><stop offset=".967" stop-color="#1d1d1d"/><stop offset="1" stop-color="#282828"/></linearGradient>
<linearGradient id="gc41"><stop offset="0" stop-color="#0a0a0a"/><stop offset=".044" stop-color="#0c0c0c"/><stop offset=".089" stop-color="#151515"/><stop offset=".189" stop-color="#1e1e1e"/><stop offset=".267" stop-color="#272727"/><stop offset=".289" stop-color="#282828"/><stop offset=".356" stop-color="#191919"/><stop offset=".422" stop-color="#0a0a0a"/><stop offset=".511" stop-color="#020202"/><stop offset=".8" stop-color="#010101"/><stop offset=".878" stop-color="#0a0a0a"/><stop offset=".922" stop-color="#161616"/><stop offset="1" stop-color="#2f2f2f"/></linearGradient>
<linearGradient id="gc42"><stop offset="0" stop-color="#090909"/><stop offset=".056" stop-color="#0d0d0d"/><stop offset=".1" stop-color="#151515"/><stop offset=".178" stop-color="#1c1c1c"/><stop offset=".222" stop-color="#222222"/><stop offset=".289" stop-color="#232323"/><stop offset=".411" stop-color="#090909"/><stop offset=".5" stop-color="#020202"/><stop offset=".778" stop-color="#010101"/><stop offset=".867" stop-color="#0c0c0c"/><stop offset=".933" stop-color="#1e1e1e"/><stop offset="1" stop-color="#343434"/></linearGradient>
<linearGradient id="gc43"><stop offset="0" stop-color="#090909"/><stop offset=".067" stop-color="#0e0e0e"/><stop offset=".111" stop-color="#151515"/><stop offset=".167" stop-color="#1a1a1a"/><stop offset=".222" stop-color="#212121"/><stop offset=".289" stop-color="#1d1d1d"/><stop offset=".389" stop-color="#090909"/><stop offset=".489" stop-color="#010101"/><stop offset=".767" stop-color="#010101"/><stop offset=".833" stop-color="#0a0a0a"/><stop offset=".9" stop-color="#191919"/><stop offset="1" stop-color="#383838"/></linearGradient>
<linearGradient id="gc44"><stop offset="0" stop-color="#080808"/><stop offset=".067" stop-color="#0d0d0d"/><stop offset=".111" stop-color="#141414"/><stop offset=".2" stop-color="#1f1f1f"/><stop offset=".222" stop-color="#202020"/><stop offset=".289" stop-color="#171717"/><stop offset=".378" stop-color="#060606"/><stop offset=".533" stop-color="#000000"/><stop offset=".756" stop-color="#010101"/><stop offset=".822" stop-color="#0a0a0a"/><stop offset=".922" stop-color="#242424"/><stop offset=".989" stop-color="#393939"/><stop offset="1" stop-color="#3c3c3c"/></linearGradient>
<linearGradient id="gc45"><stop offset="0" stop-color="#070707"/><stop offset=".067" stop-color="#0b0b0b"/><stop offset=".1" stop-color="#121212"/><stop offset=".189" stop-color="#1c1c1c"/><stop offset=".211" stop-color="#202020"/><stop offset=".267" stop-color="#171717"/><stop offset=".344" stop-color="#070707"/><stop offset=".4" stop-color="#020202"/><stop offset=".711" stop-color="#000000"/><stop offset=".767" stop-color="#030303"/><stop offset=".833" stop-color="#101010"/><stop offset=".922" stop-color="#292929"/><stop offset="1" stop-color="#404040"/></linearGradient>
<linearGradient id="gc46"><stop offset="0" stop-color="#070707"/><stop offset=".067" stop-color="#0b0b0b"/><stop offset=".111" stop-color="#131313"/><stop offset=".211" stop-color="#1c1c1c"/><stop offset=".344" stop-color="#060606"/><stop offset=".433" stop-color="#010101"/><stop offset=".722" stop-color="#010101"/><stop offset=".789" stop-color="#0a0a0a"/><stop offset=".878" stop-color="#202020"/><stop offset="1" stop-color="#424242"/></linearGradient>
<linearGradient id="gc47"><stop offset="0" stop-color="#060606"/><stop offset=".067" stop-color="#0a0a0a"/><stop offset=".111" stop-color="#121212"/><stop offset=".2" stop-color="#191919"/><stop offset=".311" stop-color="#080808"/><stop offset=".389" stop-color="#020202"/><stop offset=".689" stop-color="#000000"/><stop offset=".756" stop-color="#060606"/><stop offset=".844" stop-color="#1b1b1b"/><stop offset=".989" stop-color="#414141"/><stop offset="1" stop-color="#434343"/></linearGradient>
<linearGradient id="gc48"><stop offset="0" stop-color="#060606"/><stop offset=".067" stop-color="#090909"/><stop offset=".111" stop-color="#111111"/><stop offset=".2" stop-color="#161616"/><stop offset=".278" stop-color="#080808"/><stop offset=".378" stop-color="#020202"/><stop offset=".689" stop-color="#000000"/><stop offset=".756" stop-color="#090909"/><stop offset=".889" stop-color="#2a2a2a"/><stop offset=".967" stop-color="#3f3f3f"/><stop offset="1" stop-color="#454545"/></linearGradient>
<linearGradient id="gc49"><stop offset="0" stop-color="#050505"/><stop offset=".067" stop-color="#090909"/><stop offset=".144" stop-color="#141414"/><stop offset=".2" stop-color="#141414"/><stop offset=".267" stop-color="#050505"/><stop offset=".356" stop-color="#020202"/><stop offset=".689" stop-color="#000000"/><stop offset=".778" stop-color="#101010"/><stop offset=".944" stop-color="#3d3d3d"/><stop offset="1" stop-color="#474747"/></linearGradient>
<linearGradient id="gc50"><stop offset="0" stop-color="#050505"/><stop offset=".089" stop-color="#0c0c0c"/><stop offset=".156" stop-color="#141414"/><stop offset=".2" stop-color="#111111"/><stop offset=".267" stop-color="#040404"/><stop offset=".556" stop-color="#000000"/><stop offset=".678" stop-color="#020202"/><stop offset=".744" stop-color="#0c0c0c"/><stop offset=".944" stop-color="#3f3f3f"/><stop offset="1" stop-color="#484848"/></linearGradient>
<linearGradient id="gc51"><stop offset="0" stop-color="#050505"/><stop offset=".089" stop-color="#0b0b0b"/><stop offset=".156" stop-color="#131313"/><stop offset=".2" stop-color="#0e0e0e"/><stop offset=".256" stop-color="#050505"/><stop offset=".344" stop-color="#020202"/><stop offset=".633" stop-color="#000000"/><stop offset=".711" stop-color="#090909"/><stop offset=".822" stop-color="#242424"/><stop offset=".933" stop-color="#3f3f3f"/><stop offset="1" stop-color="#4a4a4a"/></linearGradient>
<linearGradient id="gc52"><stop offset="0" stop-color="#050505"/><stop offset=".111" stop-color="#0d0d0d"/><stop offset=".156" stop-color="#121212"/><stop offset=".244" stop-color="#040404"/><stop offset=".567" stop-color="#000000"/><stop offset=".633" stop-color="#000000"/><stop offset=".7" stop-color="#090909"/><stop offset=".922" stop-color="#404040"/><stop offset="1" stop-color="#4b4b4b"/></linearGradient>
<linearGradient id="gc53"><stop offset="0" stop-color="#050505"/><stop offset=".111" stop-color="#0c0c0c"/><stop offset=".156" stop-color="#111111"/><stop offset=".222" stop-color="#050505"/><stop offset=".311" stop-color="#020202"/><stop offset=".622" stop-color="#000000"/><stop offset=".689" stop-color="#090909"/><stop offset=".867" stop-color="#363636"/><stop offset=".933" stop-color="#444444"/><stop offset="1" stop-color="#4c4c4c"/></linearGradient>
<linearGradient id="gc54"><stop offset="0" stop-color="#050505"/><stop offset=".122" stop-color="#0c0c0c"/><stop offset=".156" stop-color="#101010"/><stop offset=".222" stop-color="#040404"/><stop offset=".422" stop-color="#010101"/><stop offset=".622" stop-color="#010101"/><stop offset=".7" stop-color="#0f0f0f"/><stop offset=".833" stop-color="#313131"/><stop offset=".922" stop-color="#444444"/><stop offset="1" stop-color="#4d4d4d"/></linearGradient>
<linearGradient id="gc55"><stop offset="0" stop-color="#050505"/><stop offset=".122" stop-color="#0b0b0b"/><stop offset=".156" stop-color="#0f0f0f"/><stop offset=".211" stop-color="#050505"/><stop offset=".278" stop-color="#020202"/><stop offset=".589" stop-color="#010101"/><stop offset=".656" stop-color="#080808"/><stop offset=".867" stop-color="#3b3b3b"/><stop offset=".933" stop-color="#474747"/><stop offset="1" stop-color="#4f4f4f"/></linearGradient>
<linearGradient id="gc56"><stop offset="0" stop-color="#050505"/><stop offset=".122" stop-color="#0a0a0a"/><stop offset=".156" stop-color="#0e0e0e"/><stop offset=".211" stop-color="#040404"/><stop offset=".411" stop-color="#010101"/><stop offset=".589" stop-color="#010101"/><stop offset=".667" stop-color="#0d0d0d"/><stop offset=".822" stop-color="#343434"/><stop offset=".933" stop-color="#484848"/><stop offset="1" stop-color="#505050"/></linearGradient>
<linearGradient id="gc57"><stop offset="0" stop-color="#050505"/><stop offset=".122" stop-color="#090909"/><stop offset=".156" stop-color="#0c0c0c"/><stop offset=".2" stop-color="#040404"/><stop offset=".556" stop-color="#000000"/><stop offset=".6" stop-color="#030303"/><stop offset=".667" stop-color="#101010"/><stop offset=".778" stop-color="#2d2d2d"/><stop offset=".878" stop-color="#414141"/><stop offset=".989" stop-color="#505050"/><stop offset="1" stop-color="#515151"/></linearGradient>
<linearGradient id="gc58"><stop offset="0" stop-color="#050505"/><stop offset=".133" stop-color="#090909"/><stop offset=".156" stop-color="#0a0a0a"/><stop offset=".2" stop-color="#040404"/><stop offset=".533" stop-color="#000000"/><stop offset=".589" stop-color="#040404"/><stop offset=".656" stop-color="#111111"/><stop offset=".8" stop-color="#373737"/><stop offset=".944" stop-color="#4d4d4d"/><stop offset="1" stop-color="#535353"/></linearGradient>
<linearGradient id="gc59"><stop offset="0" stop-color="#050505"/><stop offset=".167" stop-color="#070707"/><stop offset=".222" stop-color="#030303"/><stop offset=".533" stop-color="#010101"/><stop offset=".578" stop-color="#050505"/><stop offset=".667" stop-color="#181818"/><stop offset=".8" stop-color="#3c3c3c"/><stop offset=".867" stop-color="#444444"/><stop offset=".911" stop-color="#4a4a4a"/><stop offset="1" stop-color="#555555"/></linearGradient>
<linearGradient id="gc60"><stop offset="0" stop-color="#050505"/><stop offset=".167" stop-color="#050505"/><stop offset=".322" stop-color="#020202"/><stop offset=".533" stop-color="#010101"/><stop offset=".6" stop-color="#0c0c0c"/><stop offset=".722" stop-color="#2b2b2b"/><stop offset=".811" stop-color="#444444"/><stop offset=".889" stop-color="#474747"/><stop offset=".944" stop-color="#515151"/><stop offset="1" stop-color="#585858"/></linearGradient>
<linearGradient id="gc61"><stop offset="0" stop-color="#050505"/><stop offset=".511" stop-color="#010101"/><stop offset=".556" stop-color="#060606"/><stop offset=".644" stop-color="#1b1b1b"/><stop offset=".778" stop-color="#414141"/><stop offset=".811" stop-color="#4a4a4a"/><stop offset=".878" stop-color="#474747"/><stop offset=".956" stop-color="#555555"/><stop offset="1" stop-color="#5a5a5a"/></linearGradient>
<linearGradient id="gc62"><stop offset="0" stop-color="#050505"/><stop offset=".5" stop-color="#010101"/><stop offset=".556" stop-color="#080808"/><stop offset=".733" stop-color="#383838"/><stop offset=".8" stop-color="#4e4e4e"/><stop offset=".833" stop-color="#4f4f4f"/><stop offset=".878" stop-color="#494949"/><stop offset=".944" stop-color="#565656"/><stop offset="1" stop-color="#5d5d5d"/></linearGradient>
<linearGradient id="gc63"><stop offset="0" stop-color="#040404"/><stop offset=".456" stop-color="#010101"/><stop offset=".522" stop-color="#060606"/><stop offset=".611" stop-color="#1a1a1a"/><stop offset=".744" stop-color="#424242"/><stop offset=".8" stop-color="#535353"/><stop offset=".844" stop-color="#525252"/><stop offset=".878" stop-color="#4d4d4d"/><stop offset=".944" stop-color="#595959"/><stop offset="1" stop-color="#5f5f5f"/></linearGradient>
<linearGradient id="gc64"><stop offset="0" stop-color="#040404"/><stop offset=".444" stop-color="#010101"/><stop offset=".533" stop-color="#0b0b0b"/><stop offset=".678" stop-color="#313131"/><stop offset=".778" stop-color="#525252"/><stop offset=".8" stop-color="#585858"/><stop offset=".844" stop-color="#565656"/><stop offset=".878" stop-color="#515151"/><stop offset=".944" stop-color="#5d5d5d"/><stop offset="1" stop-color="#626262"/></linearGradient>
<linearGradient id="gc65"><stop offset="0" stop-color="#030303"/><stop offset=".433" stop-color="#010101"/><stop offset=".511" stop-color="#090909"/><stop offset=".678" stop-color="#363636"/><stop offset=".767" stop-color="#555555"/><stop offset=".8" stop-color="#5d5d5d"/><stop offset=".856" stop-color="#585858"/><stop offset=".878" stop-color="#545454"/><stop offset=".933" stop-color="#5f5f5f"/><stop offset="1" stop-color="#646464"/></linearGradient>
<linearGradient id="gc66"><stop offset="0" stop-color="#030303"/><stop offset=".433" stop-color="#010101"/><stop offset=".533" stop-color="#121212"/><stop offset=".667" stop-color="#373737"/><stop offset=".756" stop-color="#575757"/><stop offset=".8" stop-color="#616161"/><stop offset=".867" stop-color="#5a5a5a"/><stop offset=".878" stop-color="#585858"/><stop offset=".933" stop-color="#626262"/><stop offset="1" stop-color="#666666"/></linearGradient>
<linearGradient id="gc67"><stop offset="0" stop-color="#030303"/><stop offset=".422" stop-color="#010101"/><stop offset=".5" stop-color="#101010"/><stop offset=".544" stop-color="#191919"/><stop offset=".678" stop-color="#3f3f3f"/><stop offset=".767" stop-color="#5d5d5d"/><stop offset=".811" stop-color="#636363"/><stop offset=".878" stop-color="#5c5c5c"/><stop offset=".944" stop-color="#656565"/><stop offset="1" stop-color="#686868"/></linearGradient>
<linearGradient id="gc68"><stop offset="0" stop-color="#030303"/><stop offset=".4" stop-color="#010101"/><stop offset=".444" stop-color="#070707"/><stop offset=".489" stop-color="#141414"/><stop offset=".511" stop-color="#151515"/><stop offset=".689" stop-color="#474747"/><stop offset=".756" stop-color="#5d5d5d"/><stop offset=".8" stop-color="#666666"/><stop offset=".878" stop-color="#5f5f5f"/><stop offset=".933" stop-color="#676767"/><stop offset="1" stop-color="#6a6a6a"/></linearGradient>
<linearGradient id="gc69"><stop offset="0" stop-color="#030303"/><stop offset=".389" stop-color="#010101"/><stop offset=".433" stop-color="#060606"/><stop offset=".489" stop-color="#181818"/><stop offset=".533" stop-color="#1f1f1f"/><stop offset=".689" stop-color="#4b4b4b"/><stop offset=".756" stop-color="#616161"/><stop offset=".8" stop-color="#686868"/><stop offset=".878" stop-color="#636363"/><stop offset=".944" stop-color="#6a6a6a"/><stop offset="1" stop-color="#6c6c6c"/></linearGradient>
<linearGradient id="gc70"><stop offset="0" stop-color="#030303"/><stop offset=".389" stop-color="#010101"/><stop offset=".433" stop-color="#080808"/><stop offset=".489" stop-color="#1d1d1d"/><stop offset=".522" stop-color="#202020"/><stop offset=".622" stop-color="#3c3c3c"/><stop offset=".711" stop-color="#575757"/><stop offset=".767" stop-color="#676767"/><stop offset=".8" stop-color="#6b6b6b"/><stop offset=".856" stop-color="#666666"/><stop offset=".9" stop-color="#686868"/><stop offset=".967" stop-color="#6d6d6d"/><stop offset="1" stop-color="#6e6e6e"/></linearGradient>
<linearGradient id="gc71"><stop offset="0" stop-color="#030303"/><stop offset=".389" stop-color="#020202"/><stop offset=".433" stop-color="#0a0a0a"/><stop offset=".489" stop-color="#212121"/><stop offset=".522" stop-color="#242424"/><stop offset=".667" stop-color="#4f4f4f"/><stop offset=".767" stop-color="#6a6a6a"/><stop offset=".8" stop-color="#6e6e6e"/><stop offset=".867" stop-color="#686868"/><stop offset=".956" stop-color="#6d6d6d"/><stop offset="1" stop-color="#6e6e6e"/></linearGradient>
<linearGradient id="gc72"><stop offset="0" stop-color="#030303"/><stop offset=".378" stop-color="#020202"/><stop offset=".422" stop-color="#090909"/><stop offset=".467" stop-color="#1a1a1a"/><stop offset=".489" stop-color="#252525"/><stop offset=".511" stop-color="#262626"/><stop offset=".6" stop-color="#414141"/><stop offset=".656" stop-color="#525252"/><stop offset=".7" stop-color="#5b5b5b"/><stop offset=".767" stop-color="#6e6e6e"/><stop offset=".811" stop-color="#707070"/><stop offset=".867" stop-color="#6a6a6a"/><stop offset="1" stop-color="#6f6f6f"/></linearGradient>
<linearGradient id="gc73"><stop offset="0" stop-color="#030303"/><stop offset=".378" stop-color="#030303"/><stop offset=".422" stop-color="#0b0b0b"/><stop offset=".467" stop-color="#1d1d1d"/><stop offset=".489" stop-color="#292929"/><stop offset=".533" stop-color="#303030"/><stop offset=".6" stop-color="#474747"/><stop offset=".644" stop-color="#565656"/><stop offset=".7" stop-color="#5f5f5f"/><stop offset=".767" stop-color="#717171"/><stop offset=".811" stop-color="#737373"/><stop offset=".856" stop-color="#6d6d6d"/><stop offset=".9" stop-color="#6d6d6d"/><stop offset="1" stop-color="#707070"/></linearGradient>
<linearGradient id="gc74"><stop offset="0" stop-color="#030303"/><stop offset=".367" stop-color="#030303"/><stop offset=".411" stop-color="#0a0a0a"/><stop offset=".456" stop-color="#1b1b1b"/><stop offset=".489" stop-color="#2d2d2d"/><stop offset=".533" stop-color="#343434"/><stop offset=".589" stop-color="#484848"/><stop offset=".611" stop-color="#535353"/><stop offset=".656" stop-color="#5e5e5e"/><stop offset=".7" stop-color="#636363"/><stop offset=".767" stop-color="#757575"/><stop offset=".811" stop-color="#767676"/><stop offset=".867" stop-color="#6e6e6e"/><stop offset="1" stop-color="#707070"/></linearGradient>
<linearGradient id="gc75"><stop offset="0" stop-color="#030303"/><stop offset=".356" stop-color="#040404"/><stop offset=".411" stop-color="#0f0f0f"/><stop offset=".456" stop-color="#202020"/><stop offset=".489" stop-color="#323232"/><stop offset=".522" stop-color="#373737"/><stop offset=".578" stop-color="#4a4a4a"/><stop offset=".622" stop-color="#5b5b5b"/><stop offset=".656" stop-color="#626262"/><stop offset=".689" stop-color="#646464"/><stop offset=".767" stop-color="#797979"/><stop offset=".811" stop-color="#797979"/><stop offset=".856" stop-color="#717171"/><stop offset=".9" stop-color="#6f6f6f"/><stop offset="1" stop-color="#707070"/></linearGradient>
<linearGradient id="gc76"><stop offset="0" stop-color="#030303"/><stop offset=".333" stop-color="#040404"/><stop offset=".378" stop-color="#0a0a0a"/><stop offset=".422" stop-color="#171717"/><stop offset=".478" stop-color="#313131"/><stop offset=".489" stop-color="#373737"/><stop offset=".533" stop-color="#404040"/><stop offset=".622" stop-color="#616161"/><stop offset=".667" stop-color="#676767"/><stop offset=".689" stop-color="#686868"/><stop offset=".767" stop-color="#7c7c7c"/><stop offset=".8" stop-color="#7e7e7e"/><stop offset=".856" stop-color="#737373"/><stop offset=".9" stop-color="#707070"/><stop offset="1" stop-color="#707070"/></linearGradient>
<linearGradient id="gc77"><stop offset="0" stop-color="#030303"/><stop offset=".322" stop-color="#040404"/><stop offset=".367" stop-color="#0b0b0b"/><stop offset=".422" stop-color="#1c1c1c"/><stop offset=".489" stop-color="#3c3c3c"/><stop offset=".511" stop-color="#3f3f3f"/><stop offset=".622" stop-color="#666666"/><stop offset=".667" stop-color="#6b6b6b"/><stop offset=".7" stop-color="#6e6e6e"/><stop offset=".767" stop-color="#808080"/><stop offset=".8" stop-color="#818181"/><stop offset=".878" stop-color="#717171"/><stop offset="1" stop-color="#707070"/></linearGradient>
<linearGradient id="gc78"><stop offset="0" stop-color="#030303"/><stop offset=".311" stop-color="#030303"/><stop offset=".378" stop-color="#101010"/><stop offset=".433" stop-color="#262626"/><stop offset=".489" stop-color="#414141"/><stop offset=".533" stop-color="#4c4c4c"/><stop offset=".611" stop-color="#696969"/><stop offset=".667" stop-color="#6f6f6f"/><stop offset=".689" stop-color="#6f6f6f"/><stop offset=".767" stop-color="#848484"/><stop offset=".811" stop-color="#828282"/><stop offset=".878" stop-color="#737373"/><stop offset=".967" stop-color="#707070"/><stop offset="1" stop-color="#707070"/></linearGradient>
<linearGradient id="gc79"><stop offset="0" stop-color="#030303"/><stop offset=".3" stop-color="#040404"/><stop offset=".344" stop-color="#0a0a0a"/><stop offset=".411" stop-color="#212121"/><stop offset=".489" stop-color="#454545"/><stop offset=".533" stop-color="#515151"/><stop offset=".611" stop-color="#6c6c6c"/><stop offset=".667" stop-color="#717171"/><stop offset=".689" stop-color="#717171"/><stop offset=".767" stop-color="#858585"/><stop offset=".8" stop-color="#858585"/><stop offset=".867" stop-color="#757575"/><stop offset=".933" stop-color="#707070"/><stop offset="1" stop-color="#707070"/></linearGradient>
<linearGradient id="gc80"><stop offset="0" stop-color="#030303"/><stop offset=".289" stop-color="#040404"/><stop offset=".333" stop-color="#0b0b0b"/><stop offset=".389" stop-color="#1c1c1c"/><stop offset=".444" stop-color="#363636"/><stop offset=".489" stop-color="#494949"/><stop offset=".556" stop-color="#5c5c5c"/><stop offset=".622" stop-color="#6f6f6f"/><stop offset=".689" stop-color="#737373"/><stop offset=".767" stop-color="#868686"/><stop offset=".8" stop-color="#858585"/><stop offset=".867" stop-color="#757575"/><stop offset=".933" stop-color="#707070"/><stop offset="1" stop-color="#6f6f6f"/></linearGradient>
<linearGradient id="gc81"><stop offset="0" stop-color="#030303"/><stop offset=".278" stop-color="#030303"/><stop offset=".333" stop-color="#0d0d0d"/><stop offset=".411" stop-color="#292929"/><stop offset=".456" stop-color="#414141"/><stop offset=".5" stop-color="#505050"/><stop offset=".611" stop-color="#6f6f6f"/><stop offset=".7" stop-color="#777777"/><stop offset=".767" stop-color="#878787"/><stop offset=".8" stop-color="#858585"/><stop offset=".856" stop-color="#767676"/><stop offset=".933" stop-color="#707070"/><stop offset="1" stop-color="#6e6e6e"/></linearGradient>
<linearGradient id="gd0"><stop offset="0" stop-color="#323232"/><stop offset=".033" stop-color="#313131"/><stop offset=".044" stop-color="#373737"/><stop offset=".078" stop-color="#373737"/><stop offset=".089" stop-color="#343434"/><stop offset=".133" stop-color="#373737"/><stop offset=".144" stop-color="#363636"/><stop offset=".156" stop-color="#313131"/><stop offset=".167" stop-color="#373737"/><stop offset=".244" stop-color="#373737"/><stop offset=".256" stop-color="#393939"/><stop offset=".267" stop-color="#4f4f4f"/><stop offset=".356" stop-color="#4f4f4f"/><stop offset=".367" stop-color="#4c4c4c"/><stop offset=".378" stop-color="#535353"/><stop offset=".389" stop-color="#616161"/><stop offset=".467" stop-color="#616161"/><stop offset=".478" stop-color="#505050"/><stop offset=".5" stop-color="#4c4c4c"/><stop offset=".533" stop-color="#5e5e5e"/><stop offset=".578" stop-color="#515151"/><stop offset=".644" stop-color="#383838"/><stop offset=".744" stop-color="#292929"/><stop offset=".956" stop-color="#212121"/><stop offset="1" stop-color="#212121"/></linearGradient>
<linearGradient id="gd1"><stop offset="0" stop-color="#303030"/><stop offset=".033" stop-color="#2e2e2e"/><stop offset=".044" stop-color="#363636"/><stop offset=".078" stop-color="#363636"/><stop offset=".089" stop-color="#313131"/><stop offset=".111" stop-color="#363636"/><stop offset=".133" stop-color="#363636"/><stop offset=".156" stop-color="#2d2d2d"/><stop offset=".167" stop-color="#363636"/><stop offset=".256" stop-color="#363636"/><stop offset=".267" stop-color="#505050"/><stop offset=".356" stop-color="#505050"/><stop offset=".367" stop-color="#4b4b4b"/><stop offset=".378" stop-color="#515151"/><stop offset=".389" stop-color="#616161"/><stop offset=".467" stop-color="#616161"/><stop offset=".478" stop-color="#4e4e4e"/><stop offset=".5" stop-color="#4b4b4b"/><stop offset=".533" stop-color="#5b5b5b"/><stop offset=".578" stop-color="#4e4e4e"/><stop offset=".633" stop-color="#393939"/><stop offset=".7" stop-color="#2d2d2d"/><stop offset=".811" stop-color="#242424"/><stop offset="1" stop-color="#202020"/></linearGradient>
<linearGradient id="gd2"><stop offset="0" stop-color="#2e2e2e"/><stop offset=".033" stop-color="#2b2b2b"/><stop offset=".044" stop-color="#343434"/><stop offset=".078" stop-color="#353535"/><stop offset=".089" stop-color="#2e2e2e"/><stop offset=".111" stop-color="#353535"/><stop offset=".133" stop-color="#353535"/><stop offset=".156" stop-color="#282828"/><stop offset=".167" stop-color="#353535"/><stop offset=".211" stop-color="#373737"/><stop offset=".233" stop-color="#373737"/><stop offset=".256" stop-color="#343434"/><stop offset=".267" stop-color="#515151"/><stop offset=".356" stop-color="#515151"/><stop offset=".367" stop-color="#4a4a4a"/><stop offset=".378" stop-color="#505050"/><stop offset=".389" stop-color="#616161"/><stop offset=".467" stop-color="#606060"/><stop offset=".478" stop-color="#4c4c4c"/><stop offset=".5" stop-color="#494949"/><stop offset=".533" stop-color="#595959"/><stop offset=".6" stop-color="#424242"/><stop offset=".644" stop-color="#333333"/><stop offset=".756" stop-color="#262626"/><stop offset=".922" stop-color="#202020"/><stop offset="1" stop-color="#202020"/></linearGradient>
<linearGradient id="gd3"><stop offset="0" stop-color="#2d2d2d"/><stop offset=".022" stop-color="#2b2b2b"/><stop offset=".033" stop-color="#282828"/><stop offset=".044" stop-color="#323232"/><stop offset=".078" stop-color="#343434"/><stop offset=".089" stop-color="#2b2b2b"/><stop offset=".111" stop-color="#343434"/><stop offset=".133" stop-color="#343434"/><stop offset=".144" stop-color="#2e2e2e"/><stop offset=".156" stop-color="#242424"/><stop offset=".167" stop-color="#333333"/><stop offset=".189" stop-color="#363636"/><stop offset=".233" stop-color="#363636"/><stop offset=".256" stop-color="#323232"/><stop offset=".267" stop-color="#515151"/><stop offset=".356" stop-color="#515151"/><stop offset=".367" stop-color="#484848"/><stop offset=".378" stop-color="#4e4e4e"/><stop offset=".389" stop-color="#616161"/><stop offset=".467" stop-color="#606060"/><stop offset=".478" stop-color="#494949"/><stop offset=".5" stop-color="#474747"/><stop offset=".533" stop-color="#565656"/><stop offset=".6" stop-color="#3f3f3f"/><stop offset=".644" stop-color="#313131"/><stop offset=".744" stop-color="#262626"/><stop offset=".9" stop-color="#1f1f1f"/><stop offset="1" stop-color="#1f1f1f"/></linearGradient>
<linearGradient id="gd4"><stop offset="0" stop-color="#2b2b2b"/><stop offset=".022" stop-color="#282828"/><stop offset=".033" stop-color="#262626"/><stop offset=".044" stop-color="#303030"/><stop offset=".078" stop-color="#323232"/><stop offset=".089" stop-color="#282828"/><stop offset=".1" stop-color="#2b2b2b"/><stop offset=".111" stop-color="#333333"/><stop offset=".133" stop-color="#333333"/><stop offset=".156" stop-color="#202020"/><stop offset=".167" stop-color="#313131"/><stop offset=".178" stop-color="#353535"/><stop offset=".233" stop-color="#353535"/><stop offset=".256" stop-color="#303030"/><stop offset=".267" stop-color="#515151"/><stop offset=".356" stop-color="#515151"/><stop offset=".367" stop-color="#474747"/><stop offset=".378" stop-color="#4c4c4c"/><stop offset=".389" stop-color="#606060"/><stop offset=".467" stop-color="#5f5f5f"/><stop offset=".478" stop-color="#464646"/><stop offset=".5" stop-color="#454545"/><stop offset=".533" stop-color="#525252"/><stop offset=".578" stop-color="#444444"/><stop offset=".622" stop-color="#343434"/><stop offset=".667" stop-color="#2c2c2c"/><stop offset=".778" stop-color="#222222"/><stop offset=".933" stop-color="#1e1e1e"/><stop offset="1" stop-color="#1d1d1d"/></linearGradient>
<linearGradient id="gd5"><stop offset="0" stop-color="#292929"/><stop offset=".022" stop-color="#262626"/><stop offset=".033" stop-color="#232323"/><stop offset=".044" stop-color="#2e2e2e"/><stop offset=".067" stop-color="#313131"/><stop offset=".078" stop-color="#303030"/><stop offset=".089" stop-color="#262626"/><stop offset=".1" stop-color="#282828"/><stop offset=".111" stop-color="#313131"/><stop offset=".133" stop-color="#313131"/><stop offset=".156" stop-color="#1d1d1d"/><stop offset=".167" stop-color="#2f2f2f"/><stop offset=".178" stop-color="#353535"/><stop offset=".233" stop-color="#353535"/><stop offset=".244" stop-color="#303030"/><stop offset=".256" stop-color="#2f2f2f"/><stop offset=".267" stop-color="#4f4f4f"/><stop offset=".311" stop-color="#515151"/><stop offset=".356" stop-color="#515151"/><stop offset=".367" stop-color="#444444"/><stop offset=".378" stop-color="#484848"/><stop offset=".389" stop-color="#5e5e5e"/><stop offset=".456" stop-color="#5e5e5e"/><stop offset=".467" stop-color="#5b5b5b"/><stop offset=".478" stop-color="#434343"/><stop offset=".5" stop-color="#424242"/><stop offset=".533" stop-color="#4f4f4f"/><stop offset=".589" stop-color="#3d3d3d"/><stop offset=".611" stop-color="#343434"/><stop offset=".667" stop-color="#2a2a2a"/><stop offset=".822" stop-color="#1f1f1f"/><stop offset="1" stop-color="#1a1a1a"/></linearGradient>
<linearGradient id="gd6"><stop offset="0" stop-color="#272727"/><stop offset=".011" stop-color="#272727"/><stop offset=".033" stop-color="#212121"/><stop offset=".044" stop-color="#2b2b2b"/><stop offset=".056" stop-color="#2f2f2f"/><stop offset=".078" stop-color="#2e2e2e"/><stop offset=".089" stop-color="#232323"/><stop offset=".1" stop-color="#252525"/><stop offset=".111" stop-color="#303030"/><stop offset=".133" stop-color="#303030"/><stop offset=".156" stop-color="#1a1a1a"/><stop offset=".167" stop-color="#2c2c2c"/><stop offset=".178" stop-color="#343434"/><stop offset=".233" stop-color="#343434"/><stop offset=".244" stop-color="#2f2f2f"/><stop offset=".256" stop-color="#2e2e2e"/><stop offset=".267" stop-color="#4e4e4e"/><stop offset=".311" stop-color="#505050"/><stop offset=".356" stop-color="#505050"/><stop offset=".367" stop-color="#424242"/><stop offset=".378" stop-color="#444444"/><stop offset=".389" stop-color="#5b5b5b"/><stop offset=".456" stop-color="#5b5b5b"/><stop offset=".467" stop-color="#565656"/><stop offset=".478" stop-color="#3f3f3f"/><stop offset=".5" stop-color="#404040"/><stop offset=".533" stop-color="#4b4b4b"/><stop offset=".578" stop-color="#3d3d3d"/><stop offset=".622" stop-color="#2f2f2f"/><stop offset=".689" stop-color="#262626"/><stop offset="1" stop-color="#161616"/></linearGradient>
<linearGradient id="gd7"><stop offset="0" stop-color="#252525"/><stop offset=".011" stop-color="#252525"/><stop offset=".033" stop-color="#1e1e1e"/><stop offset=".044" stop-color="#282828"/><stop offset=".056" stop-color="#2d2d2d"/><stop offset=".078" stop-color="#2c2c2c"/><stop offset=".089" stop-color="#212121"/><stop offset=".1" stop-color="#222222"/><stop offset=".111" stop-color="#2f2f2f"/><stop offset=".133" stop-color="#2f2f2f"/><stop offset=".144" stop-color="#202020"/><stop offset=".156" stop-color="#171717"/><stop offset=".167" stop-color="#292929"/><stop offset=".178" stop-color="#343434"/><stop offset=".233" stop-color="#343434"/><stop offset=".244" stop-color="#2d2d2d"/><stop offset=".256" stop-color="#2c2c2c"/><stop offset=".267" stop-color="#4c4c4c"/><stop offset=".278" stop-color="#505050"/><stop offset=".356" stop-color="#4f4f4f"/><stop offset=".367" stop-color="#3f3f3f"/><stop offset=".378" stop-color="#414141"/><stop offset=".389" stop-color="#595959"/><stop offset=".456" stop-color="#595959"/><stop offset=".467" stop-color="#525252"/><stop offset=".478" stop-color="#3b3b3b"/><stop offset=".5" stop-color="#3d3d3d"/><stop offset=".533" stop-color="#484848"/><stop offset=".622" stop-color="#2c2c2c"/><stop offset=".689" stop-color="#252525"/><stop offset="1" stop-color="#131313"/></linearGradient>
<linearGradient id="gd8"><stop offset="0" stop-color="#242424"/><stop offset=".011" stop-color="#242424"/><stop offset=".022" stop-color="#1e1e1e"/><stop offset=".033" stop-color="#1c1c1c"/><stop offset=".056" stop-color="#2b2b2b"/><stop offset=".078" stop-color="#2a2a2a"/><stop offset=".089" stop-color="#1e1e1e"/><stop offset=".1" stop-color="#1f1f1f"/><stop offset=".111" stop-color="#2e2e2e"/><stop offset=".133" stop-color="#2e2e2e"/><stop offset=".144" stop-color="#1d1d1d"/><stop offset=".156" stop-color="#141414"/><stop offset=".167" stop-color="#262626"/><stop offset=".178" stop-color="#333333"/><stop offset=".233" stop-color="#333333"/><stop offset=".244" stop-color="#2c2c2c"/><stop offset=".256" stop-color="#2b2b2b"/><stop offset=".267" stop-color="#4a4a4a"/><stop offset=".278" stop-color="#4f4f4f"/><stop offset=".356" stop-color="#4e4e4e"/><stop offset=".367" stop-color="#3d3d3d"/><stop offset=".378" stop-color="#3d3d3d"/><stop offset=".389" stop-color="#565656"/><stop offset=".456" stop-color="#565656"/><stop offset=".467" stop-color="#4e4e4e"/><stop offset=".478" stop-color="#383838"/><stop offset=".5" stop-color="#3b3b3b"/><stop offset=".533" stop-color="#444444"/><stop offset=".611" stop-color="#2b2b2b"/><stop offset=".722" stop-color="#212121"/><stop offset=".867" stop-color="#1a1a1a"/><stop offset="1" stop-color="#0f0f0f"/></linearGradient>
<linearGradient id="gd9"><stop offset="0" stop-color="#222222"/><stop offset=".011" stop-color="#222222"/><stop offset=".033" stop-color="#1b1b1b"/><stop offset=".056" stop-color="#2b2b2b"/><stop offset=".078" stop-color="#292929"/><stop offset=".089" stop-color="#1d1d1d"/><stop offset=".1" stop-color="#1e1e1e"/><stop offset=".111" stop-color="#2d2d2d"/><stop offset=".133" stop-color="#2d2d2d"/><stop offset=".144" stop-color="#1b1b1b"/><stop offset=".156" stop-color="#131313"/><stop offset=".178" stop-color="#323232"/><stop offset=".233" stop-color="#323232"/><stop offset=".244" stop-color="#2a2a2a"/><stop offset=".256" stop-color="#2a2a2a"/><stop offset=".267" stop-color="#484848"/><stop offset=".278" stop-color="#4e4e4e"/><stop offset=".356" stop-color="#4d4d4d"/><stop offset=".367" stop-color="#3b3b3b"/><stop offset=".378" stop-color="#3b3b3b"/><stop offset=".389" stop-color="#535353"/><stop offset=".456" stop-color="#535353"/><stop offset=".467" stop-color="#494949"/><stop offset=".478" stop-color="#353535"/><stop offset=".5" stop-color="#383838"/><stop offset=".533" stop-color="#414141"/><stop offset=".611" stop-color="#2a2a2a"/><stop offset=".689" stop-color="#222222"/><stop offset=".844" stop-color="#181818"/><stop offset="1" stop-color="#0b0b0b"/></linearGradient>
<linearGradient id="gd10"><stop offset="0" stop-color="#212121"/><stop offset=".011" stop-color="#212121"/><stop offset=".022" stop-color="#1b1b1b"/><stop offset=".033" stop-color="#191919"/><stop offset=".056" stop-color="#2a2a2a"/><stop offset=".078" stop-color="#272727"/><stop offset=".089" stop-color="#1c1c1c"/><stop offset=".1" stop-color="#1c1c1c"/><stop offset=".111" stop-color="#2d2d2d"/><stop offset=".133" stop-color="#2d2d2d"/><stop offset=".144" stop-color="#191919"/><stop offset=".156" stop-color="#121212"/><stop offset=".178" stop-color="#323232"/><stop offset=".233" stop-color="#323232"/><stop offset=".244" stop-color="#292929"/><stop offset=".256" stop-color="#292929"/><stop offset=".267" stop-color="#464646"/><stop offset=".278" stop-color="#4e4e4e"/><stop offset=".344" stop-color="#4e4e4e"/><stop offset=".356" stop-color="#4b4b4b"/><stop offset=".367" stop-color="#383838"/><stop offset=".378" stop-color="#383838"/><stop offset=".389" stop-color="#4f4f4f"/><stop offset=".456" stop-color="#4f4f4f"/><stop offset=".467" stop-color="#454545"/><stop offset=".478" stop-color="#323232"/><stop offset=".5" stop-color="#353535"/><stop offset=".533" stop-color="#3e3e3e"/><stop offset=".611" stop-color="#292929"/><stop offset=".678" stop-color="#222222"/><stop offset=".822" stop-color="#171717"/><stop offset=".989" stop-color="#080808"/><stop offset="1" stop-color="#080808"/></linearGradient>
<linearGradient id="gd11"><stop offset="0" stop-color="#202020"/><stop offset=".011" stop-color="#202020"/><stop offset=".022" stop-color="#1a1a1a"/><stop offset=".033" stop-color="#181818"/><stop offset=".056" stop-color="#292929"/><stop offset=".078" stop-color="#262626"/><stop offset=".089" stop-color="#1b1b1b"/><stop offset=".1" stop-color="#1b1b1b"/><stop offset=".111" stop-color="#2c2c2c"/><stop offset=".133" stop-color="#2c2c2c"/><stop offset=".144" stop-color="#171717"/><stop offset=".156" stop-color="#111111"/><stop offset=".178" stop-color="#313131"/><stop offset=".233" stop-color="#313131"/><stop offset=".244" stop-color="#282828"/><stop offset=".256" stop-color="#282828"/><stop offset=".267" stop-color="#444444"/><stop offset=".278" stop-color="#4d4d4d"/><stop offset=".344" stop-color="#4d4d4d"/><stop offset=".356" stop-color="#494949"/><stop offset=".367" stop-color="#363636"/><stop offset=".378" stop-color="#363636"/><stop offset=".389" stop-color="#4b4b4b"/><stop offset=".456" stop-color="#4b4b4b"/><stop offset=".467" stop-color="#404040"/><stop offset=".478" stop-color="#2f2f2f"/><stop offset=".533" stop-color="#3b3b3b"/><stop offset=".589" stop-color="#2c2c2c"/><stop offset=".667" stop-color="#212121"/><stop offset=".8" stop-color="#171717"/><stop offset=".911" stop-color="#090909"/><stop offset="1" stop-color="#040404"/></linearGradient>
<linearGradient id="gd12"><stop offset="0" stop-color="#1f1f1f"/><stop offset=".011" stop-color="#1f1f1f"/><stop offset=".022" stop-color="#181818"/><stop offset=".033" stop-color="#171717"/><stop offset=".056" stop-color="#292929"/><stop offset=".067" stop-color="#292929"/><stop offset=".078" stop-color="#252525"/><stop offset=".089" stop-color="#1a1a1a"/><stop offset=".1" stop-color="#1a1a1a"/><stop offset=".111" stop-color="#2b2b2b"/><stop offset=".133" stop-color="#2b2b2b"/><stop offset=".144" stop-color="#151515"/><stop offset=".156" stop-color="#0f0f0f"/><stop offset=".167" stop-color="#1d1d1d"/><stop offset=".178" stop-color="#313131"/><stop offset=".233" stop-color="#313131"/><stop offset=".244" stop-color="#262626"/><stop offset=".256" stop-color="#262626"/><stop offset=".267" stop-color="#414141"/><stop offset=".278" stop-color="#4d4d4d"/><stop offset=".344" stop-color="#4d4d4d"/><stop offset=".356" stop-color="#484848"/><stop offset=".367" stop-color="#333333"/><stop offset=".378" stop-color="#333333"/><stop offset=".389" stop-color="#484848"/><stop offset=".456" stop-color="#484848"/><stop offset=".478" stop-color="#2c2c2c"/><stop offset=".5" stop-color="#303030"/><stop offset=".522" stop-color="#373737"/><stop offset=".533" stop-color="#383838"/><stop offset=".589" stop-color="#292929"/><stop offset=".678" stop-color="#1f1f1f"/><stop offset=".811" stop-color="#131313"/><stop offset=".878" stop-color="#080808"/><stop offset=".944" stop-color="#020202"/><stop offset="1" stop-color="#000000"/></linearGradient>
<linearGradient id="gd13"><stop offset="0" stop-color="#1d1d1d"/><stop offset=".011" stop-color="#1d1d1d"/><stop offset=".022" stop-color="#171717"/><stop offset=".033" stop-color="#161616"/><stop offset=".044" stop-color="#1d1d1d"/><stop offset=".056" stop-color="#282828"/><stop offset=".067" stop-color="#282828"/><stop offset=".078" stop-color="#232323"/><stop offset=".089" stop-color="#181818"/><stop offset=".1" stop-color="#181818"/><stop offset=".111" stop-color="#2b2b2b"/><stop offset=".133" stop-color="#2b2b2b"/><stop offset=".144" stop-color="#131313"/><stop offset=".156" stop-color="#0f0f0f"/><stop offset=".167" stop-color="#1c1c1c"/><stop offset=".178" stop-color="#303030"/><stop offset=".233" stop-color="#303030"/><stop offset=".244" stop-color="#252525"/><stop offset=".256" stop-color="#252525"/><stop offset=".267" stop-color="#3f3f3f"/><stop offset=".278" stop-color="#4c4c4c"/><stop offset=".344" stop-color="#4c4c4c"/><stop offset=".356" stop-color="#464646"/><stop offset=".367" stop-color="#313131"/><stop offset=".378" stop-color="#313131"/><stop offset=".389" stop-color="#444444"/><stop offset=".456" stop-color="#444444"/><stop offset=".478" stop-color="#292929"/><stop offset=".533" stop-color="#353535"/><stop offset=".578" stop-color="#292929"/><stop offset=".678" stop-color="#1d1d1d"/><stop offset=".767" stop-color="#151515"/><stop offset=".9" stop-color="#040404"/><stop offset="1" stop-color="#000000"/></linearGradient>
<linearGradient id="gd14"><stop offset="0" stop-color="#1c1c1c"/><stop offset=".011" stop-color="#1c1c1c"/><stop offset=".022" stop-color="#151515"/><stop offset=".033" stop-color="#151515"/><stop offset=".044" stop-color="#1c1c1c"/><stop offset=".056" stop-color="#282828"/><stop offset=".067" stop-color="#282828"/><stop offset=".078" stop-color="#222222"/><stop offset=".089" stop-color="#171717"/><stop offset=".1" stop-color="#171717"/><stop offset=".111" stop-color="#2b2b2b"/><stop offset=".133" stop-color="#2b2b2b"/><stop offset=".144" stop-color="#111111"/><stop offset=".156" stop-color="#0e0e0e"/><stop offset=".167" stop-color="#1a1a1a"/><stop offset=".178" stop-color="#303030"/><stop offset=".233" stop-color="#303030"/><stop offset=".244" stop-color="#242424"/><stop offset=".256" stop-color="#242424"/><stop offset=".267" stop-color="#3d3d3d"/><stop offset=".278" stop-color="#4b4b4b"/><stop offset=".344" stop-color="#4b4b4b"/><stop offset=".356" stop-color="#434343"/><stop offset=".367" stop-color="#2e2e2e"/><stop offset=".378" stop-color="#2e2e2e"/><stop offset=".389" stop-color="#3f3f3f"/><stop offset=".456" stop-color="#404040"/><stop offset=".478" stop-color="#262626"/><stop offset=".522" stop-color="#313131"/><stop offset=".544" stop-color="#303030"/><stop offset=".589" stop-color="#262626"/><stop offset=".667" stop-color="#1c1c1c"/><stop offset=".744" stop-color="#151515"/><stop offset=".844" stop-color="#080808"/><stop offset=".956" stop-color="#010101"/><stop offset="1" stop-color="#000000"/></linearGradient>
<linearGradient id="gd15"><stop offset="0" stop-color="#1b1b1b"/><stop offset=".011" stop-color="#1b1b1b"/><stop offset=".022" stop-color="#141414"/><stop offset=".033" stop-color="#131313"/><stop offset=".044" stop-color="#1a1a1a"/><stop offset=".056" stop-color="#272727"/><stop offset=".067" stop-color="#272727"/><stop offset=".089" stop-color="#161616"/><stop offset=".1" stop-color="#161616"/><stop offset=".111" stop-color="#2a2a2a"/><stop offset=".133" stop-color="#2b2b2b"/><stop offset=".144" stop-color="#0f0f0f"/><stop offset=".156" stop-color="#0e0e0e"/><stop offset=".167" stop-color="#181818"/><stop offset=".178" stop-color="#303030"/><stop offset=".233" stop-color="#303030"/><stop offset=".244" stop-color="#232323"/><stop offset=".256" stop-color="#232323"/><stop offset=".267" stop-color="#3a3a3a"/><stop offset=".278" stop-color="#4b4b4b"/><stop offset=".344" stop-color="#4b4b4b"/><stop offset=".356" stop-color="#414141"/><stop offset=".367" stop-color="#2c2c2c"/><stop offset=".378" stop-color="#2c2c2c"/><stop offset=".389" stop-color="#3b3b3b"/><stop offset=".433" stop-color="#3d3d3d"/><stop offset=".456" stop-color="#3d3d3d"/><stop offset=".467" stop-color="#2e2e2e"/><stop offset=".478" stop-color="#232323"/><stop offset=".522" stop-color="#2f2f2f"/><stop offset=".544" stop-color="#2d2d2d"/><stop offset=".6" stop-color="#222222"/><stop offset=".689" stop-color="#191919"/><stop offset=".767" stop-color="#0e0e0e"/><stop offset=".844" stop-color="#050505"/><stop offset="1" stop-color="#000000"/></linearGradient>
<linearGradient id="gd16"><stop offset="0" stop-color="#1a1a1a"/><stop offset=".011" stop-color="#1a1a1a"/><stop offset=".022" stop-color="#121212"/><stop offset=".033" stop-color="#121212"/><stop offset=".044" stop-color="#181818"/><stop offset=".056" stop-color="#262626"/><stop offset=".067" stop-color="#262626"/><stop offset=".089" stop-color="#151515"/><stop offset=".1" stop-color="#151515"/><stop offset=".111" stop-color="#2a2a2a"/><stop offset=".133" stop-color="#2b2b2b"/><stop offset=".144" stop-color="#0e0e0e"/><stop offset=".156" stop-color="#0d0d0d"/><stop offset=".167" stop-color="#161616"/><stop offset=".178" stop-color="#303030"/><stop offset=".233" stop-color="#303030"/><stop offset=".244" stop-color="#222222"/><stop offset=".256" stop-color="#222222"/><stop offset=".267" stop-color="#383838"/><stop offset=".278" stop-color="#4a4a4a"/><stop offset=".344" stop-color="#4a4a4a"/><stop offset=".356" stop-color="#3f3f3f"/><stop offset=".367" stop-color="#2a2a2a"/><stop offset=".378" stop-color="#2a2a2a"/><stop offset=".389" stop-color="#373737"/><stop offset=".433" stop-color="#393939"/><stop offset=".456" stop-color="#393939"/><stop offset=".467" stop-color="#2a2a2a"/><stop offset=".478" stop-color="#1f1f1f"/><stop offset=".522" stop-color="#2c2c2c"/><stop offset=".567" stop-color="#262626"/><stop offset=".667" stop-color="#191919"/><stop offset=".733" stop-color="#111111"/><stop offset=".8" stop-color="#050505"/><stop offset="1" stop-color="#000000"/></linearGradient>
<linearGradient id="gd17"><stop offset="0" stop-color="#191919"/><stop offset=".011" stop-color="#191919"/><stop offset=".022" stop-color="#111111"/><stop offset=".033" stop-color="#111111"/><stop offset=".044" stop-color="#161616"/><stop offset=".056" stop-color="#262626"/><stop offset=".067" stop-color="#262626"/><stop offset=".089" stop-color="#141414"/><stop offset=".1" stop-color="#141414"/><stop offset=".111" stop-color="#282828"/><stop offset=".133" stop-color="#2b2b2b"/><stop offset=".144" stop-color="#0d0d0d"/><stop offset=".156" stop-color="#0d0d0d"/><stop offset=".167" stop-color="#151515"/><stop offset=".178" stop-color="#303030"/><stop offset=".233" stop-color="#2f2f2f"/><stop offset=".244" stop-color="#202020"/><stop offset=".256" stop-color="#202020"/><stop offset=".278" stop-color="#494949"/><stop offset=".344" stop-color="#494949"/><stop offset=".356" stop-color="#3c3c3c"/><stop offset=".367" stop-color="#282828"/><stop offset=".378" stop-color="#282828"/><stop offset=".389" stop-color="#333333"/><stop offset=".411" stop-color="#363636"/><stop offset=".456" stop-color="#363636"/><stop offset=".467" stop-color="#262626"/><stop offset=".478" stop-color="#1c1c1c"/><stop offset=".522" stop-color="#2a2a2a"/><stop offset=".556" stop-color="#262626"/><stop offset=".611" stop-color="#1d1d1d"/><stop offset=".722" stop-color="#101010"/><stop offset=".789" stop-color="#040404"/><stop offset="1" stop-color="#000000"/></linearGradient>
<linearGradient id="gd18"><stop offset="0" stop-color="#171717"/><stop offset=".011" stop-color="#171717"/><stop offset=".022" stop-color="#101010"/><stop offset=".033" stop-color="#101010"/><stop offset=".044" stop-color="#141414"/><stop offset=".056" stop-color="#252525"/><stop offset=".067" stop-color="#252525"/><stop offset=".089" stop-color="#121212"/><stop offset=".1" stop-color="#121212"/><stop offset=".111" stop-color="#272727"/><stop offset=".133" stop-color="#2a2a2a"/><stop offset=".144" stop-color="#0d0d0d"/><stop offset=".156" stop-color="#0d0d0d"/><stop offset=".167" stop-color="#131313"/><stop offset=".178" stop-color="#2f2f2f"/><stop offset=".222" stop-color="#2f2f2f"/><stop offset=".233" stop-color="#2d2d2d"/><stop offset=".244" stop-color="#1e1e1e"/><stop offset=".256" stop-color="#1e1e1e"/><stop offset=".278" stop-color="#484848"/><stop offset=".344" stop-color="#484848"/><stop offset=".356" stop-color="#393939"/><stop offset=".367" stop-color="#262626"/><stop offset=".378" stop-color="#262626"/><stop offset=".389" stop-color="#303030"/><stop offset=".411" stop-color="#333333"/><stop offset=".456" stop-color="#333333"/><stop offset=".467" stop-color="#222222"/><stop offset=".478" stop-color="#191919"/><stop offset=".511" stop-color="#262626"/><stop offset=".533" stop-color="#272727"/><stop offset=".622" stop-color="#191919"/><stop offset=".722" stop-color="#0d0d0d"/><stop offset=".8" stop-color="#030303"/><stop offset="1" stop-color="#000000"/></linearGradient>
<linearGradient id="gd19"><stop offset="0" stop-color="#161616"/><stop offset=".011" stop-color="#161616"/><stop offset=".022" stop-color="#0f0f0f"/><stop offset=".044" stop-color="#121212"/><stop offset=".056" stop-color="#252525"/><stop offset=".067" stop-color="#252525"/><stop offset=".089" stop-color="#111111"/><stop offset=".1" stop-color="#111111"/><stop offset=".111" stop-color="#252525"/><stop offset=".122" stop-color="#2a2a2a"/><stop offset=".133" stop-color="#2a2a2a"/><stop offset=".144" stop-color="#0d0d0d"/><stop offset=".156" stop-color="#0d0d0d"/><stop offset=".167" stop-color="#121212"/><stop offset=".178" stop-color="#2f2f2f"/><stop offset=".222" stop-color="#2f2f2f"/><stop offset=".233" stop-color="#2c2c2c"/><stop offset=".244" stop-color="#1c1c1c"/><stop offset=".256" stop-color="#1c1c1c"/><stop offset=".267" stop-color="#2e2e2e"/><stop offset=".278" stop-color="#474747"/><stop offset=".344" stop-color="#474747"/><stop offset=".367" stop-color="#242424"/><stop offset=".378" stop-color="#242424"/><stop offset=".389" stop-color="#2d2d2d"/><stop offset=".411" stop-color="#303030"/><stop offset=".456" stop-color="#303030"/><stop offset=".467" stop-color="#1e1e1e"/><stop offset=".478" stop-color="#161616"/><stop offset=".511" stop-color="#232323"/><stop offset=".533" stop-color="#252525"/><stop offset=".611" stop-color="#181818"/><stop offset=".7" stop-color="#0e0e0e"/><stop offset=".767" stop-color="#050505"/><stop offset=".856" stop-color="#020202"/><stop offset="1" stop-color="#000000"/></linearGradient>
<linearGradient id="gd20"><stop offset="0" stop-color="#151515"/><stop offset=".011" stop-color="#151515"/><stop offset=".022" stop-color="#0d0d0d"/><stop offset=".044" stop-color="#101010"/><stop offset=".056" stop-color="#242424"/><stop offset=".067" stop-color="#242424"/><stop offset=".078" stop-color="#181818"/><stop offset=".089" stop-color="#101010"/><stop offset=".1" stop-color="#101010"/><stop offset=".111" stop-color="#232323"/><stop offset=".122" stop-color="#292929"/><stop offset=".133" stop-color="#292929"/><stop offset=".144" stop-color="#0d0d0d"/><stop offset=".167" stop-color="#101010"/><stop offset=".178" stop-color="#2e2e2e"/><stop offset=".222" stop-color="#2e2e2e"/><stop offset=".233" stop-color="#2a2a2a"/><stop offset=".244" stop-color="#1a1a1a"/><stop offset=".256" stop-color="#1a1a1a"/><stop offset=".267" stop-color="#2b2b2b"/><stop offset=".278" stop-color="#454545"/><stop offset=".344" stop-color="#454545"/><stop offset=".367" stop-color="#222222"/><stop offset=".378" stop-color="#222222"/><stop offset=".389" stop-color="#2a2a2a"/><stop offset=".411" stop-color="#2d2d2d"/><stop offset=".456" stop-color="#2d2d2d"/><stop offset=".467" stop-color="#1a1a1a"/><stop offset=".478" stop-color="#131313"/><stop offset=".511" stop-color="#212121"/><stop offset=".533" stop-color="#222222"/><stop offset=".622" stop-color="#151515"/><stop offset=".689" stop-color="#0d0d0d"/><stop offset=".733" stop-color="#050505"/><stop offset=".844" stop-color="#020202"/><stop offset="1" stop-color="#000000"/></linearGradient>
<linearGradient id="gd21"><stop offset="0" stop-color="#141414"/><stop offset=".011" stop-color="#141414"/><stop offset=".022" stop-color="#0c0c0c"/><stop offset=".044" stop-color="#0f0f0f"/><stop offset=".056" stop-color="#232323"/><stop offset=".067" stop-color="#232323"/><stop offset=".078" stop-color="#161616"/><stop offset=".089" stop-color="#0f0f0f"/><stop offset=".1" stop-color="#0f0f0f"/><stop offset=".111" stop-color="#222222"/><stop offset=".122" stop-color="#292929"/><stop offset=".133" stop-color="#282828"/><stop offset=".144" stop-color="#0c0c0c"/><stop offset=".167" stop-color="#0f0f0f"/><stop offset=".178" stop-color="#2e2e2e"/><stop offset=".222" stop-color="#2e2e2e"/><stop offset=".233" stop-color="#282828"/><stop offset=".244" stop-color="#191919"/><stop offset=".256" stop-color="#191919"/><stop offset=".267" stop-color="#282828"/><stop offset=".278" stop-color="#444444"/><stop offset=".344" stop-color="#444444"/><stop offset=".356" stop-color="#303030"/><stop offset=".367" stop-color="#202020"/><stop offset=".378" stop-color="#202020"/><stop offset=".389" stop-color="#272727"/><stop offset=".411" stop-color="#2a2a2a"/><stop offset=".456" stop-color="#2a2a2a"/><stop offset=".467" stop-color="#161616"/><stop offset=".478" stop-color="#111111"/><stop offset=".511" stop-color="#1f1f1f"/><stop offset=".533" stop-color="#202020"/><stop offset=".622" stop-color="#121212"/><stop offset=".7" stop-color="#090909"/><stop offset=".722" stop-color="#040404"/><stop offset=".922" stop-color="#010101"/><stop offset="1" stop-color="#000000"/></linearGradient>
<linearGradient id="gd22"><stop offset="0" stop-color="#131313"/><stop offset=".011" stop-color="#121212"/><stop offset=".022" stop-color="#0c0c0c"/><stop offset=".044" stop-color="#0e0e0e"/><stop offset=".056" stop-color="#232323"/><stop offset=".067" stop-color="#232323"/><stop offset=".078" stop-color="#151515"/><stop offset=".089" stop-color="#0e0e0e"/><stop offset=".1" stop-color="#0e0e0e"/><stop offset=".111" stop-color="#202020"/><stop offset=".122" stop-color="#292929"/><stop offset=".133" stop-color="#272727"/><stop offset=".144" stop-color="#0c0c0c"/><stop offset=".167" stop-color="#0e0e0e"/><stop offset=".178" stop-color="#2e2e2e"/><stop offset=".222" stop-color="#2e2e2e"/><stop offset=".233" stop-color="#272727"/><stop offset=".244" stop-color="#181818"/><stop offset=".256" stop-color="#181818"/><stop offset=".267" stop-color="#242424"/><stop offset=".278" stop-color="#434343"/><stop offset=".344" stop-color="#434343"/><stop offset=".356" stop-color="#2c2c2c"/><stop offset=".367" stop-color="#1e1e1e"/><stop offset=".378" stop-color="#1e1e1e"/><stop offset=".4" stop-color="#282828"/><stop offset=".456" stop-color="#282828"/><stop offset=".467" stop-color="#121212"/><stop offset=".478" stop-color="#0e0e0e"/><stop offset=".511" stop-color="#1c1c1c"/><stop offset=".533" stop-color="#1d1d1d"/><stop offset=".633" stop-color="#0e0e0e"/><stop offset=".756" stop-color="#020202"/><stop offset="1" stop-color="#000000"/></linearGradient>
<linearGradient id="gd23"><stop offset="0" stop-color="#111111"/><stop offset=".011" stop-color="#111111"/><stop offset=".022" stop-color="#0b0b0b"/><stop offset=".044" stop-color="#0c0c0c"/><stop offset=".056" stop-color="#222222"/><stop offset=".067" stop-color="#222222"/><stop offset=".078" stop-color="#131313"/><stop offset=".089" stop-color="#0e0e0e"/><stop offset=".1" stop-color="#0e0e0e"/><stop offset=".111" stop-color="#1e1e1e"/><stop offset=".122" stop-color="#292929"/><stop offset=".133" stop-color="#252525"/><stop offset=".144" stop-color="#0b0b0b"/><stop offset=".167" stop-color="#0c0c0c"/><stop offset=".178" stop-color="#2e2e2e"/><stop offset=".222" stop-color="#2e2e2e"/><stop offset=".233" stop-color="#252525"/><stop offset=".244" stop-color="#161616"/><stop offset=".256" stop-color="#161616"/><stop offset=".267" stop-color="#202020"/><stop offset=".278" stop-color="#424242"/><stop offset=".344" stop-color="#424242"/><stop offset=".356" stop-color="#292929"/><stop offset=".367" stop-color="#1d1d1d"/><stop offset=".378" stop-color="#1d1d1d"/><stop offset=".4" stop-color="#252525"/><stop offset=".456" stop-color="#252525"/><stop offset=".467" stop-color="#0e0e0e"/><stop offset=".478" stop-color="#0c0c0c"/><stop offset=".511" stop-color="#1a1a1a"/><stop offset=".533" stop-color="#1a1a1a"/><stop offset=".667" stop-color="#080808"/><stop offset=".756" stop-color="#020202"/><stop offset="1" stop-color="#000000"/></linearGradient>
<linearGradient id="gd24"><stop offset="0" stop-color="#101010"/><stop offset=".022" stop-color="#0b0b0b"/><stop offset=".044" stop-color="#0b0b0b"/><stop offset=".056" stop-color="#222222"/><stop offset=".067" stop-color="#222222"/><stop offset=".078" stop-color="#111111"/><stop offset=".089" stop-color="#0d0d0d"/><stop offset=".1" stop-color="#0d0d0d"/><stop offset=".122" stop-color="#292929"/><stop offset=".133" stop-color="#242424"/><stop offset=".144" stop-color="#0b0b0b"/><stop offset=".167" stop-color="#0b0b0b"/><stop offset=".178" stop-color="#2e2e2e"/><stop offset=".222" stop-color="#2e2e2e"/><stop offset=".244" stop-color="#151515"/><stop offset=".256" stop-color="#151515"/><stop offset=".267" stop-color="#1c1c1c"/><stop offset=".278" stop-color="#414141"/><stop offset=".344" stop-color="#414141"/><stop offset=".356" stop-color="#252525"/><stop offset=".367" stop-color="#1b1b1b"/><stop offset=".378" stop-color="#1b1b1b"/><stop offset=".4" stop-color="#232323"/><stop offset=".456" stop-color="#232323"/><stop offset=".467" stop-color="#0a0a0a"/><stop offset=".478" stop-color="#090909"/><stop offset=".511" stop-color="#171717"/><stop offset=".533" stop-color="#171717"/><stop offset=".633" stop-color="#070707"/><stop offset=".767" stop-color="#020202"/><stop offset="1" stop-color="#000000"/></linearGradient>
<linearGradient id="gd25"><stop offset="0" stop-color="#0f0f0f"/><stop offset=".022" stop-color="#0a0a0a"/><stop offset=".044" stop-color="#0a0a0a"/><stop offset=".056" stop-color="#212121"/><stop offset=".067" stop-color="#212121"/><stop offset=".078" stop-color="#0f0f0f"/><stop offset=".1" stop-color="#0c0c0c"/><stop offset=".122" stop-color="#292929"/><stop offset=".133" stop-color="#232323"/><stop offset=".144" stop-color="#0a0a0a"/><stop offset=".167" stop-color="#0a0a0a"/><stop offset=".178" stop-color="#2e2e2e"/><stop offset=".222" stop-color="#2e2e2e"/><stop offset=".244" stop-color="#141414"/><stop offset=".256" stop-color="#141414"/><stop offset=".267" stop-color="#191919"/><stop offset=".278" stop-color="#3f3f3f"/><stop offset=".344" stop-color="#3f3f3f"/><stop offset=".356" stop-color="#212121"/><stop offset=".367" stop-color="#191919"/><stop offset=".389" stop-color="#1c1c1c"/><stop offset=".4" stop-color="#202020"/><stop offset=".456" stop-color="#202020"/><stop offset=".467" stop-color="#070707"/><stop offset=".478" stop-color="#070707"/><stop offset=".511" stop-color="#151515"/><stop offset=".578" stop-color="#0e0e0e"/><stop offset=".667" stop-color="#020202"/><stop offset="1" stop-color="#010101"/></linearGradient>
<linearGradient id="gd26"><stop offset="0" stop-color="#0f0f0f"/><stop offset=".022" stop-color="#090909"/><stop offset=".044" stop-color="#090909"/><stop offset=".056" stop-color="#202020"/><stop offset=".067" stop-color="#202020"/><stop offset=".078" stop-color="#0d0d0d"/><stop offset=".1" stop-color="#0b0b0b"/><stop offset=".111" stop-color="#181818"/><stop offset=".122" stop-color="#292929"/><stop offset=".133" stop-color="#212121"/><stop offset=".144" stop-color="#090909"/><stop offset=".167" stop-color="#090909"/><stop offset=".178" stop-color="#2d2d2d"/><stop offset=".222" stop-color="#2e2e2e"/><stop offset=".244" stop-color="#131313"/><stop offset=".267" stop-color="#161616"/><stop offset=".278" stop-color="#3d3d3d"/><stop offset=".344" stop-color="#3d3d3d"/><stop offset=".356" stop-color="#1d1d1d"/><stop offset=".367" stop-color="#161616"/><stop offset=".389" stop-color="#191919"/><stop offset=".4" stop-color="#1d1d1d"/><stop offset=".456" stop-color="#1d1d1d"/><stop offset=".467" stop-color="#060606"/><stop offset=".478" stop-color="#060606"/><stop offset=".511" stop-color="#121212"/><stop offset=".533" stop-color="#111111"/><stop offset=".644" stop-color="#040404"/><stop offset=".733" stop-color="#020202"/><stop offset=".978" stop-color="#010101"/><stop offset="1" stop-color="#020202"/></linearGradient>
<linearGradient id="gd27"><stop offset="0" stop-color="#0e0e0e"/><stop offset=".022" stop-color="#090909"/><stop offset=".044" stop-color="#090909"/><stop offset=".056" stop-color="#1f1f1f"/><stop offset=".067" stop-color="#202020"/><stop offset=".078" stop-color="#0b0b0b"/><stop offset=".1" stop-color="#0a0a0a"/><stop offset=".111" stop-color="#161616"/><stop offset=".122" stop-color="#292929"/><stop offset=".133" stop-color="#202020"/><stop offset=".144" stop-color="#090909"/><stop offset=".167" stop-color="#090909"/><stop offset=".178" stop-color="#2c2c2c"/><stop offset=".222" stop-color="#2e2e2e"/><stop offset=".233" stop-color="#1e1e1e"/><stop offset=".244" stop-color="#121212"/><stop offset=".267" stop-color="#141414"/><stop offset=".278" stop-color="#3a3a3a"/><stop offset=".344" stop-color="#3a3a3a"/><stop offset=".356" stop-color="#191919"/><stop offset=".367" stop-color="#141414"/><stop offset=".389" stop-color="#161616"/><stop offset=".4" stop-color="#1a1a1a"/><stop offset=".456" stop-color="#1a1a1a"/><stop offset=".467" stop-color="#050505"/><stop offset=".489" stop-color="#080808"/><stop offset=".511" stop-color="#101010"/><stop offset=".533" stop-color="#0f0f0f"/><stop offset=".589" stop-color="#070707"/><stop offset=".7" stop-color="#020202"/><stop offset=".967" stop-color="#010101"/><stop offset="1" stop-color="#040404"/></linearGradient>
<linearGradient id="gd28"><stop offset="0" stop-color="#0d0d0d"/><stop offset=".022" stop-color="#080808"/><stop offset=".044" stop-color="#080808"/><stop offset=".056" stop-color="#1e1e1e"/><stop offset=".067" stop-color="#1f1f1f"/><stop offset=".078" stop-color="#090909"/><stop offset=".1" stop-color="#090909"/><stop offset=".111" stop-color="#141414"/><stop offset=".122" stop-color="#292929"/><stop offset=".133" stop-color="#1e1e1e"/><stop offset=".144" stop-color="#080808"/><stop offset=".167" stop-color="#080808"/><stop offset=".178" stop-color="#2b2b2b"/><stop offset=".2" stop-color="#2e2e2e"/><stop offset=".222" stop-color="#2e2e2e"/><stop offset=".233" stop-color="#1c1c1c"/><stop offset=".244" stop-color="#101010"/><stop offset=".267" stop-color="#121212"/><stop offset=".278" stop-color="#383838"/><stop offset=".344" stop-color="#383838"/><stop offset=".356" stop-color="#151515"/><stop offset=".367" stop-color="#111111"/><stop offset=".389" stop-color="#131313"/><stop offset=".4" stop-color="#171717"/><stop offset=".456" stop-color="#171717"/><stop offset=".467" stop-color="#040404"/><stop offset=".489" stop-color="#070707"/><stop offset=".511" stop-color="#0e0e0e"/><stop offset=".533" stop-color="#0d0d0d"/><stop offset=".578" stop-color="#060606"/><stop offset=".689" stop-color="#020202"/><stop offset=".956" stop-color="#000000"/><stop offset="1" stop-color="#060606"/></linearGradient>
<linearGradient id="gd29"><stop offset="0" stop-color="#0d0d0d"/><stop offset=".022" stop-color="#080808"/><stop offset=".044" stop-color="#080808"/><stop offset=".056" stop-color="#1c1c1c"/><stop offset=".067" stop-color="#1e1e1e"/><stop offset=".078" stop-color="#080808"/><stop offset=".1" stop-color="#080808"/><stop offset=".111" stop-color="#131313"/><stop offset=".122" stop-color="#292929"/><stop offset=".133" stop-color="#1d1d1d"/><stop offset=".144" stop-color="#080808"/><stop offset=".167" stop-color="#080808"/><stop offset=".178" stop-color="#292929"/><stop offset=".189" stop-color="#2e2e2e"/><stop offset=".222" stop-color="#2e2e2e"/><stop offset=".233" stop-color="#1a1a1a"/><stop offset=".244" stop-color="#0f0f0f"/><stop offset=".267" stop-color="#0f0f0f"/><stop offset=".278" stop-color="#353535"/><stop offset=".344" stop-color="#353535"/><stop offset=".356" stop-color="#111111"/><stop offset=".378" stop-color="#0f0f0f"/><stop offset=".4" stop-color="#141414"/><stop offset=".456" stop-color="#141414"/><stop offset=".467" stop-color="#030303"/><stop offset=".489" stop-color="#050505"/><stop offset=".511" stop-color="#0c0c0c"/><stop offset=".544" stop-color="#080808"/><stop offset=".589" stop-color="#020202"/><stop offset=".956" stop-color="#010101"/><stop offset="1" stop-color="#080808"/></linearGradient>
<linearGradient id="gd30"><stop offset="0" stop-color="#0c0c0c"/><stop offset=".022" stop-color="#070707"/><stop offset=".044" stop-color="#070707"/><stop offset=".056" stop-color="#1b1b1b"/><stop offset=".067" stop-color="#1d1d1d"/><stop offset=".078" stop-color="#080808"/><stop offset=".1" stop-color="#080808"/><stop offset=".111" stop-color="#111111"/><stop offset=".122" stop-color="#282828"/><stop offset=".133" stop-color="#1b1b1b"/><stop offset=".144" stop-color="#080808"/><stop offset=".167" stop-color="#080808"/><stop offset=".178" stop-color="#272727"/><stop offset=".189" stop-color="#2d2d2d"/><stop offset=".222" stop-color="#2d2d2d"/><stop offset=".233" stop-color="#181818"/><stop offset=".244" stop-color="#0f0f0f"/><stop offset=".267" stop-color="#0f0f0f"/><stop offset=".278" stop-color="#323232"/><stop offset=".344" stop-color="#323232"/><stop offset=".356" stop-color="#0f0f0f"/><stop offset=".378" stop-color="#0d0d0d"/><stop offset=".411" stop-color="#111111"/><stop offset=".456" stop-color="#111111"/><stop offset=".467" stop-color="#030303"/><stop offset=".522" stop-color="#090909"/><stop offset=".589" stop-color="#020202"/><stop offset=".944" stop-color="#010101"/><stop offset="1" stop-color="#0c0c0c"/></linearGradient>
<linearGradient id="gd31"><stop offset="0" stop-color="#0b0b0b"/><stop offset=".022" stop-color="#060606"/><stop offset=".044" stop-color="#060606"/><stop offset=".056" stop-color="#191919"/><stop offset=".067" stop-color="#1c1c1c"/><stop offset=".078" stop-color="#080808"/><stop offset=".1" stop-color="#080808"/><stop offset=".111" stop-color="#101010"/><stop offset=".122" stop-color="#282828"/><stop offset=".133" stop-color="#1a1a1a"/><stop offset=".144" stop-color="#080808"/><stop offset=".167" stop-color="#080808"/><stop offset=".178" stop-color="#252525"/><stop offset=".189" stop-color="#2d2d2d"/><stop offset=".222" stop-color="#2d2d2d"/><stop offset=".233" stop-color="#171717"/><stop offset=".244" stop-color="#0e0e0e"/><stop offset=".267" stop-color="#0e0e0e"/><stop offset=".278" stop-color="#2f2f2f"/><stop offset=".344" stop-color="#2f2f2f"/><stop offset=".356" stop-color="#0d0d0d"/><stop offset=".378" stop-color="#0b0b0b"/><stop offset=".422" stop-color="#0e0e0e"/><stop offset=".456" stop-color="#0e0e0e"/><stop offset=".467" stop-color="#030303"/><stop offset=".511" stop-color="#070707"/><stop offset=".6" stop-color="#010101"/><stop offset=".933" stop-color="#010101"/><stop offset=".967" stop-color="#070707"/><stop offset="1" stop-color="#111111"/></linearGradient>
<linearGradient id="gd32"><stop offset="0" stop-color="#0b0b0b"/><stop offset=".022" stop-color="#060606"/><stop offset=".044" stop-color="#060606"/><stop offset=".056" stop-color="#171717"/><stop offset=".067" stop-color="#1b1b1b"/><stop offset=".078" stop-color="#080808"/><stop offset=".1" stop-color="#080808"/><stop offset=".111" stop-color="#0e0e0e"/><stop offset=".122" stop-color="#272727"/><stop offset=".144" stop-color="#080808"/><stop offset=".167" stop-color="#080808"/><stop offset=".178" stop-color="#232323"/><stop offset=".189" stop-color="#2c2c2c"/><stop offset=".222" stop-color="#2c2c2c"/><stop offset=".233" stop-color="#151515"/><stop offset=".244" stop-color="#0d0d0d"/><stop offset=".267" stop-color="#0d0d0d"/><stop offset=".278" stop-color="#2c2c2c"/><stop offset=".344" stop-color="#2c2c2c"/><stop offset=".356" stop-color="#0a0a0a"/><stop offset=".456" stop-color="#0a0a0a"/><stop offset=".467" stop-color="#030303"/><stop offset=".533" stop-color="#030303"/><stop offset=".622" stop-color="#010101"/><stop offset=".922" stop-color="#000000"/><stop offset=".967" stop-color="#0a0a0a"/><stop offset="1" stop-color="#151515"/></linearGradient>
<linearGradient id="gd33"><stop offset="0" stop-color="#0a0a0a"/><stop offset=".022" stop-color="#050505"/><stop offset=".044" stop-color="#050505"/><stop offset=".056" stop-color="#151515"/><stop offset=".067" stop-color="#1a1a1a"/><stop offset=".078" stop-color="#080808"/><stop offset=".1" stop-color="#080808"/><stop offset=".111" stop-color="#0d0d0d"/><stop offset=".122" stop-color="#262626"/><stop offset=".144" stop-color="#080808"/><stop offset=".167" stop-color="#080808"/><stop offset=".178" stop-color="#222222"/><stop offset=".189" stop-color="#2b2b2b"/><stop offset=".222" stop-color="#2b2b2b"/><stop offset=".233" stop-color="#131313"/><stop offset=".244" stop-color="#0d0d0d"/><stop offset=".267" stop-color="#0d0d0d"/><stop offset=".278" stop-color="#292929"/><stop offset=".344" stop-color="#292929"/><stop offset=".356" stop-color="#080808"/><stop offset=".456" stop-color="#070707"/><stop offset=".467" stop-color="#030303"/><stop offset=".6" stop-color="#000000"/><stop offset=".922" stop-color="#000000"/><stop offset=".967" stop-color="#0c0c0c"/><stop offset="1" stop-color="#191919"/></linearGradient>
<linearGradient id="gd34"><stop offset="0" stop-color="#0a0a0a"/><stop offset=".022" stop-color="#050505"/><stop offset=".044" stop-color="#050505"/><stop offset=".056" stop-color="#131313"/><stop offset=".067" stop-color="#181818"/><stop offset=".078" stop-color="#070707"/><stop offset=".1" stop-color="#070707"/><stop offset=".111" stop-color="#0b0b0b"/><stop offset=".122" stop-color="#252525"/><stop offset=".144" stop-color="#080808"/><stop offset=".167" stop-color="#080808"/><stop offset=".178" stop-color="#202020"/><stop offset=".189" stop-color="#2b2b2b"/><stop offset=".222" stop-color="#2b2b2b"/><stop offset=".233" stop-color="#111111"/><stop offset=".244" stop-color="#0c0c0c"/><stop offset=".267" stop-color="#0c0c0c"/><stop offset=".278" stop-color="#252525"/><stop offset=".344" stop-color="#262626"/><stop offset=".356" stop-color="#070707"/><stop offset=".456" stop-color="#060606"/><stop offset=".467" stop-color="#020202"/><stop offset=".733" stop-color="#000000"/><stop offset=".9" stop-color="#010101"/><stop offset=".933" stop-color="#060606"/><stop offset="1" stop-color="#1f1f1f"/></linearGradient>
<linearGradient id="gd35"><stop offset="0" stop-color="#090909"/><stop offset=".033" stop-color="#050505"/><stop offset=".044" stop-color="#050505"/><stop offset=".056" stop-color="#121212"/><stop offset=".067" stop-color="#161616"/><stop offset=".078" stop-color="#060606"/><stop offset=".1" stop-color="#060606"/><stop offset=".111" stop-color="#090909"/><stop offset=".122" stop-color="#242424"/><stop offset=".133" stop-color="#131313"/><stop offset=".144" stop-color="#080808"/><stop offset=".167" stop-color="#080808"/><stop offset=".178" stop-color="#1e1e1e"/><stop offset=".189" stop-color="#2a2a2a"/><stop offset=".222" stop-color="#2a2a2a"/><stop offset=".233" stop-color="#0f0f0f"/><stop offset=".256" stop-color="#0c0c0c"/><stop offset=".267" stop-color="#0c0c0c"/><stop offset=".278" stop-color="#222222"/><stop offset=".344" stop-color="#222222"/><stop offset=".356" stop-color="#050505"/><stop offset=".456" stop-color="#050505"/><stop offset=".467" stop-color="#010101"/><stop offset=".778" stop-color="#010101"/><stop offset=".889" stop-color="#010101"/><stop offset=".922" stop-color="#060606"/><stop offset="1" stop-color="#252525"/></linearGradient>
<linearGradient id="gd36"><stop offset="0" stop-color="#080808"/><stop offset=".044" stop-color="#050505"/><stop offset=".056" stop-color="#101010"/><stop offset=".067" stop-color="#151515"/><stop offset=".078" stop-color="#060606"/><stop offset=".111" stop-color="#080808"/><stop offset=".122" stop-color="#232323"/><stop offset=".133" stop-color="#121212"/><stop offset=".144" stop-color="#080808"/><stop offset=".167" stop-color="#080808"/><stop offset=".178" stop-color="#1c1c1c"/><stop offset=".189" stop-color="#2a2a2a"/><stop offset=".222" stop-color="#2a2a2a"/><stop offset=".233" stop-color="#0d0d0d"/><stop offset=".267" stop-color="#0b0b0b"/><stop offset=".278" stop-color="#1e1e1e"/><stop offset=".322" stop-color="#202020"/><stop offset=".344" stop-color="#1f1f1f"/><stop offset=".356" stop-color="#040404"/><stop offset=".456" stop-color="#030303"/><stop offset=".5" stop-color="#010101"/><stop offset=".767" stop-color="#000000"/><stop offset=".8" stop-color="#030303"/><stop offset=".833" stop-color="#000000"/><stop offset=".9" stop-color="#030303"/><stop offset=".933" stop-color="#0e0e0e"/><stop offset="1" stop-color="#2b2b2b"/></linearGradient>
<linearGradient id="gd37"><stop offset="0" stop-color="#080808"/><stop offset=".044" stop-color="#050505"/><stop offset=".056" stop-color="#0e0e0e"/><stop offset=".067" stop-color="#131313"/><stop offset=".078" stop-color="#050505"/><stop offset=".111" stop-color="#060606"/><stop offset=".122" stop-color="#212121"/><stop offset=".133" stop-color="#101010"/><stop offset=".144" stop-color="#080808"/><stop offset=".167" stop-color="#080808"/><stop offset=".178" stop-color="#1b1b1b"/><stop offset=".189" stop-color="#292929"/><stop offset=".222" stop-color="#292929"/><stop offset=".233" stop-color="#0c0c0c"/><stop offset=".267" stop-color="#0a0a0a"/><stop offset=".278" stop-color="#1a1a1a"/><stop offset=".3" stop-color="#1d1d1d"/><stop offset=".344" stop-color="#1c1c1c"/><stop offset=".356" stop-color="#030303"/><stop offset=".456" stop-color="#020202"/><stop offset=".5" stop-color="#000000"/><stop offset=".767" stop-color="#010101"/><stop offset=".8" stop-color="#040404"/><stop offset=".833" stop-color="#000000"/><stop offset=".889" stop-color="#020202"/><stop offset=".922" stop-color="#0c0c0c"/><stop offset=".978" stop-color="#282828"/><stop offset="1" stop-color="#313131"/></linearGradient>
<linearGradient id="gd38"><stop offset="0" stop-color="#070707"/><stop offset=".044" stop-color="#050505"/><stop offset=".056" stop-color="#0d0d0d"/><stop offset=".067" stop-color="#111111"/><stop offset=".078" stop-color="#050505"/><stop offset=".111" stop-color="#050505"/><stop offset=".122" stop-color="#1f1f1f"/><stop offset=".133" stop-color="#0e0e0e"/><stop offset=".144" stop-color="#080808"/><stop offset=".167" stop-color="#080808"/><stop offset=".189" stop-color="#272727"/><stop offset=".222" stop-color="#272727"/><stop offset=".233" stop-color="#0b0b0b"/><stop offset=".267" stop-color="#0a0a0a"/><stop offset=".278" stop-color="#181818"/><stop offset=".289" stop-color="#1b1b1b"/><stop offset=".344" stop-color="#161616"/><stop offset=".356" stop-color="#040404"/><stop offset=".411" stop-color="#040404"/><stop offset=".5" stop-color="#000000"/><stop offset=".756" stop-color="#010101"/><stop offset=".8" stop-color="#060606"/><stop offset=".833" stop-color="#030303"/><stop offset=".889" stop-color="#0a0a0a"/><stop offset=".922" stop-color="#171717"/><stop offset=".967" stop-color="#2f2f2f"/><stop offset="1" stop-color="#3b3b3b"/></linearGradient>
<linearGradient id="gd39"><stop offset="0" stop-color="#060606"/><stop offset=".044" stop-color="#050505"/><stop offset=".056" stop-color="#0c0c0c"/><stop offset=".067" stop-color="#0f0f0f"/><stop offset=".078" stop-color="#050505"/><stop offset=".111" stop-color="#050505"/><stop offset=".122" stop-color="#1d1d1d"/><stop offset=".133" stop-color="#0d0d0d"/><stop offset=".144" stop-color="#080808"/><stop offset=".167" stop-color="#080808"/><stop offset=".189" stop-color="#252525"/><stop offset=".222" stop-color="#252525"/><stop offset=".233" stop-color="#0b0b0b"/><stop offset=".267" stop-color="#0a0a0a"/><stop offset=".278" stop-color="#171717"/><stop offset=".289" stop-color="#191919"/><stop offset=".344" stop-color="#101010"/><stop offset=".356" stop-color="#050505"/><stop offset=".4" stop-color="#070707"/><stop offset=".5" stop-color="#000000"/><stop offset=".744" stop-color="#000000"/><stop offset=".789" stop-color="#080808"/><stop offset=".833" stop-color="#070707"/><stop offset=".889" stop-color="#161616"/><stop offset=".933" stop-color="#2d2d2d"/><stop offset=".956" stop-color="#393939"/><stop offset="1" stop-color="#464646"/></linearGradient>
<linearGradient id="gd40"><stop offset="0" stop-color="#050505"/><stop offset=".044" stop-color="#050505"/><stop offset=".067" stop-color="#0d0d0d"/><stop offset=".078" stop-color="#050505"/><stop offset=".111" stop-color="#050505"/><stop offset=".122" stop-color="#1b1b1b"/><stop offset=".133" stop-color="#0b0b0b"/><stop offset=".156" stop-color="#080808"/><stop offset=".167" stop-color="#080808"/><stop offset=".178" stop-color="#131313"/><stop offset=".189" stop-color="#222222"/><stop offset=".222" stop-color="#222222"/><stop offset=".233" stop-color="#0a0a0a"/><stop offset=".267" stop-color="#0a0a0a"/><stop offset=".278" stop-color="#151515"/><stop offset=".289" stop-color="#181818"/><stop offset=".333" stop-color="#0b0b0b"/><stop offset=".344" stop-color="#0b0b0b"/><stop offset=".356" stop-color="#070707"/><stop offset=".4" stop-color="#0a0a0a"/><stop offset=".444" stop-color="#040404"/><stop offset=".511" stop-color="#000000"/><stop offset=".744" stop-color="#010101"/><stop offset=".8" stop-color="#0b0b0b"/><stop offset=".822" stop-color="#090909"/><stop offset=".856" stop-color="#121212"/><stop offset=".9" stop-color="#272727"/><stop offset=".944" stop-color="#444444"/><stop offset=".978" stop-color="#505050"/><stop offset="1" stop-color="#515151"/></linearGradient>
<linearGradient id="gd41"><stop offset="0" stop-color="#050505"/><stop offset=".044" stop-color="#050505"/><stop offset=".067" stop-color="#0c0c0c"/><stop offset=".078" stop-color="#050505"/><stop offset=".111" stop-color="#050505"/><stop offset=".122" stop-color="#191919"/><stop offset=".133" stop-color="#0a0a0a"/><stop offset=".156" stop-color="#070707"/><stop offset=".167" stop-color="#070707"/><stop offset=".178" stop-color="#111111"/><stop offset=".189" stop-color="#212121"/><stop offset=".222" stop-color="#202020"/><stop offset=".233" stop-color="#0a0a0a"/><stop offset=".267" stop-color="#0a0a0a"/><stop offset=".278" stop-color="#131313"/><stop offset=".289" stop-color="#161616"/><stop offset=".333" stop-color="#080808"/><stop offset=".378" stop-color="#090909"/><stop offset=".4" stop-color="#0a0a0a"/><stop offset=".444" stop-color="#030303"/><stop offset=".533" stop-color="#000000"/><stop offset=".733" stop-color="#010101"/><stop offset=".8" stop-color="#0e0e0e"/><stop offset=".822" stop-color="#0c0c0c"/><stop offset=".856" stop-color="#181818"/><stop offset=".889" stop-color="#2a2a2a"/><stop offset=".944" stop-color="#4f4f4f"/><stop offset=".978" stop-color="#595959"/><stop offset="1" stop-color="#595959"/></linearGradient>
<linearGradient id="gd42"><stop offset="0" stop-color="#040404"/><stop offset=".044" stop-color="#040404"/><stop offset=".067" stop-color="#0c0c0c"/><stop offset=".078" stop-color="#050505"/><stop offset=".111" stop-color="#050505"/><stop offset=".122" stop-color="#191919"/><stop offset=".133" stop-color="#090909"/><stop offset=".167" stop-color="#070707"/><stop offset=".178" stop-color="#0f0f0f"/><stop offset=".189" stop-color="#1f1f1f"/><stop offset=".222" stop-color="#1f1f1f"/><stop offset=".233" stop-color="#080808"/><stop offset=".267" stop-color="#080808"/><stop offset=".278" stop-color="#111111"/><stop offset=".289" stop-color="#141414"/><stop offset=".333" stop-color="#070707"/><stop offset=".4" stop-color="#080808"/><stop offset=".444" stop-color="#030303"/><stop offset=".533" stop-color="#000000"/><stop offset=".7" stop-color="#010101"/><stop offset=".744" stop-color="#060606"/><stop offset=".8" stop-color="#111111"/><stop offset=".822" stop-color="#101010"/><stop offset=".856" stop-color="#1d1d1d"/><stop offset=".9" stop-color="#393939"/><stop offset=".933" stop-color="#4f4f4f"/><stop offset=".956" stop-color="#595959"/><stop offset=".989" stop-color="#5f5f5f"/><stop offset="1" stop-color="#5f5f5f"/></linearGradient>
<linearGradient id="gd43"><stop offset="0" stop-color="#040404"/><stop offset=".044" stop-color="#040404"/><stop offset=".067" stop-color="#0b0b0b"/><stop offset=".078" stop-color="#050505"/><stop offset=".111" stop-color="#050505"/><stop offset=".122" stop-color="#181818"/><stop offset=".133" stop-color="#080808"/><stop offset=".167" stop-color="#060606"/><stop offset=".178" stop-color="#0d0d0d"/><stop offset=".189" stop-color="#1e1e1e"/><stop offset=".222" stop-color="#1d1d1d"/><stop offset=".233" stop-color="#070707"/><stop offset=".267" stop-color="#070707"/><stop offset=".278" stop-color="#0f0f0f"/><stop offset=".289" stop-color="#131313"/><stop offset=".344" stop-color="#050505"/><stop offset=".411" stop-color="#050505"/><stop offset=".522" stop-color="#000000"/><stop offset=".689" stop-color="#000000"/><stop offset=".744" stop-color="#090909"/><stop offset=".789" stop-color="#131313"/><stop offset=".822" stop-color="#131313"/><stop offset=".867" stop-color="#2a2a2a"/><stop offset=".922" stop-color="#515151"/><stop offset=".967" stop-color="#626262"/><stop offset="1" stop-color="#646464"/></linearGradient>
<linearGradient id="gd44"><stop offset="0" stop-color="#030303"/><stop offset=".044" stop-color="#030303"/><stop offset=".067" stop-color="#0b0b0b"/><stop offset=".078" stop-color="#050505"/><stop offset=".111" stop-color="#050505"/><stop offset=".122" stop-color="#171717"/><stop offset=".133" stop-color="#080808"/><stop offset=".167" stop-color="#060606"/><stop offset=".178" stop-color="#0b0b0b"/><stop offset=".189" stop-color="#1d1d1d"/><stop offset=".222" stop-color="#1b1b1b"/><stop offset=".233" stop-color="#060606"/><stop offset=".267" stop-color="#060606"/><stop offset=".289" stop-color="#111111"/><stop offset=".344" stop-color="#050505"/><stop offset=".544" stop-color="#000000"/><stop offset=".689" stop-color="#000000"/><stop offset=".756" stop-color="#0f0f0f"/><stop offset=".8" stop-color="#171717"/><stop offset=".822" stop-color="#171717"/><stop offset=".856" stop-color="#282828"/><stop offset=".922" stop-color="#595959"/><stop offset=".956" stop-color="#656565"/><stop offset="1" stop-color="#6a6a6a"/></linearGradient>
<linearGradient id="gd45"><stop offset="0" stop-color="#030303"/><stop offset=".044" stop-color="#030303"/><stop offset=".067" stop-color="#0a0a0a"/><stop offset=".078" stop-color="#050505"/><stop offset=".111" stop-color="#050505"/><stop offset=".122" stop-color="#171717"/><stop offset=".133" stop-color="#070707"/><stop offset=".167" stop-color="#050505"/><stop offset=".178" stop-color="#0a0a0a"/><stop offset=".189" stop-color="#1c1c1c"/><stop offset=".211" stop-color="#1c1c1c"/><stop offset=".222" stop-color="#191919"/><stop offset=".233" stop-color="#050505"/><stop offset=".267" stop-color="#050505"/><stop offset=".289" stop-color="#101010"/><stop offset=".344" stop-color="#040404"/><stop offset=".522" stop-color="#000000"/><stop offset=".689" stop-color="#010101"/><stop offset=".744" stop-color="#0f0f0f"/><stop offset=".789" stop-color="#1a1a1a"/><stop offset=".822" stop-color="#1c1c1c"/><stop offset=".867" stop-color="#373737"/><stop offset=".922" stop-color="#606060"/><stop offset=".967" stop-color="#6d6d6d"/><stop offset="1" stop-color="#6f6f6f"/></linearGradient>
<linearGradient id="gd46"><stop offset="0" stop-color="#030303"/><stop offset=".044" stop-color="#030303"/><stop offset=".067" stop-color="#090909"/><stop offset=".078" stop-color="#040404"/><stop offset=".111" stop-color="#040404"/><stop offset=".122" stop-color="#161616"/><stop offset=".133" stop-color="#070707"/><stop offset=".167" stop-color="#050505"/><stop offset=".178" stop-color="#090909"/><stop offset=".189" stop-color="#1a1a1a"/><stop offset=".211" stop-color="#1a1a1a"/><stop offset=".222" stop-color="#171717"/><stop offset=".233" stop-color="#050505"/><stop offset=".267" stop-color="#050505"/><stop offset=".289" stop-color="#0e0e0e"/><stop offset=".344" stop-color="#040404"/><stop offset=".522" stop-color="#000000"/><stop offset=".656" stop-color="#010101"/><stop offset=".7" stop-color="#070707"/><stop offset=".767" stop-color="#1a1a1a"/><stop offset=".822" stop-color="#252525"/><stop offset=".867" stop-color="#404040"/><stop offset=".922" stop-color="#656565"/><stop offset=".967" stop-color="#717171"/><stop offset="1" stop-color="#737373"/></linearGradient>
<linearGradient id="gd47"><stop offset="0" stop-color="#030303"/><stop offset=".044" stop-color="#030303"/><stop offset=".067" stop-color="#080808"/><stop offset=".078" stop-color="#040404"/><stop offset=".111" stop-color="#040404"/><stop offset=".122" stop-color="#161616"/><stop offset=".133" stop-color="#070707"/><stop offset=".167" stop-color="#050505"/><stop offset=".178" stop-color="#070707"/><stop offset=".189" stop-color="#191919"/><stop offset=".211" stop-color="#191919"/><stop offset=".222" stop-color="#151515"/><stop offset=".233" stop-color="#050505"/><stop offset=".267" stop-color="#050505"/><stop offset=".289" stop-color="#0d0d0d"/><stop offset=".344" stop-color="#030303"/><stop offset=".611" stop-color="#000000"/><stop offset=".667" stop-color="#030303"/><stop offset=".711" stop-color="#0e0e0e"/><stop offset=".767" stop-color="#1e1e1e"/><stop offset=".789" stop-color="#212121"/><stop offset=".833" stop-color="#343434"/><stop offset=".922" stop-color="#6a6a6a"/><stop offset=".967" stop-color="#767676"/><stop offset="1" stop-color="#777777"/></linearGradient>
<linearGradient id="gd48"><stop offset="0" stop-color="#030303"/><stop offset=".044" stop-color="#030303"/><stop offset=".067" stop-color="#070707"/><stop offset=".078" stop-color="#030303"/><stop offset=".111" stop-color="#030303"/><stop offset=".122" stop-color="#151515"/><stop offset=".133" stop-color="#070707"/><stop offset=".167" stop-color="#050505"/><stop offset=".178" stop-color="#060606"/><stop offset=".189" stop-color="#181818"/><stop offset=".211" stop-color="#181818"/><stop offset=".222" stop-color="#131313"/><stop offset=".233" stop-color="#050505"/><stop offset=".267" stop-color="#050505"/><stop offset=".289" stop-color="#0b0b0b"/><stop offset=".333" stop-color="#030303"/><stop offset=".622" stop-color="#000000"/><stop offset=".667" stop-color="#050505"/><stop offset=".756" stop-color="#202020"/><stop offset=".789" stop-color="#252525"/><stop offset=".9" stop-color="#636363"/><stop offset=".933" stop-color="#727272"/><stop offset=".967" stop-color="#7b7b7b"/><stop offset="1" stop-color="#7c7c7c"/></linearGradient>
<linearGradient id="gd49"><stop offset="0" stop-color="#030303"/><stop offset=".044" stop-color="#030303"/><stop offset=".067" stop-color="#060606"/><stop offset=".089" stop-color="#030303"/><stop offset=".111" stop-color="#030303"/><stop offset=".122" stop-color="#141414"/><stop offset=".133" stop-color="#070707"/><stop offset=".178" stop-color="#050505"/><stop offset=".189" stop-color="#171717"/><stop offset=".211" stop-color="#171717"/><stop offset=".222" stop-color="#111111"/><stop offset=".233" stop-color="#050505"/><stop offset=".278" stop-color="#060606"/><stop offset=".289" stop-color="#090909"/><stop offset=".356" stop-color="#020202"/><stop offset=".633" stop-color="#000000"/><stop offset=".678" stop-color="#0a0a0a"/><stop offset=".756" stop-color="#242424"/><stop offset=".789" stop-color="#292929"/><stop offset=".878" stop-color="#606060"/><stop offset=".933" stop-color="#767676"/><stop offset=".978" stop-color="#808080"/><stop offset="1" stop-color="#808080"/></linearGradient>
<linearGradient id="gd50"><stop offset="0" stop-color="#030303"/><stop offset=".067" stop-color="#050505"/><stop offset=".111" stop-color="#030303"/><stop offset=".122" stop-color="#141414"/><stop offset=".133" stop-color="#070707"/><stop offset=".178" stop-color="#050505"/><stop offset=".189" stop-color="#161616"/><stop offset=".211" stop-color="#161616"/><stop offset=".222" stop-color="#0f0f0f"/><stop offset=".233" stop-color="#040404"/><stop offset=".278" stop-color="#050505"/><stop offset=".289" stop-color="#080808"/><stop offset=".356" stop-color="#020202"/><stop offset=".578" stop-color="#000000"/><stop offset=".633" stop-color="#020202"/><stop offset=".678" stop-color="#0e0e0e"/><stop offset=".756" stop-color="#292929"/><stop offset=".789" stop-color="#2f2f2f"/><stop offset=".878" stop-color="#666666"/><stop offset=".933" stop-color="#7c7c7c"/><stop offset=".967" stop-color="#848484"/><stop offset="1" stop-color="#848484"/></linearGradient>
<linearGradient id="gd51"><stop offset="0" stop-color="#030303"/><stop offset=".111" stop-color="#030303"/><stop offset=".122" stop-color="#131313"/><stop offset=".133" stop-color="#070707"/><stop offset=".178" stop-color="#050505"/><stop offset=".189" stop-color="#141414"/><stop offset=".211" stop-color="#141414"/><stop offset=".222" stop-color="#0e0e0e"/><stop offset=".233" stop-color="#040404"/><stop offset=".278" stop-color="#040404"/><stop offset=".3" stop-color="#050505"/><stop offset=".389" stop-color="#020202"/><stop offset=".567" stop-color="#000000"/><stop offset=".6" stop-color="#040404"/><stop offset=".633" stop-color="#040404"/><stop offset=".667" stop-color="#0d0d0d"/><stop offset=".733" stop-color="#282828"/><stop offset=".756" stop-color="#2f2f2f"/><stop offset=".789" stop-color="#353535"/><stop offset=".878" stop-color="#6c6c6c"/><stop offset=".933" stop-color="#828282"/><stop offset=".978" stop-color="#888888"/><stop offset="1" stop-color="#888888"/></linearGradient>
<linearGradient id="gd52"><stop offset="0" stop-color="#030303"/><stop offset=".111" stop-color="#030303"/><stop offset=".122" stop-color="#131313"/><stop offset=".133" stop-color="#070707"/><stop offset=".178" stop-color="#050505"/><stop offset=".189" stop-color="#131313"/><stop offset=".211" stop-color="#131313"/><stop offset=".233" stop-color="#030303"/><stop offset=".333" stop-color="#030303"/><stop offset=".567" stop-color="#000000"/><stop offset=".611" stop-color="#050505"/><stop offset=".633" stop-color="#050505"/><stop offset=".667" stop-color="#101010"/><stop offset=".722" stop-color="#292929"/><stop offset=".767" stop-color="#363636"/><stop offset=".789" stop-color="#3b3b3b"/><stop offset=".878" stop-color="#727272"/><stop offset=".922" stop-color="#858585"/><stop offset=".967" stop-color="#8d8d8d"/><stop offset="1" stop-color="#8d8d8d"/></linearGradient>
<linearGradient id="gd53"><stop offset="0" stop-color="#030303"/><stop offset=".111" stop-color="#030303"/><stop offset=".122" stop-color="#121212"/><stop offset=".133" stop-color="#060606"/><stop offset=".178" stop-color="#050505"/><stop offset=".189" stop-color="#121212"/><stop offset=".211" stop-color="#121212"/><stop offset=".233" stop-color="#030303"/><stop offset=".567" stop-color="#000000"/><stop offset=".6" stop-color="#070707"/><stop offset=".622" stop-color="#050505"/><stop offset=".656" stop-color="#0f0f0f"/><stop offset=".733" stop-color="#333333"/><stop offset=".789" stop-color="#414141"/><stop offset=".878" stop-color="#777777"/><stop offset=".922" stop-color="#8b8b8b"/><stop offset=".967" stop-color="#919191"/><stop offset="1" stop-color="#919191"/></linearGradient>
<linearGradient id="gd54"><stop offset="0" stop-color="#030303"/><stop offset=".111" stop-color="#030303"/><stop offset=".122" stop-color="#111111"/><stop offset=".133" stop-color="#060606"/><stop offset=".178" stop-color="#050505"/><stop offset=".189" stop-color="#101010"/><stop offset=".211" stop-color="#101010"/><stop offset=".233" stop-color="#030303"/><stop offset=".544" stop-color="#000000"/><stop offset=".578" stop-color="#030303"/><stop offset=".6" stop-color="#080808"/><stop offset=".633" stop-color="#0a0a0a"/><stop offset=".678" stop-color="#1d1d1d"/><stop offset=".722" stop-color="#343434"/><stop offset=".756" stop-color="#3e3e3e"/><stop offset=".778" stop-color="#424242"/><stop offset=".8" stop-color="#4d4d4d"/><stop offset=".889" stop-color="#818181"/><stop offset=".922" stop-color="#8f8f8f"/><stop offset=".967" stop-color="#959595"/><stop offset="1" stop-color="#959595"/></linearGradient>
<linearGradient id="gd55"><stop offset="0" stop-color="#030303"/><stop offset=".111" stop-color="#030303"/><stop offset=".122" stop-color="#111111"/><stop offset=".133" stop-color="#050505"/><stop offset=".178" stop-color="#040404"/><stop offset=".189" stop-color="#0e0e0e"/><stop offset=".211" stop-color="#0e0e0e"/><stop offset=".233" stop-color="#030303"/><stop offset=".533" stop-color="#000000"/><stop offset=".622" stop-color="#0a0a0a"/><stop offset=".656" stop-color="#151515"/><stop offset=".722" stop-color="#393939"/><stop offset=".744" stop-color="#414141"/><stop offset=".767" stop-color="#434343"/><stop offset=".8" stop-color="#525252"/><stop offset=".878" stop-color="#808080"/><stop offset=".922" stop-color="#929292"/><stop offset=".944" stop-color="#979797"/><stop offset="1" stop-color="#989898"/></linearGradient>
<linearGradient id="gd56"><stop offset="0" stop-color="#030303"/><stop offset=".111" stop-color="#030303"/><stop offset=".122" stop-color="#101010"/><stop offset=".133" stop-color="#050505"/><stop offset=".178" stop-color="#030303"/><stop offset=".189" stop-color="#0c0c0c"/><stop offset=".211" stop-color="#0d0d0d"/><stop offset=".233" stop-color="#030303"/><stop offset=".533" stop-color="#000000"/><stop offset=".633" stop-color="#101010"/><stop offset=".678" stop-color="#252525"/><stop offset=".711" stop-color="#3a3a3a"/><stop offset=".744" stop-color="#464646"/><stop offset=".767" stop-color="#474747"/><stop offset=".789" stop-color="#515151"/><stop offset=".867" stop-color="#7f7f7f"/><stop offset=".922" stop-color="#969696"/><stop offset=".956" stop-color="#9b9b9b"/><stop offset="1" stop-color="#9c9c9c"/></linearGradient>
<linearGradient id="gd57"><stop offset="0" stop-color="#030303"/><stop offset=".111" stop-color="#030303"/><stop offset=".122" stop-color="#0f0f0f"/><stop offset=".133" stop-color="#040404"/><stop offset=".178" stop-color="#030303"/><stop offset=".189" stop-color="#0a0a0a"/><stop offset=".211" stop-color="#0b0b0b"/><stop offset=".222" stop-color="#050505"/><stop offset=".267" stop-color="#030303"/><stop offset=".4" stop-color="#000000"/><stop offset=".533" stop-color="#000000"/><stop offset=".611" stop-color="#0c0c0c"/><stop offset=".656" stop-color="#1c1c1c"/><stop offset=".711" stop-color="#3f3f3f"/><stop offset=".744" stop-color="#4b4b4b"/><stop offset=".767" stop-color="#4b4b4b"/><stop offset=".789" stop-color="#565656"/><stop offset=".856" stop-color="#7e7e7e"/><stop offset=".9" stop-color="#939393"/><stop offset=".933" stop-color="#9d9d9d"/><stop offset="1" stop-color="#a0a0a0"/></linearGradient>
<linearGradient id="gd58"><stop offset="0" stop-color="#030303"/><stop offset=".111" stop-color="#030303"/><stop offset=".122" stop-color="#0f0f0f"/><stop offset=".133" stop-color="#040404"/><stop offset=".178" stop-color="#030303"/><stop offset=".189" stop-color="#080808"/><stop offset=".211" stop-color="#090909"/><stop offset=".233" stop-color="#030303"/><stop offset=".433" stop-color="#000000"/><stop offset=".533" stop-color="#010101"/><stop offset=".611" stop-color="#101010"/><stop offset=".656" stop-color="#222222"/><stop offset=".711" stop-color="#444444"/><stop offset=".744" stop-color="#505050"/><stop offset=".767" stop-color="#515151"/><stop offset=".789" stop-color="#5c5c5c"/><stop offset=".856" stop-color="#838383"/><stop offset=".911" stop-color="#9a9a9a"/><stop offset=".944" stop-color="#a2a2a2"/><stop offset="1" stop-color="#a3a3a3"/></linearGradient>
<linearGradient id="gd59"><stop offset="0" stop-color="#030303"/><stop offset=".111" stop-color="#030303"/><stop offset=".122" stop-color="#0e0e0e"/><stop offset=".133" stop-color="#040404"/><stop offset=".178" stop-color="#030303"/><stop offset=".2" stop-color="#070707"/><stop offset=".244" stop-color="#030303"/><stop offset=".4" stop-color="#000000"/><stop offset=".511" stop-color="#010101"/><stop offset=".556" stop-color="#080808"/><stop offset=".611" stop-color="#141414"/><stop offset=".656" stop-color="#282828"/><stop offset=".711" stop-color="#484848"/><stop offset=".744" stop-color="#545454"/><stop offset=".767" stop-color="#565656"/><stop offset=".878" stop-color="#939393"/><stop offset=".933" stop-color="#a3a3a3"/><stop offset="1" stop-color="#a6a6a6"/></linearGradient>
<linearGradient id="gd60"><stop offset="0" stop-color="#030303"/><stop offset=".111" stop-color="#030303"/><stop offset=".122" stop-color="#0e0e0e"/><stop offset=".133" stop-color="#040404"/><stop offset=".178" stop-color="#030303"/><stop offset=".211" stop-color="#050505"/><stop offset=".256" stop-color="#030303"/><stop offset=".367" stop-color="#000000"/><stop offset=".5" stop-color="#000000"/><stop offset=".556" stop-color="#0a0a0a"/><stop offset=".611" stop-color="#181818"/><stop offset=".667" stop-color="#353535"/><stop offset=".711" stop-color="#4d4d4d"/><stop offset=".756" stop-color="#5a5a5a"/><stop offset=".778" stop-color="#616161"/><stop offset=".878" stop-color="#989898"/><stop offset=".956" stop-color="#a9a9a9"/><stop offset="1" stop-color="#a9a9a9"/></linearGradient>
<linearGradient id="gd61"><stop offset="0" stop-color="#030303"/><stop offset=".111" stop-color="#030303"/><stop offset=".122" stop-color="#0d0d0d"/><stop offset=".133" stop-color="#040404"/><stop offset=".278" stop-color="#030303"/><stop offset=".3" stop-color="#000000"/><stop offset=".5" stop-color="#000000"/><stop offset=".567" stop-color="#0f0f0f"/><stop offset=".611" stop-color="#1c1c1c"/><stop offset=".656" stop-color="#343434"/><stop offset=".678" stop-color="#434343"/><stop offset=".722" stop-color="#565656"/><stop offset=".767" stop-color="#626262"/><stop offset=".878" stop-color="#9d9d9d"/><stop offset=".956" stop-color="#acacac"/><stop offset="1" stop-color="#acacac"/></linearGradient>
<linearGradient id="gd62"><stop offset="0" stop-color="#030303"/><stop offset=".111" stop-color="#030303"/><stop offset=".122" stop-color="#0c0c0c"/><stop offset=".133" stop-color="#040404"/><stop offset=".278" stop-color="#020202"/><stop offset=".322" stop-color="#000000"/><stop offset=".5" stop-color="#020202"/><stop offset=".556" stop-color="#0f0f0f"/><stop offset=".611" stop-color="#212121"/><stop offset=".689" stop-color="#4d4d4d"/><stop offset=".756" stop-color="#646464"/><stop offset=".778" stop-color="#6c6c6c"/><stop offset=".878" stop-color="#a1a1a1"/><stop offset=".956" stop-color="#b0b0b0"/><stop offset="1" stop-color="#afafaf"/></linearGradient>
<linearGradient id="gd63"><stop offset="0" stop-color="#030303"/><stop offset=".111" stop-color="#030303"/><stop offset=".122" stop-color="#0b0b0b"/><stop offset=".133" stop-color="#030303"/><stop offset=".278" stop-color="#020202"/><stop offset=".322" stop-color="#000000"/><stop offset=".411" stop-color="#010101"/><stop offset=".456" stop-color="#040404"/><stop offset=".5" stop-color="#040404"/><stop offset=".556" stop-color="#111111"/><stop offset=".611" stop-color="#262626"/><stop offset=".689" stop-color="#505050"/><stop offset=".778" stop-color="#707070"/><stop offset=".878" stop-color="#a3a3a3"/><stop offset=".956" stop-color="#b4b4b4"/><stop offset="1" stop-color="#b3b3b3"/></linearGradient>
<linearGradient id="gd64"><stop offset="0" stop-color="#030303"/><stop offset=".111" stop-color="#030303"/><stop offset=".122" stop-color="#0a0a0a"/><stop offset=".133" stop-color="#030303"/><stop offset=".211" stop-color="#030303"/><stop offset=".256" stop-color="#010101"/><stop offset=".4" stop-color="#000000"/><stop offset=".456" stop-color="#070707"/><stop offset=".478" stop-color="#050505"/><stop offset=".511" stop-color="#080808"/><stop offset=".567" stop-color="#171717"/><stop offset=".633" stop-color="#373737"/><stop offset=".7" stop-color="#595959"/><stop offset=".767" stop-color="#707070"/><stop offset=".878" stop-color="#a6a6a6"/><stop offset=".956" stop-color="#b8b8b8"/><stop offset="1" stop-color="#b7b7b7"/></linearGradient>
<linearGradient id="gd65"><stop offset="0" stop-color="#030303"/><stop offset=".111" stop-color="#030303"/><stop offset=".122" stop-color="#080808"/><stop offset=".133" stop-color="#030303"/><stop offset=".211" stop-color="#030303"/><stop offset=".233" stop-color="#000000"/><stop offset=".4" stop-color="#010101"/><stop offset=".444" stop-color="#090909"/><stop offset=".489" stop-color="#080808"/><stop offset=".522" stop-color="#0d0d0d"/><stop offset=".578" stop-color="#1f1f1f"/><stop offset=".689" stop-color="#575757"/><stop offset=".756" stop-color="#6f6f6f"/><stop offset=".867" stop-color="#a4a4a4"/><stop offset=".911" stop-color="#b3b3b3"/><stop offset=".956" stop-color="#bcbcbc"/><stop offset="1" stop-color="#bababa"/></linearGradient>
<linearGradient id="gd66"><stop offset="0" stop-color="#030303"/><stop offset=".111" stop-color="#020202"/><stop offset=".122" stop-color="#070707"/><stop offset=".144" stop-color="#020202"/><stop offset=".211" stop-color="#020202"/><stop offset=".256" stop-color="#000000"/><stop offset=".4" stop-color="#010101"/><stop offset=".456" stop-color="#0d0d0d"/><stop offset=".478" stop-color="#0a0a0a"/><stop offset=".522" stop-color="#0f0f0f"/><stop offset=".578" stop-color="#232323"/><stop offset=".678" stop-color="#565656"/><stop offset=".722" stop-color="#676767"/><stop offset=".767" stop-color="#787878"/><stop offset=".878" stop-color="#ababab"/><stop offset=".922" stop-color="#b9b9b9"/><stop offset=".956" stop-color="#c0c0c0"/><stop offset="1" stop-color="#bdbdbd"/></linearGradient>
<linearGradient id="gd67"><stop offset="0" stop-color="#030303"/><stop offset=".111" stop-color="#020202"/><stop offset=".122" stop-color="#060606"/><stop offset=".144" stop-color="#020202"/><stop offset=".211" stop-color="#020202"/><stop offset=".256" stop-color="#000000"/><stop offset=".389" stop-color="#010101"/><stop offset=".433" stop-color="#0c0c0c"/><stop offset=".444" stop-color="#111111"/><stop offset=".467" stop-color="#0e0e0e"/><stop offset=".522" stop-color="#121212"/><stop offset=".578" stop-color="#272727"/><stop offset=".667" stop-color="#565656"/><stop offset=".733" stop-color="#6f6f6f"/><stop offset=".822" stop-color="#949494"/><stop offset=".889" stop-color="#b3b3b3"/><stop offset=".956" stop-color="#c3c3c3"/><stop offset="1" stop-color="#c0c0c0"/></linearGradient>
<linearGradient id="gd68"><stop offset="0" stop-color="#030303"/><stop offset=".111" stop-color="#020202"/><stop offset=".122" stop-color="#040404"/><stop offset=".167" stop-color="#020202"/><stop offset=".367" stop-color="#000000"/><stop offset=".4" stop-color="#040404"/><stop offset=".433" stop-color="#0f0f0f"/><stop offset=".444" stop-color="#151515"/><stop offset=".511" stop-color="#131313"/><stop offset=".533" stop-color="#181818"/><stop offset=".6" stop-color="#383838"/><stop offset=".656" stop-color="#565656"/><stop offset=".811" stop-color="#929292"/><stop offset=".9" stop-color="#bababa"/><stop offset=".956" stop-color="#c6c6c6"/><stop offset="1" stop-color="#c2c2c2"/></linearGradient>
<linearGradient id="gd69"><stop offset="0" stop-color="#030303"/><stop offset=".367" stop-color="#000000"/><stop offset=".4" stop-color="#060606"/><stop offset=".444" stop-color="#191919"/><stop offset=".5" stop-color="#161616"/><stop offset=".511" stop-color="#151515"/><stop offset=".533" stop-color="#1b1b1b"/><stop offset=".656" stop-color="#5b5b5b"/><stop offset=".811" stop-color="#949494"/><stop offset=".9" stop-color="#bebebe"/><stop offset=".956" stop-color="#c9c9c9"/><stop offset="1" stop-color="#c5c5c5"/></linearGradient>
<linearGradient id="gd70"><stop offset="0" stop-color="#030303"/><stop offset=".367" stop-color="#000000"/><stop offset=".4" stop-color="#070707"/><stop offset=".444" stop-color="#1c1c1c"/><stop offset=".489" stop-color="#1c1c1c"/><stop offset=".511" stop-color="#191919"/><stop offset=".533" stop-color="#1f1f1f"/><stop offset=".667" stop-color="#646464"/><stop offset=".756" stop-color="#848484"/><stop offset=".8" stop-color="#929292"/><stop offset=".844" stop-color="#a6a6a6"/><stop offset=".889" stop-color="#bebebe"/><stop offset=".956" stop-color="#cccccc"/><stop offset="1" stop-color="#c7c7c7"/></linearGradient>
<linearGradient id="gd71"><stop offset="0" stop-color="#030303"/><stop offset=".367" stop-color="#010101"/><stop offset=".4" stop-color="#090909"/><stop offset=".444" stop-color="#1f1f1f"/><stop offset=".478" stop-color="#212121"/><stop offset=".511" stop-color="#1d1d1d"/><stop offset=".533" stop-color="#232323"/><stop offset=".633" stop-color="#595959"/><stop offset=".678" stop-color="#6c6c6c"/><stop offset=".767" stop-color="#8a8a8a"/><stop offset=".811" stop-color="#999999"/><stop offset=".856" stop-color="#b0b0b0"/><stop offset=".9" stop-color="#c5c5c5"/><stop offset=".956" stop-color="#cfcfcf"/><stop offset="1" stop-color="#c8c8c8"/></linearGradient>
<linearGradient id="gd72"><stop offset="0" stop-color="#030303"/><stop offset=".367" stop-color="#020202"/><stop offset=".4" stop-color="#0b0b0b"/><stop offset=".444" stop-color="#212121"/><stop offset=".467" stop-color="#242424"/><stop offset=".489" stop-color="#252525"/><stop offset=".511" stop-color="#212121"/><stop offset=".533" stop-color="#282828"/><stop offset=".622" stop-color="#595959"/><stop offset=".667" stop-color="#6d6d6d"/><stop offset=".767" stop-color="#8c8c8c"/><stop offset=".822" stop-color="#a0a0a0"/><stop offset=".889" stop-color="#c4c4c4"/><stop offset=".922" stop-color="#cfcfcf"/><stop offset=".967" stop-color="#d1d1d1"/><stop offset="1" stop-color="#c9c9c9"/></linearGradient>
<linearGradient id="gd73"><stop offset="0" stop-color="#030303"/><stop offset=".367" stop-color="#020202"/><stop offset=".4" stop-color="#0d0d0d"/><stop offset=".444" stop-color="#242424"/><stop offset=".478" stop-color="#2a2a2a"/><stop offset=".511" stop-color="#252525"/><stop offset=".533" stop-color="#2d2d2d"/><stop offset=".622" stop-color="#5e5e5e"/><stop offset=".689" stop-color="#797979"/><stop offset=".811" stop-color="#9d9d9d"/><stop offset=".878" stop-color="#c2c2c2"/><stop offset=".922" stop-color="#d3d3d3"/><stop offset=".967" stop-color="#d4d4d4"/><stop offset="1" stop-color="#cbcbcb"/></linearGradient>
<linearGradient id="gd74"><stop offset="0" stop-color="#030303"/><stop offset=".367" stop-color="#030303"/><stop offset=".4" stop-color="#0f0f0f"/><stop offset=".444" stop-color="#262626"/><stop offset=".467" stop-color="#2d2d2d"/><stop offset=".478" stop-color="#2f2f2f"/><stop offset=".511" stop-color="#292929"/><stop offset=".544" stop-color="#383838"/><stop offset=".611" stop-color="#5f5f5f"/><stop offset=".667" stop-color="#767676"/><stop offset=".811" stop-color="#9f9f9f"/><stop offset=".867" stop-color="#c1c1c1"/><stop offset=".922" stop-color="#d8d8d8"/><stop offset=".967" stop-color="#d7d7d7"/><stop offset="1" stop-color="#cccccc"/></linearGradient>
<linearGradient id="gd75"><stop offset="0" stop-color="#030303"/><stop offset=".356" stop-color="#040404"/><stop offset=".367" stop-color="#050505"/><stop offset=".411" stop-color="#191919"/><stop offset=".456" stop-color="#2f2f2f"/><stop offset=".478" stop-color="#333333"/><stop offset=".511" stop-color="#2f2f2f"/><stop offset=".533" stop-color="#383838"/><stop offset=".611" stop-color="#646464"/><stop offset=".678" stop-color="#808080"/><stop offset=".767" stop-color="#929292"/><stop offset=".811" stop-color="#a1a1a1"/><stop offset=".867" stop-color="#c4c4c4"/><stop offset=".922" stop-color="#dadada"/><stop offset=".956" stop-color="#dadada"/><stop offset="1" stop-color="#cccccc"/></linearGradient>
<linearGradient id="gd76"><stop offset="0" stop-color="#030303"/><stop offset=".3" stop-color="#040404"/><stop offset=".356" stop-color="#060606"/><stop offset=".378" stop-color="#0d0d0d"/><stop offset=".456" stop-color="#333333"/><stop offset=".478" stop-color="#383838"/><stop offset=".511" stop-color="#343434"/><stop offset=".544" stop-color="#444444"/><stop offset=".589" stop-color="#5d5d5d"/><stop offset=".656" stop-color="#7d7d7d"/><stop offset=".689" stop-color="#8a8a8a"/><stop offset=".767" stop-color="#939393"/><stop offset=".811" stop-color="#a4a4a4"/><stop offset=".867" stop-color="#c7c7c7"/><stop offset=".911" stop-color="#d8d8d8"/><stop offset=".922" stop-color="#dcdcdc"/><stop offset=".967" stop-color="#d8d8d8"/><stop offset="1" stop-color="#cccccc"/></linearGradient>
<linearGradient id="gd77"><stop offset="0" stop-color="#030303"/><stop offset=".3" stop-color="#040404"/><stop offset=".322" stop-color="#080808"/><stop offset=".344" stop-color="#060606"/><stop offset=".367" stop-color="#0a0a0a"/><stop offset=".456" stop-color="#373737"/><stop offset=".478" stop-color="#3d3d3d"/><stop offset=".5" stop-color="#393939"/><stop offset=".522" stop-color="#3e3e3e"/><stop offset=".589" stop-color="#636363"/><stop offset=".689" stop-color="#919191"/><stop offset=".767" stop-color="#949494"/><stop offset=".8" stop-color="#a0a0a0"/><stop offset=".856" stop-color="#c4c4c4"/><stop offset=".889" stop-color="#d5d5d5"/><stop offset=".933" stop-color="#dedede"/><stop offset=".967" stop-color="#d8d8d8"/><stop offset="1" stop-color="#cccccc"/></linearGradient>
<linearGradient id="gd78"><stop offset="0" stop-color="#030303"/><stop offset=".289" stop-color="#030303"/><stop offset=".322" stop-color="#090909"/><stop offset=".344" stop-color="#080808"/><stop offset=".367" stop-color="#0d0d0d"/><stop offset=".456" stop-color="#3c3c3c"/><stop offset=".478" stop-color="#414141"/><stop offset=".5" stop-color="#3e3e3e"/><stop offset=".511" stop-color="#3f3f3f"/><stop offset=".578" stop-color="#636363"/><stop offset=".689" stop-color="#979797"/><stop offset=".733" stop-color="#979797"/><stop offset=".767" stop-color="#959595"/><stop offset=".8" stop-color="#a2a2a2"/><stop offset=".844" stop-color="#c1c1c1"/><stop offset=".889" stop-color="#d8d8d8"/><stop offset=".922" stop-color="#dfdfdf"/><stop offset=".956" stop-color="#dcdcdc"/><stop offset="1" stop-color="#cccccc"/></linearGradient>
<linearGradient id="gd79"><stop offset="0" stop-color="#030303"/><stop offset=".289" stop-color="#030303"/><stop offset=".322" stop-color="#0b0b0b"/><stop offset=".344" stop-color="#090909"/><stop offset=".367" stop-color="#101010"/><stop offset=".456" stop-color="#3f3f3f"/><stop offset=".478" stop-color="#454545"/><stop offset=".511" stop-color="#444444"/><stop offset=".589" stop-color="#6c6c6c"/><stop offset=".678" stop-color="#979797"/><stop offset=".7" stop-color="#9b9b9b"/><stop offset=".756" stop-color="#959595"/><stop offset=".778" stop-color="#9a9a9a"/><stop offset=".8" stop-color="#a3a3a3"/><stop offset=".844" stop-color="#c3c3c3"/><stop offset=".889" stop-color="#dadada"/><stop offset=".922" stop-color="#e0e0e0"/><stop offset=".956" stop-color="#dcdcdc"/><stop offset="1" stop-color="#cccccc"/></linearGradient>
<linearGradient id="gd80"><stop offset="0" stop-color="#030303"/><stop offset=".289" stop-color="#040404"/><stop offset=".322" stop-color="#0b0b0b"/><stop offset=".344" stop-color="#0b0b0b"/><stop offset=".367" stop-color="#121212"/><stop offset=".456" stop-color="#424242"/><stop offset=".478" stop-color="#484848"/><stop offset=".5" stop-color="#474747"/><stop offset=".522" stop-color="#4e4e4e"/><stop offset=".667" stop-color="#969696"/><stop offset=".689" stop-color="#9c9c9c"/><stop offset=".711" stop-color="#9d9d9d"/><stop offset=".744" stop-color="#969696"/><stop offset=".767" stop-color="#979797"/><stop offset=".8" stop-color="#a3a3a3"/><stop offset=".844" stop-color="#c5c5c5"/><stop offset=".878" stop-color="#d8d8d8"/><stop offset=".911" stop-color="#e0e0e0"/><stop offset=".933" stop-color="#e0e0e0"/><stop offset=".978" stop-color="#d4d4d4"/><stop offset="1" stop-color="#cccccc"/></linearGradient>
<linearGradient id="gd81"><stop offset="0" stop-color="#030303"/><stop offset=".278" stop-color="#030303"/><stop offset=".322" stop-color="#0c0c0c"/><stop offset=".344" stop-color="#0c0c0c"/><stop offset=".367" stop-color="#151515"/><stop offset=".456" stop-color="#454545"/><stop offset=".489" stop-color="#4c4c4c"/><stop offset=".511" stop-color="#4d4d4d"/><stop offset=".667" stop-color="#9a9a9a"/><stop offset=".7" stop-color="#9f9f9f"/><stop offset=".722" stop-color="#9c9c9c"/><stop offset=".744" stop-color="#959595"/><stop offset=".789" stop-color="#9f9f9f"/><stop offset=".8" stop-color="#a3a3a3"/><stop offset=".833" stop-color="#bfbfbf"/><stop offset=".878" stop-color="#dadada"/><stop offset=".911" stop-color="#e1e1e1"/><stop offset=".956" stop-color="#dbdbdb"/><stop offset="1" stop-color="#cccccc"/></linearGradient>
</defs>
<rect width="685" height="488" fill="#fff"/>
<g clip-path="url(#ca)"><g filter="url(#fa)">
<rect x="68" y="50" width="236.5" height="180" fill="#000"/>
<rect x="68" y="50" width="9" height="16.8" fill="#1a1a1a"/>
<rect x="295.5" y="50" width="9" height="16.8" fill="#8a8a8a"/>
<rect x="76" y="50" width="220.5" height="16.8" fill="url(#ga0)"/>
<rect x="68" y="65.5" width="9" height="4.2" fill="#1a1a1a"/>
<rect x="295.5" y="65.5" width="9" height="4.2" fill="#808080"/>
<rect x="76" y="65.5" width="220.5" height="4.2" fill="url(#ga1)"/>
<rect x="68" y="68.4" width="9" height="7.7" fill="#1a1a1a"/>
<rect x="295.5" y="68.4" width="9" height="7.7" fill="#666666"/>
<rect x="76" y="68.4" width="220.5" height="7.7" fill="url(#ga2)"/>
<rect x="68" y="74.8" width="9" height="8" fill="#171717"/>
<rect x="295.5" y="74.8" width="9" height="8" fill="#121212"/>
<rect x="76" y="74.8" width="220.5" height="8" fill="url(#ga3)"/>
<rect x="68" y="81.5" width="9" height="5.5" fill="#141414"/>
<rect x="295.5" y="81.5" width="9" height="5.5" fill="#666666"/>
<rect x="76" y="81.5" width="220.5" height="5.5" fill="url(#ga4)"/>
<rect x="68" y="85.7" width="9" height="3.8" fill="#141414"/>
<rect x="295.5" y="85.7" width="9" height="3.8" fill="#141414"/>
<rect x="76" y="85.7" width="220.5" height="3.8" fill="url(#ga5)"/>
<rect x="68" y="88.2" width="9" height="7.2" fill="#121212"/>
<rect x="295.5" y="88.2" width="9" height="7.2" fill="#0d0d0d"/>
<rect x="76" y="88.2" width="220.5" height="7.2" fill="url(#ga6)"/>
<rect x="68" y="94.1" width="9" height="4.7" fill="#0f0f0f"/>
<rect x="295.5" y="94.1" width="9" height="4.7" fill="#1f1f1f"/>
<rect x="76" y="94.1" width="220.5" height="4.7" fill="url(#ga7)"/>
<rect x="68" y="97.5" width="9" height="4.6" fill="#0f0f0f"/>
<rect x="295.5" y="97.5" width="9" height="4.6" fill="#525252"/>
<rect x="76" y="97.5" width="220.5" height="4.6" fill="url(#ga8)"/>
<rect x="68" y="100.8" width="9" height="7.2" fill="#0f0f0f"/>
<rect x="295.5" y="100.8" width="9" height="7.2" fill="#0a0a0a"/>
<rect x="76" y="100.8" width="220.5" height="7.2" fill="url(#ga9)"/>
<rect x="68" y="106.7" width="9" height="8.9" fill="#0f0f0f"/>
<rect x="295.5" y="106.7" width="9" height="8.9" fill="#0d0d0d"/>
<rect x="76" y="106.7" width="220.5" height="8.9" fill="url(#ga10)"/>
<rect x="68" y="114.3" width="9" height="7.1" fill="#0d0d0d"/>
<rect x="295.5" y="114.3" width="9" height="7.1" fill="#0a0a0a"/>
<rect x="76" y="114.3" width="220.5" height="7.1" fill="url(#ga11)"/>
<rect x="68" y="120.1" width="9" height="3.9" fill="#0d0d0d"/>
<rect x="295.5" y="120.1" width="9" height="3.9" fill="#0d0d0d"/>
<rect x="76" y="120.1" width="220.5" height="3.9" fill="url(#ga12)"/>
<rect x="68" y="122.7" width="9" height="6.3" fill="#0d0d0d"/>
<rect x="295.5" y="122.7" width="9" height="6.3" fill="#0a0a0a"/>
<rect x="76" y="122.7" width="220.5" height="6.3" fill="url(#ga13)"/>
<rect x="68" y="127.7" width="9" height="5.5" fill="#0d0d0d"/>
<rect x="295.5" y="127.7" width="9" height="5.5" fill="#2e2e2e"/>
<rect x="76" y="127.7" width="220.5" height="5.5" fill="url(#ga14)"/>
<rect x="68" y="131.9" width="9" height="6.3" fill="#0d0d0d"/>
<rect x="295.5" y="131.9" width="9" height="6.3" fill="#454545"/>
<rect x="76" y="131.9" width="220.5" height="6.3" fill="url(#ga15)"/>
<rect x="68" y="136.9" width="9" height="4.4" fill="#0a0a0a"/>
<rect x="295.5" y="136.9" width="9" height="4.4" fill="#454545"/>
<rect x="76" y="136.9" width="220.5" height="4.4" fill="url(#ga16)"/>
<rect x="68" y="140" width="9" height="4.7" fill="#0a0a0a"/>
<rect x="295.5" y="140" width="9" height="4.7" fill="#525252"/>
<rect x="76" y="140" width="220.5" height="4.7" fill="url(#ga17)"/>
<rect x="68" y="143.4" width="9" height="3.8" fill="#0a0a0a"/>
<rect x="295.5" y="143.4" width="9" height="3.8" fill="#383838"/>
<rect x="76" y="143.4" width="220.5" height="3.8" fill="url(#ga18)"/>
<rect x="68" y="145.9" width="9" height="3.8" fill="#0a0a0a"/>
<rect x="295.5" y="145.9" width="9" height="3.8" fill="#383838"/>
<rect x="76" y="145.9" width="220.5" height="3.8" fill="url(#ga19)"/>
<rect x="68" y="148.4" width="9" height="5.5" fill="#0a0a0a"/>
<rect x="295.5" y="148.4" width="9" height="5.5" fill="#4c4c4c"/>
<rect x="76" y="148.4" width="220.5" height="5.5" fill="url(#ga20)"/>
<rect x="68" y="152.6" width="9" height="7.2" fill="#0a0a0a"/>
<rect x="295.5" y="152.6" width="9" height="7.2" fill="#4c4c4c"/>
<rect x="76" y="152.6" width="220.5" height="7.2" fill="url(#ga21)"/>
<rect x="68" y="158.5" width="9" height="5.5" fill="#0a0a0a"/>
<rect x="295.5" y="158.5" width="9" height="5.5" fill="#4c4c4c"/>
<rect x="76" y="158.5" width="220.5" height="5.5" fill="url(#ga22)"/>
<rect x="68" y="162.7" width="9" height="3.8" fill="#0a0a0a"/>
<rect x="295.5" y="162.7" width="9" height="3.8" fill="#262626"/>
<rect x="76" y="162.7" width="220.5" height="3.8" fill="url(#ga23)"/>
<rect x="68" y="165.2" width="9" height="1.5" fill="#0a0a0a"/>
<rect x="295.5" y="165.2" width="9" height="1.5" fill="#262626"/>
<rect x="76" y="165.2" width="220.5" height="1.5" fill="url(#ga24)"/>
<rect x="68" y="165.4" width="9" height="4.4" fill="#0a0a0a"/>
<rect x="295.5" y="165.4" width="9" height="4.4" fill="#4a4a4a"/>
<rect x="76" y="165.4" width="220.5" height="4.4" fill="url(#ga25)"/>
<rect x="68" y="168.5" width="9" height="3.3" fill="#0a0a0a"/>
<rect x="295.5" y="168.5" width="9" height="3.3" fill="#4a4a4a"/>
<rect x="76" y="168.5" width="220.5" height="3.3" fill="url(#ga26)"/>
<rect x="68" y="170.5" width="9" height="3.3" fill="#0a0a0a"/>
<rect x="295.5" y="170.5" width="9" height="3.3" fill="#262626"/>
<rect x="76" y="170.5" width="220.5" height="3.3" fill="url(#ga27)"/>
<rect x="68" y="172.5" width="9" height="8.3" fill="#0a0a0a"/>
<rect x="295.5" y="172.5" width="9" height="8.3" fill="#4f4f4f"/>
<rect x="76" y="172.5" width="220.5" height="8.3" fill="url(#ga28)"/>
<rect x="68" y="179.5" width="9" height="5.5" fill="#0a0a0a"/>
<rect x="295.5" y="179.5" width="9" height="5.5" fill="#5c5c5c"/>
<rect x="76" y="179.5" width="220.5" height="5.5" fill="url(#ga29)"/>
<rect x="68" y="183.7" width="9" height="6.3" fill="#0a0a0a"/>
<rect x="295.5" y="183.7" width="9" height="6.3" fill="#5c5c5c"/>
<rect x="76" y="183.7" width="220.5" height="6.3" fill="url(#ga30)"/>
<rect x="68" y="188.7" width="9" height="3" fill="#0a0a0a"/>
<rect x="295.5" y="188.7" width="9" height="3" fill="#474747"/>
<rect x="76" y="188.7" width="220.5" height="3" fill="url(#ga31)"/>
<rect x="68" y="190.4" width="9" height="4.3" fill="#0a0a0a"/>
<rect x="295.5" y="190.4" width="9" height="4.3" fill="#545454"/>
<rect x="76" y="190.4" width="220.5" height="4.3" fill="url(#ga32)"/>
<rect x="68" y="193.4" width="9" height="3.3" fill="#0a0a0a"/>
<rect x="295.5" y="193.4" width="9" height="3.3" fill="#4c4c4c"/>
<rect x="76" y="193.4" width="220.5" height="3.3" fill="url(#ga33)"/>
<rect x="68" y="195.4" width="9" height="13.1" fill="#0a0a0a"/>
<rect x="295.5" y="195.4" width="9" height="13.1" fill="#4f4f4f"/>
<rect x="76" y="195.4" width="220.5" height="13.1" fill="url(#ga34)"/>
<rect x="68" y="207.2" width="9" height="3.8" fill="#0a0a0a"/>
<rect x="295.5" y="207.2" width="9" height="3.8" fill="#4c4c4c"/>
<rect x="76" y="207.2" width="220.5" height="3.8" fill="url(#ga35)"/>
<rect x="68" y="209.7" width="9" height="9.6" fill="#0a0a0a"/>
<rect x="295.5" y="209.7" width="9" height="9.6" fill="#4c4c4c"/>
<rect x="76" y="209.7" width="220.5" height="9.6" fill="url(#ga36)"/>
<rect x="68" y="218" width="9" height="13.3" fill="#0a0a0a"/>
<rect x="295.5" y="218" width="9" height="13.3" fill="#525252"/>
<rect x="76" y="218" width="220.5" height="13.3" fill="url(#ga37)"/>
</g></g>
<g clip-path="url(#cb)"><g filter="url(#fb)">
<rect x="389.3" y="48" width="236.7" height="180.4" fill="#000"/>
<rect x="389.3" y="48" width="9" height="16.82" fill="#5c5c5c"/>
<rect x="617" y="48" width="9" height="16.82" fill="#383838"/>
<rect x="397.3" y="48" width="220.7" height="16.82" fill="url(#gb0)"/>
<rect x="389.3" y="63.52" width="9" height="3.81" fill="#262626"/>
<rect x="617" y="63.52" width="9" height="3.81" fill="#262626"/>
<rect x="397.3" y="63.52" width="220.7" height="3.81" fill="url(#gb1)"/>
<rect x="389.3" y="66.02" width="9" height="4.71" fill="#4c4c4c"/>
<rect x="617" y="66.02" width="9" height="4.71" fill="#2b2b2b"/>
<rect x="397.3" y="66.02" width="220.7" height="4.71" fill="url(#gb2)"/>
<rect x="389.3" y="69.43" width="9" height="4.71" fill="#383838"/>
<rect x="617" y="69.43" width="9" height="4.71" fill="#2b2b2b"/>
<rect x="397.3" y="69.43" width="220.7" height="4.71" fill="url(#gb3)"/>
<rect x="389.3" y="72.84" width="9" height="8.82" fill="#333333"/>
<rect x="617" y="72.84" width="9" height="8.82" fill="#0a0a0a"/>
<rect x="397.3" y="72.84" width="220.7" height="8.82" fill="url(#gb4)"/>
<rect x="389.3" y="80.36" width="9" height="4.71" fill="#4c4c4c"/>
<rect x="617" y="80.36" width="9" height="4.71" fill="#404040"/>
<rect x="397.3" y="80.36" width="220.7" height="4.71" fill="url(#gb5)"/>
<rect x="389.3" y="83.77" width="9" height="11.42" fill="#1a1a1a"/>
<rect x="617" y="83.77" width="9" height="11.42" fill="#171717"/>
<rect x="397.3" y="83.77" width="220.7" height="11.42" fill="url(#gb6)"/>
<rect x="389.3" y="93.89" width="9" height="4.01" fill="#383838"/>
<rect x="617" y="93.89" width="9" height="4.01" fill="#262626"/>
<rect x="397.3" y="93.89" width="220.7" height="4.01" fill="url(#gb7)"/>
<rect x="389.3" y="96.6" width="9" height="3.1" fill="#383838"/>
<rect x="617" y="96.6" width="9" height="3.1" fill="#212121"/>
<rect x="397.3" y="96.6" width="220.7" height="3.1" fill="url(#gb8)"/>
<rect x="389.3" y="98.4" width="9" height="3" fill="#383838"/>
<rect x="617" y="98.4" width="9" height="3" fill="#2e2e2e"/>
<rect x="397.3" y="98.4" width="220.7" height="3" fill="url(#gb9)"/>
<rect x="389.3" y="100.11" width="9" height="1.5" fill="#1a1a1a"/>
<rect x="617" y="100.11" width="9" height="1.5" fill="#2e2e2e"/>
<rect x="397.3" y="100.11" width="220.7" height="1.5" fill="url(#gb10)"/>
<rect x="389.3" y="100.31" width="9" height="7.52" fill="#1a1a1a"/>
<rect x="617" y="100.31" width="9" height="7.52" fill="#171717"/>
<rect x="397.3" y="100.31" width="220.7" height="7.52" fill="url(#gb11)"/>
<rect x="389.3" y="106.52" width="9" height="8.02" fill="#262626"/>
<rect x="617" y="106.52" width="9" height="8.02" fill="#141414"/>
<rect x="397.3" y="106.52" width="220.7" height="8.02" fill="url(#gb12)"/>
<rect x="389.3" y="113.24" width="9" height="7.21" fill="#212121"/>
<rect x="617" y="113.24" width="9" height="7.21" fill="#121212"/>
<rect x="397.3" y="113.24" width="220.7" height="7.21" fill="url(#gb13)"/>
<rect x="389.3" y="119.15" width="9" height="7.21" fill="#1f1f1f"/>
<rect x="617" y="119.15" width="9" height="7.21" fill="#121212"/>
<rect x="397.3" y="119.15" width="220.7" height="7.21" fill="url(#gb14)"/>
<rect x="389.3" y="125.07" width="9" height="5.41" fill="#121212"/>
<rect x="617" y="125.07" width="9" height="5.41" fill="#171717"/>
<rect x="397.3" y="125.07" width="220.7" height="5.41" fill="url(#gb15)"/>
<rect x="389.3" y="129.18" width="9" height="4.81" fill="#1a1a1a"/>
<rect x="617" y="129.18" width="9" height="4.81" fill="#383838"/>
<rect x="397.3" y="129.18" width="220.7" height="4.81" fill="url(#gb16)"/>
<rect x="389.3" y="132.69" width="9" height="6.81" fill="#1a1a1a"/>
<rect x="617" y="132.69" width="9" height="6.81" fill="#5e5e5e"/>
<rect x="397.3" y="132.69" width="220.7" height="6.81" fill="url(#gb17)"/>
<rect x="389.3" y="138.2" width="9" height="5.31" fill="#212121"/>
<rect x="617" y="138.2" width="9" height="5.31" fill="#5e5e5e"/>
<rect x="397.3" y="138.2" width="220.7" height="5.31" fill="url(#gb18)"/>
<rect x="389.3" y="142.21" width="9" height="4.91" fill="#212121"/>
<rect x="617" y="142.21" width="9" height="4.91" fill="#474747"/>
<rect x="397.3" y="142.21" width="220.7" height="4.91" fill="url(#gb19)"/>
<rect x="389.3" y="145.82" width="9" height="3.71" fill="#1a1a1a"/>
<rect x="617" y="145.82" width="9" height="3.71" fill="#383838"/>
<rect x="397.3" y="145.82" width="220.7" height="3.71" fill="url(#gb20)"/>
<rect x="389.3" y="148.22" width="9" height="9.82" fill="#242424"/>
<rect x="617" y="148.22" width="9" height="9.82" fill="#8c8c8c"/>
<rect x="397.3" y="148.22" width="220.7" height="9.82" fill="url(#gb21)"/>
<rect x="389.3" y="156.75" width="9" height="4.61" fill="#242424"/>
<rect x="617" y="156.75" width="9" height="4.61" fill="#b2b2b2"/>
<rect x="397.3" y="156.75" width="220.7" height="4.61" fill="url(#gb22)"/>
<rect x="389.3" y="160.05" width="9" height="6.51" fill="#212121"/>
<rect x="617" y="160.05" width="9" height="6.51" fill="#adadad"/>
<rect x="397.3" y="160.05" width="220.7" height="6.51" fill="url(#gb23)"/>
<rect x="389.3" y="165.27" width="9" height="2.8" fill="#212121"/>
<rect x="617" y="165.27" width="9" height="2.8" fill="#a3a3a3"/>
<rect x="397.3" y="165.27" width="220.7" height="2.8" fill="url(#gb24)"/>
<rect x="389.3" y="166.77" width="9" height="6.41" fill="#383838"/>
<rect x="617" y="166.77" width="9" height="6.41" fill="#ababab"/>
<rect x="397.3" y="166.77" width="220.7" height="6.41" fill="url(#gb25)"/>
<rect x="389.3" y="171.88" width="9" height="3.71" fill="#171717"/>
<rect x="617" y="171.88" width="9" height="3.71" fill="#ebebeb"/>
<rect x="397.3" y="171.88" width="220.7" height="3.71" fill="url(#gb26)"/>
<rect x="389.3" y="174.29" width="9" height="8.12" fill="#212121"/>
<rect x="617" y="174.29" width="9" height="8.12" fill="#ebebeb"/>
<rect x="397.3" y="174.29" width="220.7" height="8.12" fill="url(#gb27)"/>
<rect x="389.3" y="181.1" width="9" height="5.51" fill="#303030"/>
<rect x="617" y="181.1" width="9" height="5.51" fill="#ededed"/>
<rect x="397.3" y="181.1" width="220.7" height="5.51" fill="url(#gb28)"/>
<rect x="389.3" y="185.31" width="9" height="3.81" fill="#1a1a1a"/>
<rect x="617" y="185.31" width="9" height="3.81" fill="#ececec"/>
<rect x="397.3" y="185.31" width="220.7" height="3.81" fill="url(#gb29)"/>
<rect x="389.3" y="187.82" width="9" height="3.81" fill="#2b2b2b"/>
<rect x="617" y="187.82" width="9" height="3.81" fill="#ededed"/>
<rect x="397.3" y="187.82" width="220.7" height="3.81" fill="url(#gb30)"/>
<rect x="389.3" y="190.33" width="9" height="6.31" fill="#242424"/>
<rect x="617" y="190.33" width="9" height="6.31" fill="#eeeeee"/>
<rect x="397.3" y="190.33" width="220.7" height="6.31" fill="url(#gb31)"/>
<rect x="389.3" y="195.34" width="9" height="11.32" fill="#212121"/>
<rect x="617" y="195.34" width="9" height="11.32" fill="#efefef"/>
<rect x="397.3" y="195.34" width="220.7" height="11.32" fill="url(#gb32)"/>
<rect x="389.3" y="205.36" width="9" height="8.32" fill="#212121"/>
<rect x="617" y="205.36" width="9" height="8.32" fill="#f0f0f0"/>
<rect x="397.3" y="205.36" width="220.7" height="8.32" fill="url(#gb33)"/>
<rect x="389.3" y="212.38" width="9" height="7.11" fill="#1a1a1a"/>
<rect x="617" y="212.38" width="9" height="7.11" fill="#f0f0f0"/>
<rect x="397.3" y="212.38" width="220.7" height="7.11" fill="url(#gb34)"/>
<rect x="389.3" y="218.19" width="9" height="11.51" fill="#1f1f1f"/>
<rect x="617" y="218.19" width="9" height="11.51" fill="#eeeeee"/>
<rect x="397.3" y="218.19" width="220.7" height="11.51" fill="url(#gb35)"/>
</g></g>
<g clip-path="url(#cc)"><g filter="url(#fc)">
<rect x="66.3" y="273.5" width="236.5" height="180.5" fill="#000"/>
<rect x="66.3" y="273.5" width="9" height="11.31" fill="#545454"/>
<rect x="293.8" y="273.5" width="9" height="11.31" fill="#a8a8a8"/>
<rect x="74.3" y="273.5" width="220.5" height="11.31" fill="url(#gc0)"/>
<rect x="66.3" y="283.51" width="9" height="3.31" fill="#494949"/>
<rect x="293.8" y="283.51" width="9" height="3.31" fill="#909090"/>
<rect x="74.3" y="283.51" width="220.5" height="3.31" fill="url(#gc1)"/>
<rect x="66.3" y="285.51" width="9" height="3.31" fill="#3e3e3e"/>
<rect x="293.8" y="285.51" width="9" height="3.31" fill="#777777"/>
<rect x="74.3" y="285.51" width="220.5" height="3.31" fill="url(#gc2)"/>
<rect x="66.3" y="287.52" width="9" height="3.31" fill="#333333"/>
<rect x="293.8" y="287.52" width="9" height="3.31" fill="#5f5f5f"/>
<rect x="74.3" y="287.52" width="220.5" height="3.31" fill="url(#gc3)"/>
<rect x="66.3" y="289.52" width="9" height="3.31" fill="#2b2b2b"/>
<rect x="293.8" y="289.52" width="9" height="3.31" fill="#494949"/>
<rect x="74.3" y="289.52" width="220.5" height="3.31" fill="url(#gc4)"/>
<rect x="66.3" y="291.53" width="9" height="3.31" fill="#282828"/>
<rect x="293.8" y="291.53" width="9" height="3.31" fill="#383838"/>
<rect x="74.3" y="291.53" width="220.5" height="3.31" fill="url(#gc5)"/>
<rect x="66.3" y="293.54" width="9" height="3.31" fill="#262626"/>
<rect x="293.8" y="293.54" width="9" height="3.31" fill="#262626"/>
<rect x="74.3" y="293.54" width="220.5" height="3.31" fill="url(#gc6)"/>
<rect x="66.3" y="295.54" width="9" height="3.31" fill="#232323"/>
<rect x="293.8" y="295.54" width="9" height="3.31" fill="#151515"/>
<rect x="74.3" y="295.54" width="220.5" height="3.31" fill="url(#gc7)"/>
<rect x="66.3" y="297.55" width="9" height="3.31" fill="#212121"/>
<rect x="293.8" y="297.55" width="9" height="3.31" fill="#060606"/>
<rect x="74.3" y="297.55" width="220.5" height="3.31" fill="url(#gc8)"/>
<rect x="66.3" y="299.55" width="9" height="3.31" fill="#202020"/>
<rect x="293.8" y="299.55" width="9" height="3.31" fill="#040404"/>
<rect x="74.3" y="299.55" width="220.5" height="3.31" fill="url(#gc9)"/>
<rect x="66.3" y="301.56" width="9" height="3.31" fill="#202020"/>
<rect x="293.8" y="301.56" width="9" height="3.31" fill="#030303"/>
<rect x="74.3" y="301.56" width="220.5" height="3.31" fill="url(#gc10)"/>
<rect x="66.3" y="303.57" width="9" height="3.31" fill="#1f1f1f"/>
<rect x="293.8" y="303.57" width="9" height="3.31" fill="#020202"/>
<rect x="74.3" y="303.57" width="220.5" height="3.31" fill="url(#gc11)"/>
<rect x="66.3" y="305.57" width="9" height="3.31" fill="#1f1f1f"/>
<rect x="293.8" y="305.57" width="9" height="3.31" fill="#000000"/>
<rect x="74.3" y="305.57" width="220.5" height="3.31" fill="url(#gc12)"/>
<rect x="66.3" y="307.58" width="9" height="3.31" fill="#1d1d1d"/>
<rect x="293.8" y="307.58" width="9" height="3.31" fill="#000000"/>
<rect x="74.3" y="307.58" width="220.5" height="3.31" fill="url(#gc13)"/>
<rect x="66.3" y="309.59" width="9" height="3.31" fill="#1c1c1c"/>
<rect x="293.8" y="309.59" width="9" height="3.31" fill="#000000"/>
<rect x="74.3" y="309.59" width="220.5" height="3.31" fill="url(#gc14)"/>
<rect x="66.3" y="311.59" width="9" height="3.31" fill="#1b1b1b"/>
<rect x="293.8" y="311.59" width="9" height="3.31" fill="#000000"/>
<rect x="74.3" y="311.59" width="220.5" height="3.31" fill="url(#gc15)"/>
<rect x="66.3" y="313.6" width="9" height="3.31" fill="#1a1a1a"/>
<rect x="293.8" y="313.6" width="9" height="3.31" fill="#000000"/>
<rect x="74.3" y="313.6" width="220.5" height="3.31" fill="url(#gc16)"/>
<rect x="66.3" y="315.6" width="9" height="3.31" fill="#191919"/>
<rect x="293.8" y="315.6" width="9" height="3.31" fill="#000000"/>
<rect x="74.3" y="315.6" width="220.5" height="3.31" fill="url(#gc17)"/>
<rect x="66.3" y="317.61" width="9" height="3.31" fill="#171717"/>
<rect x="293.8" y="317.61" width="9" height="3.31" fill="#000000"/>
<rect x="74.3" y="317.61" width="220.5" height="3.31" fill="url(#gc18)"/>
<rect x="66.3" y="319.62" width="9" height="3.31" fill="#161616"/>
<rect x="293.8" y="319.62" width="9" height="3.31" fill="#000000"/>
<rect x="74.3" y="319.62" width="220.5" height="3.31" fill="url(#gc19)"/>
<rect x="66.3" y="321.62" width="9" height="3.31" fill="#151515"/>
<rect x="293.8" y="321.62" width="9" height="3.31" fill="#000000"/>
<rect x="74.3" y="321.62" width="220.5" height="3.31" fill="url(#gc20)"/>
<rect x="66.3" y="323.63" width="9" height="3.31" fill="#141414"/>
<rect x="293.8" y="323.63" width="9" height="3.31" fill="#000000"/>
<rect x="74.3" y="323.63" width="220.5" height="3.31" fill="url(#gc21)"/>
<rect x="66.3" y="325.63" width="9" height="3.31" fill="#141414"/>
<rect x="293.8" y="325.63" width="9" height="3.31" fill="#000000"/>
<rect x="74.3" y="325.63" width="220.5" height="3.31" fill="url(#gc22)"/>
<rect x="66.3" y="327.64" width="9" height="3.31" fill="#141414"/>
<rect x="293.8" y="327.64" width="9" height="3.31" fill="#000000"/>
<rect x="74.3" y="327.64" width="220.5" height="3.31" fill="url(#gc23)"/>
<rect x="66.3" y="329.65" width="9" height="3.31" fill="#141414"/>
<rect x="293.8" y="329.65" width="9" height="3.31" fill="#000000"/>
<rect x="74.3" y="329.65" width="220.5" height="3.31" fill="url(#gc24)"/>
<rect x="66.3" y="331.65" width="9" height="3.31" fill="#141414"/>
<rect x="293.8" y="331.65" width="9" height="3.31" fill="#000000"/>
<rect x="74.3" y="331.65" width="220.5" height="3.31" fill="url(#gc25)"/>
<rect x="66.3" y="333.66" width="9" height="3.31" fill="#141414"/>
<rect x="293.8" y="333.66" width="9" height="3.31" fill="#000000"/>
<rect x="74.3" y="333.66" width="220.5" height="3.31" fill="url(#gc26)"/>
<rect x="66.3" y="335.66" width="9" height="3.31" fill="#141414"/>
<rect x="293.8" y="335.66" width="9" height="3.31" fill="#000000"/>
<rect x="74.3" y="335.66" width="220.5" height="3.31" fill="url(#gc27)"/>
<rect x="66.3" y="337.67" width="9" height="3.31" fill="#141414"/>
<rect x="293.8" y="337.67" width="9" height="3.31" fill="#000000"/>
<rect x="74.3" y="337.67" width="220.5" height="3.31" fill="url(#gc28)"/>
<rect x="66.3" y="339.68" width="9" height="3.31" fill="#141414"/>
<rect x="293.8" y="339.68" width="9" height="3.31" fill="#000000"/>
<rect x="74.3" y="339.68" width="220.5" height="3.31" fill="url(#gc29)"/>
<rect x="66.3" y="341.68" width="9" height="3.31" fill="#141414"/>
<rect x="293.8" y="341.68" width="9" height="3.31" fill="#000000"/>
<rect x="74.3" y="341.68" width="220.5" height="3.31" fill="url(#gc30)"/>
<rect x="66.3" y="343.69" width="9" height="3.31" fill="#131313"/>
<rect x="293.8" y="343.69" width="9" height="3.31" fill="#000000"/>
<rect x="74.3" y="343.69" width="220.5" height="3.31" fill="url(#gc31)"/>
<rect x="66.3" y="345.7" width="9" height="3.31" fill="#131313"/>
<rect x="293.8" y="345.7" width="9" height="3.31" fill="#000000"/>
<rect x="74.3" y="345.7" width="220.5" height="3.31" fill="url(#gc32)"/>
<rect x="66.3" y="347.7" width="9" height="3.31" fill="#121212"/>
<rect x="293.8" y="347.7" width="9" height="3.31" fill="#000000"/>
<rect x="74.3" y="347.7" width="220.5" height="3.31" fill="url(#gc33)"/>
<rect x="66.3" y="349.71" width="9" height="3.31" fill="#111111"/>
<rect x="293.8" y="349.71" width="9" height="3.31" fill="#030303"/>
<rect x="74.3" y="349.71" width="220.5" height="3.31" fill="url(#gc34)"/>
<rect x="66.3" y="351.71" width="9" height="3.31" fill="#111111"/>
<rect x="293.8" y="351.71" width="9" height="3.31" fill="#050505"/>
<rect x="74.3" y="351.71" width="220.5" height="3.31" fill="url(#gc35)"/>
<rect x="66.3" y="353.72" width="9" height="3.31" fill="#101010"/>
<rect x="293.8" y="353.72" width="9" height="3.31" fill="#080808"/>
<rect x="74.3" y="353.72" width="220.5" height="3.31" fill="url(#gc36)"/>
<rect x="66.3" y="355.73" width="9" height="3.31" fill="#0f0f0f"/>
<rect x="293.8" y="355.73" width="9" height="3.31" fill="#0b0b0b"/>
<rect x="74.3" y="355.73" width="220.5" height="3.31" fill="url(#gc37)"/>
<rect x="66.3" y="357.73" width="9" height="3.31" fill="#0e0e0e"/>
<rect x="293.8" y="357.73" width="9" height="3.31" fill="#131313"/>
<rect x="74.3" y="357.73" width="220.5" height="3.31" fill="url(#gc38)"/>
<rect x="66.3" y="359.74" width="9" height="3.31" fill="#0d0d0d"/>
<rect x="293.8" y="359.74" width="9" height="3.31" fill="#1e1e1e"/>
<rect x="74.3" y="359.74" width="220.5" height="3.31" fill="url(#gc39)"/>
<rect x="66.3" y="361.74" width="9" height="3.31" fill="#0b0b0b"/>
<rect x="293.8" y="361.74" width="9" height="3.31" fill="#282828"/>
<rect x="74.3" y="361.74" width="220.5" height="3.31" fill="url(#gc40)"/>
<rect x="66.3" y="363.75" width="9" height="3.31" fill="#0a0a0a"/>
<rect x="293.8" y="363.75" width="9" height="3.31" fill="#2f2f2f"/>
<rect x="74.3" y="363.75" width="220.5" height="3.31" fill="url(#gc41)"/>
<rect x="66.3" y="365.76" width="9" height="3.31" fill="#090909"/>
<rect x="293.8" y="365.76" width="9" height="3.31" fill="#343434"/>
<rect x="74.3" y="365.76" width="220.5" height="3.31" fill="url(#gc42)"/>
<rect x="66.3" y="367.76" width="9" height="3.31" fill="#090909"/>
<rect x="293.8" y="367.76" width="9" height="3.31" fill="#383838"/>
<rect x="74.3" y="367.76" width="220.5" height="3.31" fill="url(#gc43)"/>
<rect x="66.3" y="369.77" width="9" height="3.31" fill="#080808"/>
<rect x="293.8" y="369.77" width="9" height="3.31" fill="#3c3c3c"/>
<rect x="74.3" y="369.77" width="220.5" height="3.31" fill="url(#gc44)"/>
<rect x="66.3" y="371.77" width="9" height="3.31" fill="#070707"/>
<rect x="293.8" y="371.77" width="9" height="3.31" fill="#404040"/>
<rect x="74.3" y="371.77" width="220.5" height="3.31" fill="url(#gc45)"/>
<rect x="66.3" y="373.78" width="9" height="3.31" fill="#070707"/>
<rect x="293.8" y="373.78" width="9" height="3.31" fill="#424242"/>
<rect x="74.3" y="373.78" width="220.5" height="3.31" fill="url(#gc46)"/>
<rect x="66.3" y="375.79" width="9" height="3.31" fill="#060606"/>
<rect x="293.8" y="375.79" width="9" height="3.31" fill="#434343"/>
<rect x="74.3" y="375.79" width="220.5" height="3.31" fill="url(#gc47)"/>
<rect x="66.3" y="377.79" width="9" height="3.31" fill="#060606"/>
<rect x="293.8" y="377.79" width="9" height="3.31" fill="#454545"/>
<rect x="74.3" y="377.79" width="220.5" height="3.31" fill="url(#gc48)"/>
<rect x="66.3" y="379.8" width="9" height="3.31" fill="#050505"/>
<rect x="293.8" y="379.8" width="9" height="3.31" fill="#474747"/>
<rect x="74.3" y="379.8" width="220.5" height="3.31" fill="url(#gc49)"/>
<rect x="66.3" y="381.8" width="9" height="3.31" fill="#050505"/>
<rect x="293.8" y="381.8" width="9" height="3.31" fill="#484848"/>
<rect x="74.3" y="381.8" width="220.5" height="3.31" fill="url(#gc50)"/>
<rect x="66.3" y="383.81" width="9" height="3.31" fill="#050505"/>
<rect x="293.8" y="383.81" width="9" height="3.31" fill="#4a4a4a"/>
<rect x="74.3" y="383.81" width="220.5" height="3.31" fill="url(#gc51)"/>
<rect x="66.3" y="385.82" width="9" height="3.31" fill="#050505"/>
<rect x="293.8" y="385.82" width="9" height="3.31" fill="#4b4b4b"/>
<rect x="74.3" y="385.82" width="220.5" height="3.31" fill="url(#gc52)"/>
<rect x="66.3" y="387.82" width="9" height="3.31" fill="#050505"/>
<rect x="293.8" y="387.82" width="9" height="3.31" fill="#4c4c4c"/>
<rect x="74.3" y="387.82" width="220.5" height="3.31" fill="url(#gc53)"/>
<rect x="66.3" y="389.83" width="9" height="3.31" fill="#050505"/>
<rect x="293.8" y="389.83" width="9" height="3.31" fill="#4d4d4d"/>
<rect x="74.3" y="389.83" width="220.5" height="3.31" fill="url(#gc54)"/>
<rect x="66.3" y="391.84" width="9" height="3.31" fill="#050505"/>
<rect x="293.8" y="391.84" width="9" height="3.31" fill="#4f4f4f"/>
<rect x="74.3" y="391.84" width="220.5" height="3.31" fill="url(#gc55)"/>
<rect x="66.3" y="393.84" width="9" height="3.31" fill="#050505"/>
<rect x="293.8" y="393.84" width="9" height="3.31" fill="#505050"/>
<rect x="74.3" y="393.84" width="220.5" height="3.31" fill="url(#gc56)"/>
<rect x="66.3" y="395.85" width="9" height="3.31" fill="#050505"/>
<rect x="293.8" y="395.85" width="9" height="3.31" fill="#515151"/>
<rect x="74.3" y="395.85" width="220.5" height="3.31" fill="url(#gc57)"/>
<rect x="66.3" y="397.85" width="9" height="3.31" fill="#050505"/>
<rect x="293.8" y="397.85" width="9" height="3.31" fill="#535353"/>
<rect x="74.3" y="397.85" width="220.5" height="3.31" fill="url(#gc58)"/>
<rect x="66.3" y="399.86" width="9" height="3.31" fill="#050505"/>
<rect x="293.8" y="399.86" width="9" height="3.31" fill="#555555"/>
<rect x="74.3" y="399.86" width="220.5" height="3.31" fill="url(#gc59)"/>
<rect x="66.3" y="401.87" width="9" height="3.31" fill="#050505"/>
<rect x="293.8" y="401.87" width="9" height="3.31" fill="#585858"/>
<rect x="74.3" y="401.87" width="220.5" height="3.31" fill="url(#gc60)"/>
<rect x="66.3" y="403.87" width="9" height="3.31" fill="#050505"/>
<rect x="293.8" y="403.87" width="9" height="3.31" fill="#5a5a5a"/>
<rect x="74.3" y="403.87" width="220.5" height="3.31" fill="url(#gc61)"/>
<rect x="66.3" y="405.88" width="9" height="3.31" fill="#050505"/>
<rect x="293.8" y="405.88" width="9" height="3.31" fill="#5d5d5d"/>
<rect x="74.3" y="405.88" width="220.5" height="3.31" fill="url(#gc62)"/>
<rect x="66.3" y="407.88" width="9" height="3.31" fill="#040404"/>
<rect x="293.8" y="407.88" width="9" height="3.31" fill="#5f5f5f"/>
<rect x="74.3" y="407.88" width="220.5" height="3.31" fill="url(#gc63)"/>
<rect x="66.3" y="409.89" width="9" height="3.31" fill="#040404"/>
<rect x="293.8" y="409.89" width="9" height="3.31" fill="#626262"/>
<rect x="74.3" y="409.89" width="220.5" height="3.31" fill="url(#gc64)"/>
<rect x="66.3" y="411.9" width="9" height="3.31" fill="#030303"/>
<rect x="293.8" y="411.9" width="9" height="3.31" fill="#646464"/>
<rect x="74.3" y="411.9" width="220.5" height="3.31" fill="url(#gc65)"/>
<rect x="66.3" y="413.9" width="9" height="3.31" fill="#030303"/>
<rect x="293.8" y="413.9" width="9" height="3.31" fill="#666666"/>
<rect x="74.3" y="413.9" width="220.5" height="3.31" fill="url(#gc66)"/>
<rect x="66.3" y="415.91" width="9" height="3.31" fill="#030303"/>
<rect x="293.8" y="415.91" width="9" height="3.31" fill="#686868"/>
<rect x="74.3" y="415.91" width="220.5" height="3.31" fill="url(#gc67)"/>
<rect x="66.3" y="417.91" width="9" height="3.31" fill="#030303"/>
<rect x="293.8" y="417.91" width="9" height="3.31" fill="#6a6a6a"/>
<rect x="74.3" y="417.91" width="220.5" height="3.31" fill="url(#gc68)"/>
<rect x="66.3" y="419.92" width="9" height="3.31" fill="#030303"/>
<rect x="293.8" y="419.92" width="9" height="3.31" fill="#6c6c6c"/>
<rect x="74.3" y="419.92" width="220.5" height="3.31" fill="url(#gc69)"/>
<rect x="66.3" y="421.93" width="9" height="3.31" fill="#030303"/>
<rect x="293.8" y="421.93" width="9" height="3.31" fill="#6e6e6e"/>
<rect x="74.3" y="421.93" width="220.5" height="3.31" fill="url(#gc70)"/>
<rect x="66.3" y="423.93" width="9" height="3.31" fill="#030303"/>
<rect x="293.8" y="423.93" width="9" height="3.31" fill="#6e6e6e"/>
<rect x="74.3" y="423.93" width="220.5" height="3.31" fill="url(#gc71)"/>
<rect x="66.3" y="425.94" width="9" height="3.31" fill="#030303"/>
<rect x="293.8" y="425.94" width="9" height="3.31" fill="#6f6f6f"/>
<rect x="74.3" y="425.94" width="220.5" height="3.31" fill="url(#gc72)"/>
<rect x="66.3" y="427.95" width="9" height="3.31" fill="#030303"/>
<rect x="293.8" y="427.95" width="9" height="3.31" fill="#707070"/>
<rect x="74.3" y="427.95" width="220.5" height="3.31" fill="url(#gc73)"/>
<rect x="66.3" y="429.95" width="9" height="3.31" fill="#030303"/>
<rect x="293.8" y="429.95" width="9" height="3.31" fill="#707070"/>
<rect x="74.3" y="429.95" width="220.5" height="3.31" fill="url(#gc74)"/>
<rect x="66.3" y="431.96" width="9" height="3.31" fill="#030303"/>
<rect x="293.8" y="431.96" width="9" height="3.31" fill="#707070"/>
<rect x="74.3" y="431.96" width="220.5" height="3.31" fill="url(#gc75)"/>
<rect x="66.3" y="433.96" width="9" height="3.31" fill="#030303"/>
<rect x="293.8" y="433.96" width="9" height="3.31" fill="#707070"/>
<rect x="74.3" y="433.96" width="220.5" height="3.31" fill="url(#gc76)"/>
<rect x="66.3" y="435.97" width="9" height="3.31" fill="#030303"/>
<rect x="293.8" y="435.97" width="9" height="3.31" fill="#707070"/>
<rect x="74.3" y="435.97" width="220.5" height="3.31" fill="url(#gc77)"/>
<rect x="66.3" y="437.98" width="9" height="3.31" fill="#030303"/>
<rect x="293.8" y="437.98" width="9" height="3.31" fill="#707070"/>
<rect x="74.3" y="437.98" width="220.5" height="3.31" fill="url(#gc78)"/>
<rect x="66.3" y="439.98" width="9" height="3.31" fill="#030303"/>
<rect x="293.8" y="439.98" width="9" height="3.31" fill="#707070"/>
<rect x="74.3" y="439.98" width="220.5" height="3.31" fill="url(#gc79)"/>
<rect x="66.3" y="441.99" width="9" height="3.31" fill="#030303"/>
<rect x="293.8" y="441.99" width="9" height="3.31" fill="#6f6f6f"/>
<rect x="74.3" y="441.99" width="220.5" height="3.31" fill="url(#gc80)"/>
<rect x="66.3" y="443.99" width="9" height="11.31" fill="#030303"/>
<rect x="293.8" y="443.99" width="9" height="11.31" fill="#6e6e6e"/>
<rect x="74.3" y="443.99" width="220.5" height="11.31" fill="url(#gc81)"/>
</g></g>
<g clip-path="url(#cd)"><g filter="url(#fd)">
<rect x="390.1" y="273.5" width="236.9" height="180.5" fill="#000"/>
<rect x="390.1" y="273.5" width="9" height="11.31" fill="#323232"/>
<rect x="618" y="273.5" width="9" height="11.31" fill="#212121"/>
<rect x="398.1" y="273.5" width="220.9" height="11.31" fill="url(#gd0)"/>
<rect x="390.1" y="283.51" width="9" height="3.31" fill="#303030"/>
<rect x="618" y="283.51" width="9" height="3.31" fill="#202020"/>
<rect x="398.1" y="283.51" width="220.9" height="3.31" fill="url(#gd1)"/>
<rect x="390.1" y="285.51" width="9" height="3.31" fill="#2e2e2e"/>
<rect x="618" y="285.51" width="9" height="3.31" fill="#202020"/>
<rect x="398.1" y="285.51" width="220.9" height="3.31" fill="url(#gd2)"/>
<rect x="390.1" y="287.52" width="9" height="3.31" fill="#2d2d2d"/>
<rect x="618" y="287.52" width="9" height="3.31" fill="#1f1f1f"/>
<rect x="398.1" y="287.52" width="220.9" height="3.31" fill="url(#gd3)"/>
<rect x="390.1" y="289.52" width="9" height="3.31" fill="#2b2b2b"/>
<rect x="618" y="289.52" width="9" height="3.31" fill="#1d1d1d"/>
<rect x="398.1" y="289.52" width="220.9" height="3.31" fill="url(#gd4)"/>
<rect x="390.1" y="291.53" width="9" height="3.31" fill="#292929"/>
<rect x="618" y="291.53" width="9" height="3.31" fill="#1a1a1a"/>
<rect x="398.1" y="291.53" width="220.9" height="3.31" fill="url(#gd5)"/>
<rect x="390.1" y="293.54" width="9" height="3.31" fill="#272727"/>
<rect x="618" y="293.54" width="9" height="3.31" fill="#161616"/>
<rect x="398.1" y="293.54" width="220.9" height="3.31" fill="url(#gd6)"/>
<rect x="390.1" y="295.54" width="9" height="3.31" fill="#252525"/>
<rect x="618" y="295.54" width="9" height="3.31" fill="#131313"/>
<rect x="398.1" y="295.54" width="220.9" height="3.31" fill="url(#gd7)"/>
<rect x="390.1" y="297.55" width="9" height="3.31" fill="#242424"/>
<rect x="618" y="297.55" width="9" height="3.31" fill="#0f0f0f"/>
<rect x="398.1" y="297.55" width="220.9" height="3.31" fill="url(#gd8)"/>
<rect x="390.1" y="299.55" width="9" height="3.31" fill="#222222"/>
<rect x="618" y="299.55" width="9" height="3.31" fill="#0b0b0b"/>
<rect x="398.1" y="299.55" width="220.9" height="3.31" fill="url(#gd9)"/>
<rect x="390.1" y="301.56" width="9" height="3.31" fill="#212121"/>
<rect x="618" y="301.56" width="9" height="3.31" fill="#080808"/>
<rect x="398.1" y="301.56" width="220.9" height="3.31" fill="url(#gd10)"/>
<rect x="390.1" y="303.57" width="9" height="3.31" fill="#202020"/>
<rect x="618" y="303.57" width="9" height="3.31" fill="#040404"/>
<rect x="398.1" y="303.57" width="220.9" height="3.31" fill="url(#gd11)"/>
<rect x="390.1" y="305.57" width="9" height="3.31" fill="#1f1f1f"/>
<rect x="618" y="305.57" width="9" height="3.31" fill="#000000"/>
<rect x="398.1" y="305.57" width="220.9" height="3.31" fill="url(#gd12)"/>
<rect x="390.1" y="307.58" width="9" height="3.31" fill="#1d1d1d"/>
<rect x="618" y="307.58" width="9" height="3.31" fill="#000000"/>
<rect x="398.1" y="307.58" width="220.9" height="3.31" fill="url(#gd13)"/>
<rect x="390.1" y="309.59" width="9" height="3.31" fill="#1c1c1c"/>
<rect x="618" y="309.59" width="9" height="3.31" fill="#000000"/>
<rect x="398.1" y="309.59" width="220.9" height="3.31" fill="url(#gd14)"/>
<rect x="390.1" y="311.59" width="9" height="3.31" fill="#1b1b1b"/>
<rect x="618" y="311.59" width="9" height="3.31" fill="#000000"/>
<rect x="398.1" y="311.59" width="220.9" height="3.31" fill="url(#gd15)"/>
<rect x="390.1" y="313.6" width="9" height="3.31" fill="#1a1a1a"/>
<rect x="618" y="313.6" width="9" height="3.31" fill="#000000"/>
<rect x="398.1" y="313.6" width="220.9" height="3.31" fill="url(#gd16)"/>
<rect x="390.1" y="315.6" width="9" height="3.31" fill="#191919"/>
<rect x="618" y="315.6" width="9" height="3.31" fill="#000000"/>
<rect x="398.1" y="315.6" width="220.9" height="3.31" fill="url(#gd17)"/>
<rect x="390.1" y="317.61" width="9" height="3.31" fill="#171717"/>
<rect x="618" y="317.61" width="9" height="3.31" fill="#000000"/>
<rect x="398.1" y="317.61" width="220.9" height="3.31" fill="url(#gd18)"/>
<rect x="390.1" y="319.62" width="9" height="3.31" fill="#161616"/>
<rect x="618" y="319.62" width="9" height="3.31" fill="#000000"/>
<rect x="398.1" y="319.62" width="220.9" height="3.31" fill="url(#gd19)"/>
<rect x="390.1" y="321.62" width="9" height="3.31" fill="#151515"/>
<rect x="618" y="321.62" width="9" height="3.31" fill="#000000"/>
<rect x="398.1" y="321.62" width="220.9" height="3.31" fill="url(#gd20)"/>
<rect x="390.1" y="323.63" width="9" height="3.31" fill="#141414"/>
<rect x="618" y="323.63" width="9" height="3.31" fill="#000000"/>
<rect x="398.1" y="323.63" width="220.9" height="3.31" fill="url(#gd21)"/>
<rect x="390.1" y="325.63" width="9" height="3.31" fill="#131313"/>
<rect x="618" y="325.63" width="9" height="3.31" fill="#000000"/>
<rect x="398.1" y="325.63" width="220.9" height="3.31" fill="url(#gd22)"/>
<rect x="390.1" y="327.64" width="9" height="3.31" fill="#111111"/>
<rect x="618" y="327.64" width="9" height="3.31" fill="#000000"/>
<rect x="398.1" y="327.64" width="220.9" height="3.31" fill="url(#gd23)"/>
<rect x="390.1" y="329.65" width="9" height="3.31" fill="#101010"/>
<rect x="618" y="329.65" width="9" height="3.31" fill="#000000"/>
<rect x="398.1" y="329.65" width="220.9" height="3.31" fill="url(#gd24)"/>
<rect x="390.1" y="331.65" width="9" height="3.31" fill="#0f0f0f"/>
<rect x="618" y="331.65" width="9" height="3.31" fill="#010101"/>
<rect x="398.1" y="331.65" width="220.9" height="3.31" fill="url(#gd25)"/>
<rect x="390.1" y="333.66" width="9" height="3.31" fill="#0f0f0f"/>
<rect x="618" y="333.66" width="9" height="3.31" fill="#020202"/>
<rect x="398.1" y="333.66" width="220.9" height="3.31" fill="url(#gd26)"/>
<rect x="390.1" y="335.66" width="9" height="3.31" fill="#0e0e0e"/>
<rect x="618" y="335.66" width="9" height="3.31" fill="#040404"/>
<rect x="398.1" y="335.66" width="220.9" height="3.31" fill="url(#gd27)"/>
<rect x="390.1" y="337.67" width="9" height="3.31" fill="#0d0d0d"/>
<rect x="618" y="337.67" width="9" height="3.31" fill="#060606"/>
<rect x="398.1" y="337.67" width="220.9" height="3.31" fill="url(#gd28)"/>
<rect x="390.1" y="339.68" width="9" height="3.31" fill="#0d0d0d"/>
<rect x="618" y="339.68" width="9" height="3.31" fill="#080808"/>
<rect x="398.1" y="339.68" width="220.9" height="3.31" fill="url(#gd29)"/>
<rect x="390.1" y="341.68" width="9" height="3.31" fill="#0c0c0c"/>
<rect x="618" y="341.68" width="9" height="3.31" fill="#0c0c0c"/>
<rect x="398.1" y="341.68" width="220.9" height="3.31" fill="url(#gd30)"/>
<rect x="390.1" y="343.69" width="9" height="3.31" fill="#0b0b0b"/>
<rect x="618" y="343.69" width="9" height="3.31" fill="#111111"/>
<rect x="398.1" y="343.69" width="220.9" height="3.31" fill="url(#gd31)"/>
<rect x="390.1" y="345.7" width="9" height="3.31" fill="#0b0b0b"/>
<rect x="618" y="345.7" width="9" height="3.31" fill="#151515"/>
<rect x="398.1" y="345.7" width="220.9" height="3.31" fill="url(#gd32)"/>
<rect x="390.1" y="347.7" width="9" height="3.31" fill="#0a0a0a"/>
<rect x="618" y="347.7" width="9" height="3.31" fill="#191919"/>
<rect x="398.1" y="347.7" width="220.9" height="3.31" fill="url(#gd33)"/>
<rect x="390.1" y="349.71" width="9" height="3.31" fill="#0a0a0a"/>
<rect x="618" y="349.71" width="9" height="3.31" fill="#1f1f1f"/>
<rect x="398.1" y="349.71" width="220.9" height="3.31" fill="url(#gd34)"/>
<rect x="390.1" y="351.71" width="9" height="3.31" fill="#090909"/>
<rect x="618" y="351.71" width="9" height="3.31" fill="#252525"/>
<rect x="398.1" y="351.71" width="220.9" height="3.31" fill="url(#gd35)"/>
<rect x="390.1" y="353.72" width="9" height="3.31" fill="#080808"/>
<rect x="618" y="353.72" width="9" height="3.31" fill="#2b2b2b"/>
<rect x="398.1" y="353.72" width="220.9" height="3.31" fill="url(#gd36)"/>
<rect x="390.1" y="355.73" width="9" height="3.31" fill="#080808"/>
<rect x="618" y="355.73" width="9" height="3.31" fill="#313131"/>
<rect x="398.1" y="355.73" width="220.9" height="3.31" fill="url(#gd37)"/>
<rect x="390.1" y="357.73" width="9" height="3.31" fill="#070707"/>
<rect x="618" y="357.73" width="9" height="3.31" fill="#3b3b3b"/>
<rect x="398.1" y="357.73" width="220.9" height="3.31" fill="url(#gd38)"/>
<rect x="390.1" y="359.74" width="9" height="3.31" fill="#060606"/>
<rect x="618" y="359.74" width="9" height="3.31" fill="#464646"/>
<rect x="398.1" y="359.74" width="220.9" height="3.31" fill="url(#gd39)"/>
<rect x="390.1" y="361.74" width="9" height="3.31" fill="#050505"/>
<rect x="618" y="361.74" width="9" height="3.31" fill="#515151"/>
<rect x="398.1" y="361.74" width="220.9" height="3.31" fill="url(#gd40)"/>
<rect x="390.1" y="363.75" width="9" height="3.31" fill="#050505"/>
<rect x="618" y="363.75" width="9" height="3.31" fill="#595959"/>
<rect x="398.1" y="363.75" width="220.9" height="3.31" fill="url(#gd41)"/>
<rect x="390.1" y="365.76" width="9" height="3.31" fill="#040404"/>
<rect x="618" y="365.76" width="9" height="3.31" fill="#5f5f5f"/>
<rect x="398.1" y="365.76" width="220.9" height="3.31" fill="url(#gd42)"/>
<rect x="390.1" y="367.76" width="9" height="3.31" fill="#040404"/>
<rect x="618" y="367.76" width="9" height="3.31" fill="#646464"/>
<rect x="398.1" y="367.76" width="220.9" height="3.31" fill="url(#gd43)"/>
<rect x="390.1" y="369.77" width="9" height="3.31" fill="#030303"/>
<rect x="618" y="369.77" width="9" height="3.31" fill="#6a6a6a"/>
<rect x="398.1" y="369.77" width="220.9" height="3.31" fill="url(#gd44)"/>
<rect x="390.1" y="371.77" width="9" height="3.31" fill="#030303"/>
<rect x="618" y="371.77" width="9" height="3.31" fill="#6f6f6f"/>
<rect x="398.1" y="371.77" width="220.9" height="3.31" fill="url(#gd45)"/>
<rect x="390.1" y="373.78" width="9" height="3.31" fill="#030303"/>
<rect x="618" y="373.78" width="9" height="3.31" fill="#737373"/>
<rect x="398.1" y="373.78" width="220.9" height="3.31" fill="url(#gd46)"/>
<rect x="390.1" y="375.79" width="9" height="3.31" fill="#030303"/>
<rect x="618" y="375.79" width="9" height="3.31" fill="#777777"/>
<rect x="398.1" y="375.79" width="220.9" height="3.31" fill="url(#gd47)"/>
<rect x="390.1" y="377.79" width="9" height="3.31" fill="#030303"/>
<rect x="618" y="377.79" width="9" height="3.31" fill="#7c7c7c"/>
<rect x="398.1" y="377.79" width="220.9" height="3.31" fill="url(#gd48)"/>
<rect x="390.1" y="379.8" width="9" height="3.31" fill="#030303"/>
<rect x="618" y="379.8" width="9" height="3.31" fill="#808080"/>
<rect x="398.1" y="379.8" width="220.9" height="3.31" fill="url(#gd49)"/>
<rect x="390.1" y="381.8" width="9" height="3.31" fill="#030303"/>
<rect x="618" y="381.8" width="9" height="3.31" fill="#848484"/>
<rect x="398.1" y="381.8" width="220.9" height="3.31" fill="url(#gd50)"/>
<rect x="390.1" y="383.81" width="9" height="3.31" fill="#030303"/>
<rect x="618" y="383.81" width="9" height="3.31" fill="#888888"/>
<rect x="398.1" y="383.81" width="220.9" height="3.31" fill="url(#gd51)"/>
<rect x="390.1" y="385.82" width="9" height="3.31" fill="#030303"/>
<rect x="618" y="385.82" width="9" height="3.31" fill="#8d8d8d"/>
<rect x="398.1" y="385.82" width="220.9" height="3.31" fill="url(#gd52)"/>
<rect x="390.1" y="387.82" width="9" height="3.31" fill="#030303"/>
<rect x="618" y="387.82" width="9" height="3.31" fill="#919191"/>
<rect x="398.1" y="387.82" width="220.9" height="3.31" fill="url(#gd53)"/>
<rect x="390.1" y="389.83" width="9" height="3.31" fill="#030303"/>
<rect x="618" y="389.83" width="9" height="3.31" fill="#959595"/>
<rect x="398.1" y="389.83" width="220.9" height="3.31" fill="url(#gd54)"/>
<rect x="390.1" y="391.84" width="9" height="3.31" fill="#030303"/>
<rect x="618" y="391.84" width="9" height="3.31" fill="#989898"/>
<rect x="398.1" y="391.84" width="220.9" height="3.31" fill="url(#gd55)"/>
<rect x="390.1" y="393.84" width="9" height="3.31" fill="#030303"/>
<rect x="618" y="393.84" width="9" height="3.31" fill="#9c9c9c"/>
<rect x="398.1" y="393.84" width="220.9" height="3.31" fill="url(#gd56)"/>
<rect x="390.1" y="395.85" width="9" height="3.31" fill="#030303"/>
<rect x="618" y="395.85" width="9" height="3.31" fill="#a0a0a0"/>
<rect x="398.1" y="395.85" width="220.9" height="3.31" fill="url(#gd57)"/>
<rect x="390.1" y="397.85" width="9" height="3.31" fill="#030303"/>
<rect x="618" y="397.85" width="9" height="3.31" fill="#a3a3a3"/>
<rect x="398.1" y="397.85" width="220.9" height="3.31" fill="url(#gd58)"/>
<rect x="390.1" y="399.86" width="9" height="3.31" fill="#030303"/>
<rect x="618" y="399.86" width="9" height="3.31" fill="#a6a6a6"/>
<rect x="398.1" y="399.86" width="220.9" height="3.31" fill="url(#gd59)"/>
<rect x="390.1" y="401.87" width="9" height="3.31" fill="#030303"/>
<rect x="618" y="401.87" width="9" height="3.31" fill="#a9a9a9"/>
<rect x="398.1" y="401.87" width="220.9" height="3.31" fill="url(#gd60)"/>
<rect x="390.1" y="403.87" width="9" height="3.31" fill="#030303"/>
<rect x="618" y="403.87" width="9" height="3.31" fill="#acacac"/>
<rect x="398.1" y="403.87" width="220.9" height="3.31" fill="url(#gd61)"/>
<rect x="390.1" y="405.88" width="9" height="3.31" fill="#030303"/>
<rect x="618" y="405.88" width="9" height="3.31" fill="#afafaf"/>
<rect x="398.1" y="405.88" width="220.9" height="3.31" fill="url(#gd62)"/>
<rect x="390.1" y="407.88" width="9" height="3.31" fill="#030303"/>
<rect x="618" y="407.88" width="9" height="3.31" fill="#b3b3b3"/>
<rect x="398.1" y="407.88" width="220.9" height="3.31" fill="url(#gd63)"/>
<rect x="390.1" y="409.89" width="9" height="3.31" fill="#030303"/>
<rect x="618" y="409.89" width="9" height="3.31" fill="#b7b7b7"/>
<rect x="398.1" y="409.89" width="220.9" height="3.31" fill="url(#gd64)"/>
<rect x="390.1" y="411.9" width="9" height="3.31" fill="#030303"/>
<rect x="618" y="411.9" width="9" height="3.31" fill="#bababa"/>
<rect x="398.1" y="411.9" width="220.9" height="3.31" fill="url(#gd65)"/>
<rect x="390.1" y="413.9" width="9" height="3.31" fill="#030303"/>
<rect x="618" y="413.9" width="9" height="3.31" fill="#bdbdbd"/>
<rect x="398.1" y="413.9" width="220.9" height="3.31" fill="url(#gd66)"/>
<rect x="390.1" y="415.91" width="9" height="3.31" fill="#030303"/>
<rect x="618" y="415.91" width="9" height="3.31" fill="#c0c0c0"/>
<rect x="398.1" y="415.91" width="220.9" height="3.31" fill="url(#gd67)"/>
<rect x="390.1" y="417.91" width="9" height="3.31" fill="#030303"/>
<rect x="618" y="417.91" width="9" height="3.31" fill="#c2c2c2"/>
<rect x="398.1" y="417.91" width="220.9" height="3.31" fill="url(#gd68)"/>
<rect x="390.1" y="419.92" width="9" height="3.31" fill="#030303"/>
<rect x="618" y="419.92" width="9" height="3.31" fill="#c5c5c5"/>
<rect x="398.1" y="419.92" width="220.9" height="3.31" fill="url(#gd69)"/>
<rect x="390.1" y="421.93" width="9" height="3.31" fill="#030303"/>
<rect x="618" y="421.93" width="9" height="3.31" fill="#c7c7c7"/>
<rect x="398.1" y="421.93" width="220.9" height="3.31" fill="url(#gd70)"/>
<rect x="390.1" y="423.93" width="9" height="3.31" fill="#030303"/>
<rect x="618" y="423.93" width="9" height="3.31" fill="#c8c8c8"/>
<rect x="398.1" y="423.93" width="220.9" height="3.31" fill="url(#gd71)"/>
<rect x="390.1" y="425.94" width="9" height="3.31" fill="#030303"/>
<rect x="618" y="425.94" width="9" height="3.31" fill="#c9c9c9"/>
<rect x="398.1" y="425.94" width="220.9" height="3.31" fill="url(#gd72)"/>
<rect x="390.1" y="427.95" width="9" height="3.31" fill="#030303"/>
<rect x="618" y="427.95" width="9" height="3.31" fill="#cbcbcb"/>
<rect x="398.1" y="427.95" width="220.9" height="3.31" fill="url(#gd73)"/>
<rect x="390.1" y="429.95" width="9" height="3.31" fill="#030303"/>
<rect x="618" y="429.95" width="9" height="3.31" fill="#cccccc"/>
<rect x="398.1" y="429.95" width="220.9" height="3.31" fill="url(#gd74)"/>
<rect x="390.1" y="431.96" width="9" height="3.31" fill="#030303"/>
<rect x="618" y="431.96" width="9" height="3.31" fill="#cccccc"/>
<rect x="398.1" y="431.96" width="220.9" height="3.31" fill="url(#gd75)"/>
<rect x="390.1" y="433.96" width="9" height="3.31" fill="#030303"/>
<rect x="618" y="433.96" width="9" height="3.31" fill="#cccccc"/>
<rect x="398.1" y="433.96" width="220.9" height="3.31" fill="url(#gd76)"/>
<rect x="390.1" y="435.97" width="9" height="3.31" fill="#030303"/>
<rect x="618" y="435.97" width="9" height="3.31" fill="#cccccc"/>
<rect x="398.1" y="435.97" width="220.9" height="3.31" fill="url(#gd77)"/>
<rect x="390.1" y="437.98" width="9" height="3.31" fill="#030303"/>
<rect x="618" y="437.98" width="9" height="3.31" fill="#cccccc"/>
<rect x="398.1" y="437.98" width="220.9" height="3.31" fill="url(#gd78)"/>
<rect x="390.1" y="439.98" width="9" height="3.31" fill="#030303"/>
<rect x="618" y="439.98" width="9" height="3.31" fill="#cccccc"/>
<rect x="398.1" y="439.98" width="220.9" height="3.31" fill="url(#gd79)"/>
<rect x="390.1" y="441.99" width="9" height="3.31" fill="#030303"/>
<rect x="618" y="441.99" width="9" height="3.31" fill="#cccccc"/>
<rect x="398.1" y="441.99" width="220.9" height="3.31" fill="url(#gd80)"/>
<rect x="390.1" y="443.99" width="9" height="11.31" fill="#030303"/>
<rect x="618" y="443.99" width="9" height="11.31" fill="#cccccc"/>
<rect x="398.1" y="443.99" width="220.9" height="11.31" fill="url(#gd81)"/>
</g></g>
<path d="M76 222v2.2M76 58v-2.2" stroke="#2e2e2e" stroke-width=".7" fill="none"/><text class="t" x="76" y="241.5" font-size="12.7" fill="#2e2e2e" text-anchor="middle">400</text><path d="M125 222v2.2M125 58v-2.2" stroke="#2e2e2e" stroke-width=".7" fill="none"/><text class="t" x="125" y="241.5" font-size="12.7" fill="#2e2e2e" text-anchor="middle">500</text><path d="M174 222v2.2M174 58v-2.2" stroke="#2e2e2e" stroke-width=".7" fill="none"/><text class="t" x="174" y="241.5" font-size="12.7" fill="#2e2e2e" text-anchor="middle">600</text><path d="M223 222v2.2M223 58v-2.2" stroke="#2e2e2e" stroke-width=".7" fill="none"/><text class="t" x="223" y="241.5" font-size="12.7" fill="#2e2e2e" text-anchor="middle">700</text><path d="M272 222v2.2M272 58v-2.2" stroke="#2e2e2e" stroke-width=".7" fill="none"/><text class="t" x="272" y="241.5" font-size="12.7" fill="#2e2e2e" text-anchor="middle">800</text><path d="M76 58h-2.2M296.5 58h2.2" stroke="#2e2e2e" stroke-width=".7" fill="none"/><text class="t" x="68.3" y="62.2" font-size="12.7" fill="#2e2e2e" text-anchor="end">200</text><path d="M76 84.54h-2.2M296.5 84.54h2.2" stroke="#2e2e2e" stroke-width=".7" fill="none"/><text class="t" x="68.3" y="88.74" font-size="12.7" fill="#2e2e2e" text-anchor="end">180</text><path d="M76 111.07h-2.2M296.5 111.07h2.2" stroke="#2e2e2e" stroke-width=".7" fill="none"/><text class="t" x="68.3" y="115.27" font-size="12.7" fill="#2e2e2e" text-anchor="end">160</text><path d="M76 137.61h-2.2M296.5 137.61h2.2" stroke="#2e2e2e" stroke-width=".7" fill="none"/><text class="t" x="68.3" y="141.81" font-size="12.7" fill="#2e2e2e" text-anchor="end">140</text><path d="M76 164.15h-2.2M296.5 164.15h2.2" stroke="#2e2e2e" stroke-width=".7" fill="none"/><text class="t" x="68.3" y="168.35" font-size="12.7" fill="#2e2e2e" text-anchor="end">120</text><path d="M76 190.69h-2.2M296.5 190.69h2.2" stroke="#2e2e2e" stroke-width=".7" fill="none"/><text class="t" x="68.3" y="194.89" font-size="12.7" fill="#2e2e2e" text-anchor="end">100</text><path d="M76 217.22h-2.2M296.5 217.22h2.2" stroke="#2e2e2e" stroke-width=".7" fill="none"/><text class="t" x="68.3" y="221.42" font-size="12.7" fill="#2e2e2e" text-anchor="end">80</text>
<rect x="307.2" y="58" width="21" height="164" fill="url(#jetm)" stroke="#2e2e2e" stroke-width=".5"/>
<path d="M328.2 58h-2" stroke="#2e2e2e" stroke-width=".6"/>
<text class="t" x="334" y="62.4" font-size="12.7" fill="#2e2e2e">30</text>
<path d="M328.2 85.4h-2" stroke="#2e2e2e" stroke-width=".6"/>
<text class="t" x="334" y="89.8" font-size="12.7" fill="#2e2e2e">25</text>
<path d="M328.2 112.8h-2" stroke="#2e2e2e" stroke-width=".6"/>
<text class="t" x="334" y="117.2" font-size="12.7" fill="#2e2e2e">20</text>
<path d="M328.2 140.2h-2" stroke="#2e2e2e" stroke-width=".6"/>
<text class="t" x="334" y="144.6" font-size="12.7" fill="#2e2e2e">15</text>
<path d="M328.2 167.6h-2" stroke="#2e2e2e" stroke-width=".6"/>
<text class="t" x="334" y="172" font-size="12.7" fill="#2e2e2e">10</text>
<path d="M328.2 195h-2" stroke="#2e2e2e" stroke-width=".6"/>
<text class="t" x="334" y="199.4" font-size="12.7" fill="#2e2e2e">5</text>
<path d="M328.2 222.4h-2" stroke="#2e2e2e" stroke-width=".6"/>
<text class="t" x="334" y="226.8" font-size="12.7" fill="#2e2e2e">0</text>
<path d="M397.3 220.4v2.2M397.3 56v-2.2" stroke="#2e2e2e" stroke-width=".7" fill="none"/><text class="t" x="397.3" y="239.9" font-size="12.7" fill="#2e2e2e" text-anchor="middle">400</text><path d="M446.34 220.4v2.2M446.34 56v-2.2" stroke="#2e2e2e" stroke-width=".7" fill="none"/><text class="t" x="446.34" y="239.9" font-size="12.7" fill="#2e2e2e" text-anchor="middle">500</text><path d="M495.39 220.4v2.2M495.39 56v-2.2" stroke="#2e2e2e" stroke-width=".7" fill="none"/><text class="t" x="495.39" y="239.9" font-size="12.7" fill="#2e2e2e" text-anchor="middle">600</text><path d="M544.43 220.4v2.2M544.43 56v-2.2" stroke="#2e2e2e" stroke-width=".7" fill="none"/><text class="t" x="544.43" y="239.9" font-size="12.7" fill="#2e2e2e" text-anchor="middle">700</text><path d="M593.48 220.4v2.2M593.48 56v-2.2" stroke="#2e2e2e" stroke-width=".7" fill="none"/><text class="t" x="593.48" y="239.9" font-size="12.7" fill="#2e2e2e" text-anchor="middle">800</text><path d="M397.3 56h-2.2M618 56h2.2" stroke="#2e2e2e" stroke-width=".7" fill="none"/><text class="t" x="389.6" y="60.2" font-size="12.7" fill="#2e2e2e" text-anchor="end">200</text><path d="M397.3 82.6h-2.2M618 82.6h2.2" stroke="#2e2e2e" stroke-width=".7" fill="none"/><text class="t" x="389.6" y="86.8" font-size="12.7" fill="#2e2e2e" text-anchor="end">180</text><path d="M397.3 109.2h-2.2M618 109.2h2.2" stroke="#2e2e2e" stroke-width=".7" fill="none"/><text class="t" x="389.6" y="113.4" font-size="12.7" fill="#2e2e2e" text-anchor="end">160</text><path d="M397.3 135.81h-2.2M618 135.81h2.2" stroke="#2e2e2e" stroke-width=".7" fill="none"/><text class="t" x="389.6" y="140.01" font-size="12.7" fill="#2e2e2e" text-anchor="end">140</text><path d="M397.3 162.41h-2.2M618 162.41h2.2" stroke="#2e2e2e" stroke-width=".7" fill="none"/><text class="t" x="389.6" y="166.61" font-size="12.7" fill="#2e2e2e" text-anchor="end">120</text><path d="M397.3 189.01h-2.2M618 189.01h2.2" stroke="#2e2e2e" stroke-width=".7" fill="none"/><text class="t" x="389.6" y="193.21" font-size="12.7" fill="#2e2e2e" text-anchor="end">100</text><path d="M397.3 215.61h-2.2M618 215.61h2.2" stroke="#2e2e2e" stroke-width=".7" fill="none"/><text class="t" x="389.6" y="219.81" font-size="12.7" fill="#2e2e2e" text-anchor="end">80</text>
<rect x="629.3" y="56" width="21.3" height="164.4" fill="url(#jetm)" stroke="#2e2e2e" stroke-width=".5"/>
<path d="M650.6 56.4h-2" stroke="#2e2e2e" stroke-width=".6"/>
<text class="t" x="655.2" y="60.8" font-size="12.7" fill="#2e2e2e">0.8</text>
<path d="M650.6 97.4h-2" stroke="#2e2e2e" stroke-width=".6"/>
<text class="t" x="655.2" y="101.8" font-size="12.7" fill="#2e2e2e">0.6</text>
<path d="M650.6 138.4h-2" stroke="#2e2e2e" stroke-width=".6"/>
<text class="t" x="655.2" y="142.8" font-size="12.7" fill="#2e2e2e">0.4</text>
<path d="M650.6 179.4h-2" stroke="#2e2e2e" stroke-width=".6"/>
<text class="t" x="655.2" y="183.8" font-size="12.7" fill="#2e2e2e">0.2</text>
<path d="M650.6 220.4h-2" stroke="#2e2e2e" stroke-width=".6"/>
<text class="t" x="655.2" y="224.8" font-size="12.7" fill="#2e2e2e">0</text>
<path d="M74.3 446v2.2M74.3 281.5v-2.2" stroke="#2e2e2e" stroke-width=".7" fill="none"/><text class="t" x="74.3" y="465.5" font-size="12.7" fill="#2e2e2e" text-anchor="middle">400</text><path d="M124.41 446v2.2M124.41 281.5v-2.2" stroke="#2e2e2e" stroke-width=".7" fill="none"/><text class="t" x="124.41" y="465.5" font-size="12.7" fill="#2e2e2e" text-anchor="middle">500</text><path d="M174.53 446v2.2M174.53 281.5v-2.2" stroke="#2e2e2e" stroke-width=".7" fill="none"/><text class="t" x="174.53" y="465.5" font-size="12.7" fill="#2e2e2e" text-anchor="middle">600</text><path d="M224.64 446v2.2M224.64 281.5v-2.2" stroke="#2e2e2e" stroke-width=".7" fill="none"/><text class="t" x="224.64" y="465.5" font-size="12.7" fill="#2e2e2e" text-anchor="middle">700</text><path d="M274.75 446v2.2M274.75 281.5v-2.2" stroke="#2e2e2e" stroke-width=".7" fill="none"/><text class="t" x="274.75" y="465.5" font-size="12.7" fill="#2e2e2e" text-anchor="middle">800</text><path d="M74.3 281.5h-2.2M294.8 281.5h2.2" stroke="#2e2e2e" stroke-width=".7" fill="none"/><text class="t" x="66.6" y="285.7" font-size="12.7" fill="#2e2e2e" text-anchor="end">200</text><path d="M74.3 308.03h-2.2M294.8 308.03h2.2" stroke="#2e2e2e" stroke-width=".7" fill="none"/><text class="t" x="66.6" y="312.23" font-size="12.7" fill="#2e2e2e" text-anchor="end">180</text><path d="M74.3 334.56h-2.2M294.8 334.56h2.2" stroke="#2e2e2e" stroke-width=".7" fill="none"/><text class="t" x="66.6" y="338.76" font-size="12.7" fill="#2e2e2e" text-anchor="end">160</text><path d="M74.3 361.1h-2.2M294.8 361.1h2.2" stroke="#2e2e2e" stroke-width=".7" fill="none"/><text class="t" x="66.6" y="365.3" font-size="12.7" fill="#2e2e2e" text-anchor="end">140</text><path d="M74.3 387.63h-2.2M294.8 387.63h2.2" stroke="#2e2e2e" stroke-width=".7" fill="none"/><text class="t" x="66.6" y="391.83" font-size="12.7" fill="#2e2e2e" text-anchor="end">120</text><path d="M74.3 414.16h-2.2M294.8 414.16h2.2" stroke="#2e2e2e" stroke-width=".7" fill="none"/><text class="t" x="66.6" y="418.36" font-size="12.7" fill="#2e2e2e" text-anchor="end">100</text><path d="M74.3 440.69h-2.2M294.8 440.69h2.2" stroke="#2e2e2e" stroke-width=".7" fill="none"/><text class="t" x="66.6" y="444.89" font-size="12.7" fill="#2e2e2e" text-anchor="end">80</text>
<rect x="307" y="281.5" width="21.3" height="164.5" fill="url(#jetc)" stroke="#2e2e2e" stroke-width=".5"/>
<path d="M328.3 295h-2" stroke="#2e2e2e" stroke-width=".6"/>
<text class="t" x="334" y="299.4" font-size="12.7" fill="#2e2e2e">6</text>
<path d="M328.3 320.3h-2" stroke="#2e2e2e" stroke-width=".6"/>
<text class="t" x="334" y="324.7" font-size="12.7" fill="#2e2e2e">5</text>
<path d="M328.3 345.6h-2" stroke="#2e2e2e" stroke-width=".6"/>
<text class="t" x="334" y="350" font-size="12.7" fill="#2e2e2e">4</text>
<path d="M328.3 370.9h-2" stroke="#2e2e2e" stroke-width=".6"/>
<text class="t" x="334" y="375.3" font-size="12.7" fill="#2e2e2e">3</text>
<path d="M328.3 396.2h-2" stroke="#2e2e2e" stroke-width=".6"/>
<text class="t" x="334" y="400.6" font-size="12.7" fill="#2e2e2e">2</text>
<path d="M328.3 421.5h-2" stroke="#2e2e2e" stroke-width=".6"/>
<text class="t" x="334" y="425.9" font-size="12.7" fill="#2e2e2e">1</text>
<path d="M398.1 446v2.2M398.1 281.5v-2.2" stroke="#2e2e2e" stroke-width=".7" fill="none"/><text class="t" x="398.1" y="465.5" font-size="12.7" fill="#2e2e2e" text-anchor="middle">400</text><path d="M448.3 446v2.2M448.3 281.5v-2.2" stroke="#2e2e2e" stroke-width=".7" fill="none"/><text class="t" x="448.3" y="465.5" font-size="12.7" fill="#2e2e2e" text-anchor="middle">500</text><path d="M498.51 446v2.2M498.51 281.5v-2.2" stroke="#2e2e2e" stroke-width=".7" fill="none"/><text class="t" x="498.51" y="465.5" font-size="12.7" fill="#2e2e2e" text-anchor="middle">600</text><path d="M548.71 446v2.2M548.71 281.5v-2.2" stroke="#2e2e2e" stroke-width=".7" fill="none"/><text class="t" x="548.71" y="465.5" font-size="12.7" fill="#2e2e2e" text-anchor="middle">700</text><path d="M598.92 446v2.2M598.92 281.5v-2.2" stroke="#2e2e2e" stroke-width=".7" fill="none"/><text class="t" x="598.92" y="465.5" font-size="12.7" fill="#2e2e2e" text-anchor="middle">800</text><path d="M398.1 281.5h-2.2M619 281.5h2.2" stroke="#2e2e2e" stroke-width=".7" fill="none"/><text class="t" x="390.4" y="285.7" font-size="12.7" fill="#2e2e2e" text-anchor="end">200</text><path d="M398.1 308.03h-2.2M619 308.03h2.2" stroke="#2e2e2e" stroke-width=".7" fill="none"/><text class="t" x="390.4" y="312.23" font-size="12.7" fill="#2e2e2e" text-anchor="end">180</text><path d="M398.1 334.56h-2.2M619 334.56h2.2" stroke="#2e2e2e" stroke-width=".7" fill="none"/><text class="t" x="390.4" y="338.76" font-size="12.7" fill="#2e2e2e" text-anchor="end">160</text><path d="M398.1 361.1h-2.2M619 361.1h2.2" stroke="#2e2e2e" stroke-width=".7" fill="none"/><text class="t" x="390.4" y="365.3" font-size="12.7" fill="#2e2e2e" text-anchor="end">140</text><path d="M398.1 387.63h-2.2M619 387.63h2.2" stroke="#2e2e2e" stroke-width=".7" fill="none"/><text class="t" x="390.4" y="391.83" font-size="12.7" fill="#2e2e2e" text-anchor="end">120</text><path d="M398.1 414.16h-2.2M619 414.16h2.2" stroke="#2e2e2e" stroke-width=".7" fill="none"/><text class="t" x="390.4" y="418.36" font-size="12.7" fill="#2e2e2e" text-anchor="end">100</text><path d="M398.1 440.69h-2.2M619 440.69h2.2" stroke="#2e2e2e" stroke-width=".7" fill="none"/><text class="t" x="390.4" y="444.89" font-size="12.7" fill="#2e2e2e" text-anchor="end">80</text>
<rect x="630" y="281.5" width="21" height="164.5" fill="url(#jetd)" stroke="#2e2e2e" stroke-width=".5"/>
<path d="M651 309.7h-2" stroke="#2e2e2e" stroke-width=".6"/>
<text class="t" x="656.7" y="314.1" font-size="12.7" fill="#2e2e2e">0.2</text>
<path d="M651 344h-2" stroke="#2e2e2e" stroke-width=".6"/>
<text class="t" x="656.7" y="348.4" font-size="12.7" fill="#2e2e2e">0.15</text>
<path d="M651 378.3h-2" stroke="#2e2e2e" stroke-width=".6"/>
<text class="t" x="656.7" y="382.7" font-size="12.7" fill="#2e2e2e">0.1</text>
<path d="M651 412.1h-2" stroke="#2e2e2e" stroke-width=".6"/>
<text class="t" x="656.7" y="416.5" font-size="12.7" fill="#2e2e2e">0.05</text>
<text class="b" x="187.3" y="15.7" font-size="18.9" fill="#111" text-anchor="middle">Cross-polarization</text>
<text class="b" x="497" y="15.7" font-size="18.9" fill="#111" text-anchor="middle">Reflectance</text>
<text class="b" x="75.5" y="40.2" font-size="16.5" fill="#111">(a)</text>
<text class="b" x="401.5" y="40.6" font-size="16.5" fill="#111">(b)</text>
<text class="b" x="74.8" y="268.2" font-size="16.5" fill="#111">(c)</text>
<text class="b" x="393" y="269" font-size="16.5" fill="#111">(d)</text>
<text class="t" x="308" y="43.5" font-size="12.3" fill="#2e2e2e">(a.u.)</text>
<text class="t" x="633" y="41.7" font-size="12.3" fill="#2e2e2e">(a.u.)</text>
<text class="t" x="310" y="260.5" font-size="12.3" fill="#2e2e2e">(a.u.)</text>
<text class="t" x="630.6" y="275" font-size="12.3" fill="#2e2e2e">(a.u.)</text>
<text x="328.4" y="274.9" font-size="13" fill="#2e2e2e"><tspan fill="#777">×</tspan><tspan class="t">10</tspan><tspan class="t" dx="1" dy="-6" font-size="10.5">-3</tspan></text>
<text class="t" x="294.3" y="482.3" font-size="14.4" fill="#2e2e2e">Wavelength (nm)</text>
<text transform="translate(35.2 349) rotate(-90)" class="t" font-size="14.3" fill="#2e2e2e">NW average diameter (nm)</text>
<text transform="translate(15.1 206.5) rotate(-90)" class="b" font-size="19" fill="#111">Measurement</text>
<text transform="translate(18.6 414.6) rotate(-90)" class="b" font-size="19" fill="#111">Simulation</text>
</svg></body></html>
